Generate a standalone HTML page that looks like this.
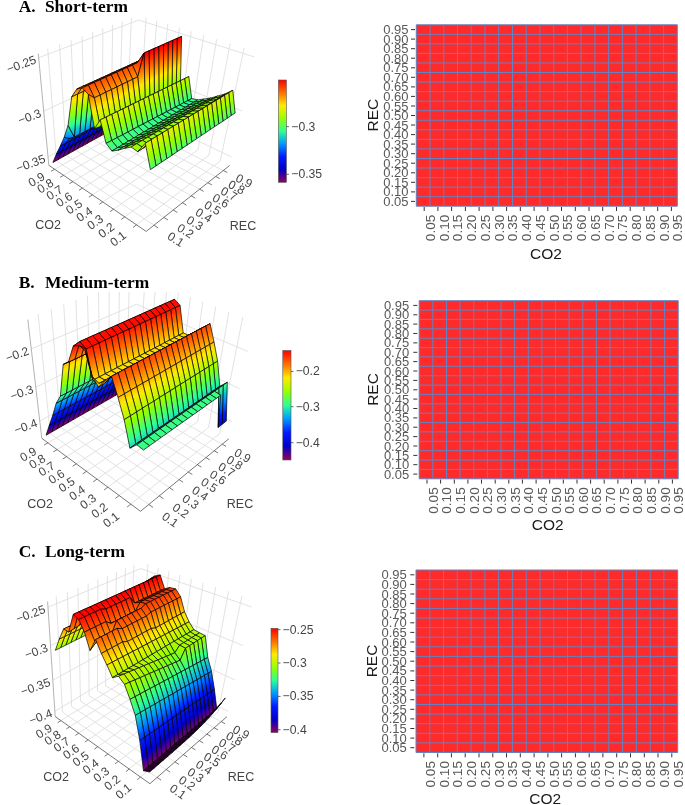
<!DOCTYPE html><html><head><meta charset="utf-8"><title>Figure</title><style>html,body{margin:0;padding:0;background:#fff}svg{display:block}</style></head><body><svg width="685" height="805" viewBox="0 0 685 805" font-family="'Liberation Sans',sans-serif"><g><defs><linearGradient id="a1" gradientUnits="userSpaceOnUse" x1="134.3" y1="117.2" x2="131.9" y2="112.9"><stop offset="0" stop-color="#96005a"/><stop offset="0.007" stop-color="#96005a"/><stop offset="0.99" stop-color="#0000c8"/><stop offset="1" stop-color="#0000c9"/></linearGradient><linearGradient id="a2" gradientUnits="userSpaceOnUse" x1="139.2" y1="108.9" x2="137.2" y2="105.1"><stop offset="0" stop-color="#0000c9"/><stop offset="1" stop-color="#0017fb"/></linearGradient><linearGradient id="a3" gradientUnits="userSpaceOnUse" x1="130.4" y1="119.4" x2="128" y2="115"><stop offset="0" stop-color="#96005a"/><stop offset="0.007" stop-color="#96005a"/><stop offset="0.99" stop-color="#0000c8"/><stop offset="1" stop-color="#0000c9"/></linearGradient><linearGradient id="a4" gradientUnits="userSpaceOnUse" x1="144" y1="101.4" x2="142.9" y2="99.4"><stop offset="0" stop-color="#0017fb"/><stop offset="0.114" stop-color="#0019ff"/><stop offset="1" stop-color="#0066ff"/></linearGradient><linearGradient id="a5" gradientUnits="userSpaceOnUse" x1="135.2" y1="111.1" x2="133.2" y2="107.3"><stop offset="0" stop-color="#0000c9"/><stop offset="1" stop-color="#0017fb"/></linearGradient><linearGradient id="a6" gradientUnits="userSpaceOnUse" x1="126.4" y1="121.6" x2="124" y2="117.2"><stop offset="0" stop-color="#96005a"/><stop offset="0.007" stop-color="#96005a"/><stop offset="0.99" stop-color="#0000c8"/><stop offset="1" stop-color="#0000c9"/></linearGradient><linearGradient id="a7" gradientUnits="userSpaceOnUse" x1="148.4" y1="96.4" x2="148.9" y2="97.4"><stop offset="0" stop-color="#0066ff"/><stop offset="1" stop-color="#008fff"/></linearGradient><linearGradient id="a8" gradientUnits="userSpaceOnUse" x1="139.9" y1="103.6" x2="138.8" y2="101.5"><stop offset="0" stop-color="#0017fb"/><stop offset="0.114" stop-color="#0019ff"/><stop offset="1" stop-color="#0066ff"/></linearGradient><linearGradient id="a9" gradientUnits="userSpaceOnUse" x1="131.2" y1="113.3" x2="129.1" y2="109.4"><stop offset="0" stop-color="#0000c9"/><stop offset="1" stop-color="#0017fb"/></linearGradient><linearGradient id="a10" gradientUnits="userSpaceOnUse" x1="122.3" y1="123.9" x2="119.9" y2="119.4"><stop offset="0" stop-color="#96005a"/><stop offset="0.007" stop-color="#96005a"/><stop offset="0.99" stop-color="#0000c8"/><stop offset="1" stop-color="#0000c9"/></linearGradient><linearGradient id="a11" gradientUnits="userSpaceOnUse" x1="162.7" y1="90.4" x2="148.4" y2="61.5"><stop offset="0" stop-color="#008fff"/><stop offset="0.02" stop-color="#0098ff"/><stop offset="0.311" stop-color="#2cff96"/><stop offset="0.602" stop-color="#97ff00"/><stop offset="0.893" stop-color="#ffea00"/><stop offset="1" stop-color="#ffbd00"/></linearGradient><linearGradient id="a12" gradientUnits="userSpaceOnUse" x1="144.3" y1="98.6" x2="144.8" y2="99.5"><stop offset="0" stop-color="#0066ff"/><stop offset="1" stop-color="#008fff"/></linearGradient><linearGradient id="a13" gradientUnits="userSpaceOnUse" x1="135.8" y1="105.8" x2="134.7" y2="103.7"><stop offset="0" stop-color="#0017fb"/><stop offset="0.114" stop-color="#0019ff"/><stop offset="1" stop-color="#0066ff"/></linearGradient><linearGradient id="a14" gradientUnits="userSpaceOnUse" x1="127.1" y1="115.5" x2="125" y2="111.6"><stop offset="0" stop-color="#0000c9"/><stop offset="1" stop-color="#0017fb"/></linearGradient><linearGradient id="a15" gradientUnits="userSpaceOnUse" x1="118.2" y1="126.1" x2="115.8" y2="121.7"><stop offset="0" stop-color="#96005a"/><stop offset="0.007" stop-color="#96005a"/><stop offset="0.99" stop-color="#0000c8"/><stop offset="1" stop-color="#0000c9"/></linearGradient><linearGradient id="a16" gradientUnits="userSpaceOnUse" x1="164" y1="54" x2="162.3" y2="50.2"><stop offset="0" stop-color="#ffbd00"/><stop offset="0.906" stop-color="#ff6f00"/><stop offset="1" stop-color="#ff6800"/></linearGradient><linearGradient id="a17" gradientUnits="userSpaceOnUse" x1="158.6" y1="92.6" x2="144.2" y2="63.5"><stop offset="0" stop-color="#008fff"/><stop offset="0.02" stop-color="#0098ff"/><stop offset="0.311" stop-color="#2cff96"/><stop offset="0.602" stop-color="#97ff00"/><stop offset="0.893" stop-color="#ffea00"/><stop offset="1" stop-color="#ffbd00"/></linearGradient><linearGradient id="a18" gradientUnits="userSpaceOnUse" x1="140.2" y1="100.8" x2="140.7" y2="101.7"><stop offset="0" stop-color="#0066ff"/><stop offset="1" stop-color="#008fff"/></linearGradient><linearGradient id="a19" gradientUnits="userSpaceOnUse" x1="131.7" y1="108.1" x2="130.5" y2="105.9"><stop offset="0" stop-color="#0017fb"/><stop offset="0.114" stop-color="#0019ff"/><stop offset="1" stop-color="#0066ff"/></linearGradient><linearGradient id="a20" gradientUnits="userSpaceOnUse" x1="122.9" y1="117.8" x2="120.8" y2="113.9"><stop offset="0" stop-color="#0000c9"/><stop offset="1" stop-color="#0017fb"/></linearGradient><linearGradient id="a21" gradientUnits="userSpaceOnUse" x1="114.1" y1="128.5" x2="111.6" y2="124"><stop offset="0" stop-color="#96005a"/><stop offset="0.007" stop-color="#96005a"/><stop offset="0.99" stop-color="#0000c8"/><stop offset="1" stop-color="#0000c9"/></linearGradient><linearGradient id="a22" gradientUnits="userSpaceOnUse" x1="159.6" y1="56" x2="157.9" y2="52.2"><stop offset="0" stop-color="#ffbd00"/><stop offset="0.906" stop-color="#ff6f00"/><stop offset="1" stop-color="#ff6800"/></linearGradient><linearGradient id="a23" gradientUnits="userSpaceOnUse" x1="154.4" y1="94.9" x2="139.8" y2="65.5"><stop offset="0" stop-color="#008fff"/><stop offset="0.02" stop-color="#0098ff"/><stop offset="0.311" stop-color="#2cff96"/><stop offset="0.602" stop-color="#97ff00"/><stop offset="0.893" stop-color="#ffea00"/><stop offset="1" stop-color="#ffbd00"/></linearGradient><linearGradient id="a24" gradientUnits="userSpaceOnUse" x1="136" y1="103" x2="136.5" y2="104"><stop offset="0" stop-color="#0066ff"/><stop offset="1" stop-color="#008fff"/></linearGradient><linearGradient id="a25" gradientUnits="userSpaceOnUse" x1="177" y1="44.7" x2="174.7" y2="39.4"><stop offset="0" stop-color="#ff4b00"/><stop offset="0.84" stop-color="#ff0000"/><stop offset="1" stop-color="#ff0000"/></linearGradient><linearGradient id="a26" gradientUnits="userSpaceOnUse" x1="127.4" y1="110.3" x2="126.3" y2="108.2"><stop offset="0" stop-color="#0017fb"/><stop offset="0.114" stop-color="#0019ff"/><stop offset="1" stop-color="#0066ff"/></linearGradient><linearGradient id="a27" gradientUnits="userSpaceOnUse" x1="118.7" y1="120.1" x2="116.5" y2="116.2"><stop offset="0" stop-color="#0000c9"/><stop offset="1" stop-color="#0017fb"/></linearGradient><linearGradient id="a28" gradientUnits="userSpaceOnUse" x1="109.8" y1="130.8" x2="107.3" y2="126.3"><stop offset="0" stop-color="#96005a"/><stop offset="0.007" stop-color="#96005a"/><stop offset="0.99" stop-color="#0000c8"/><stop offset="1" stop-color="#0000c9"/></linearGradient><linearGradient id="a29" gradientUnits="userSpaceOnUse" x1="155.2" y1="58" x2="153.5" y2="54.2"><stop offset="0" stop-color="#ffbd00"/><stop offset="0.906" stop-color="#ff6f00"/><stop offset="1" stop-color="#ff6800"/></linearGradient><linearGradient id="a30" gradientUnits="userSpaceOnUse" x1="150.1" y1="97.1" x2="135.4" y2="67.5"><stop offset="0" stop-color="#008fff"/><stop offset="0.02" stop-color="#0098ff"/><stop offset="0.311" stop-color="#2cff96"/><stop offset="0.602" stop-color="#97ff00"/><stop offset="0.893" stop-color="#ffea00"/><stop offset="1" stop-color="#ffbd00"/></linearGradient><linearGradient id="a31" gradientUnits="userSpaceOnUse" x1="190.9" y1="92.6" x2="166.5" y2="43.8"><stop offset="0" stop-color="#1cd9bd"/><stop offset="0.082" stop-color="#2cff96"/><stop offset="0.304" stop-color="#97ff00"/><stop offset="0.527" stop-color="#ffea00"/><stop offset="0.749" stop-color="#ff6f00"/><stop offset="0.971" stop-color="#ff0000"/><stop offset="1" stop-color="#ff0000"/></linearGradient><linearGradient id="a32" gradientUnits="userSpaceOnUse" x1="131.7" y1="105.3" x2="132.2" y2="106.3"><stop offset="0" stop-color="#0066ff"/><stop offset="1" stop-color="#008fff"/></linearGradient><linearGradient id="a33" gradientUnits="userSpaceOnUse" x1="123.1" y1="112.6" x2="122" y2="110.5"><stop offset="0" stop-color="#0017fb"/><stop offset="0.114" stop-color="#0019ff"/><stop offset="1" stop-color="#0066ff"/></linearGradient><linearGradient id="a34" gradientUnits="userSpaceOnUse" x1="172.6" y1="46.7" x2="170.2" y2="41.4"><stop offset="0" stop-color="#ff4b00"/><stop offset="0.84" stop-color="#ff0000"/><stop offset="1" stop-color="#ff0000"/></linearGradient><linearGradient id="a35" gradientUnits="userSpaceOnUse" x1="114.4" y1="122.4" x2="112.2" y2="118.5"><stop offset="0" stop-color="#0000c9"/><stop offset="1" stop-color="#0017fb"/></linearGradient><linearGradient id="a36" gradientUnits="userSpaceOnUse" x1="105.5" y1="133.2" x2="103" y2="128.6"><stop offset="0" stop-color="#96005a"/><stop offset="0.007" stop-color="#96005a"/><stop offset="0.99" stop-color="#0000c8"/><stop offset="1" stop-color="#0000c9"/></linearGradient><linearGradient id="a37" gradientUnits="userSpaceOnUse" x1="185.9" y1="94.8" x2="178.8" y2="81.8"><stop offset="0" stop-color="#1cd9bd"/><stop offset="0.195" stop-color="#2cff96"/><stop offset="0.723" stop-color="#97ff00"/><stop offset="1" stop-color="#cdf400"/></linearGradient><linearGradient id="a38" gradientUnits="userSpaceOnUse" x1="150.7" y1="60.1" x2="149" y2="56.3"><stop offset="0" stop-color="#ffbd00"/><stop offset="0.906" stop-color="#ff6f00"/><stop offset="1" stop-color="#ff6800"/></linearGradient><linearGradient id="a39" gradientUnits="userSpaceOnUse" x1="145.7" y1="99.5" x2="130.9" y2="69.6"><stop offset="0" stop-color="#008fff"/><stop offset="0.02" stop-color="#0098ff"/><stop offset="0.311" stop-color="#2cff96"/><stop offset="0.602" stop-color="#97ff00"/><stop offset="0.893" stop-color="#ffea00"/><stop offset="1" stop-color="#ffbd00"/></linearGradient><linearGradient id="a40" gradientUnits="userSpaceOnUse" x1="186.8" y1="95" x2="162.1" y2="45.7"><stop offset="0" stop-color="#1cd9bd"/><stop offset="0.082" stop-color="#2cff96"/><stop offset="0.304" stop-color="#97ff00"/><stop offset="0.527" stop-color="#ffea00"/><stop offset="0.749" stop-color="#ff6f00"/><stop offset="0.971" stop-color="#ff0000"/><stop offset="1" stop-color="#ff0000"/></linearGradient><linearGradient id="a41" gradientUnits="userSpaceOnUse" x1="127.3" y1="107.6" x2="127.9" y2="108.6"><stop offset="0" stop-color="#0066ff"/><stop offset="1" stop-color="#008fff"/></linearGradient><linearGradient id="a42" gradientUnits="userSpaceOnUse" x1="118.8" y1="115" x2="117.6" y2="112.8"><stop offset="0" stop-color="#0017fb"/><stop offset="0.114" stop-color="#0019ff"/><stop offset="1" stop-color="#0066ff"/></linearGradient><linearGradient id="a43" gradientUnits="userSpaceOnUse" x1="110" y1="124.8" x2="107.8" y2="120.9"><stop offset="0" stop-color="#0000c9"/><stop offset="1" stop-color="#0017fb"/></linearGradient><linearGradient id="a44" gradientUnits="userSpaceOnUse" x1="101.2" y1="135.6" x2="98.6" y2="131"><stop offset="0" stop-color="#96005a"/><stop offset="0.007" stop-color="#96005a"/><stop offset="0.99" stop-color="#0000c8"/><stop offset="1" stop-color="#0000c9"/></linearGradient><linearGradient id="a45" gradientUnits="userSpaceOnUse" x1="168.1" y1="48.7" x2="165.7" y2="43.4"><stop offset="0" stop-color="#ff4b00"/><stop offset="0.84" stop-color="#ff0000"/><stop offset="1" stop-color="#ff0000"/></linearGradient><linearGradient id="a46" gradientUnits="userSpaceOnUse" x1="193.4" y1="97.7" x2="183" y2="79.6"><stop offset="0" stop-color="#2afb9a"/><stop offset="0.022" stop-color="#2cff96"/><stop offset="0.664" stop-color="#97ff00"/><stop offset="1" stop-color="#cdf400"/></linearGradient><linearGradient id="a47" gradientUnits="userSpaceOnUse" x1="181.8" y1="97.2" x2="174.6" y2="83.9"><stop offset="0" stop-color="#1cd9bd"/><stop offset="0.193" stop-color="#2cff96"/><stop offset="0.718" stop-color="#97ff00"/><stop offset="1" stop-color="#cff400"/></linearGradient><linearGradient id="a48" gradientUnits="userSpaceOnUse" x1="146.1" y1="62.2" x2="144.4" y2="58.4"><stop offset="0" stop-color="#ffbd00"/><stop offset="0.906" stop-color="#ff6f00"/><stop offset="1" stop-color="#ff6800"/></linearGradient><linearGradient id="a49" gradientUnits="userSpaceOnUse" x1="141.3" y1="101.8" x2="126.4" y2="71.7"><stop offset="0" stop-color="#008fff"/><stop offset="0.02" stop-color="#0098ff"/><stop offset="0.311" stop-color="#2cff96"/><stop offset="0.602" stop-color="#97ff00"/><stop offset="0.893" stop-color="#ffea00"/><stop offset="1" stop-color="#ffbd00"/></linearGradient><linearGradient id="a50" gradientUnits="userSpaceOnUse" x1="122.9" y1="110" x2="123.4" y2="110.9"><stop offset="0" stop-color="#0066ff"/><stop offset="1" stop-color="#008fff"/></linearGradient><linearGradient id="a51" gradientUnits="userSpaceOnUse" x1="182.5" y1="97.4" x2="157.6" y2="47.7"><stop offset="0" stop-color="#1cd9bd"/><stop offset="0.082" stop-color="#2cff96"/><stop offset="0.304" stop-color="#97ff00"/><stop offset="0.527" stop-color="#ffea00"/><stop offset="0.749" stop-color="#ff6f00"/><stop offset="0.971" stop-color="#ff0000"/><stop offset="1" stop-color="#ff0000"/></linearGradient><linearGradient id="a52" gradientUnits="userSpaceOnUse" x1="114.3" y1="117.4" x2="113.1" y2="115.2"><stop offset="0" stop-color="#0017fb"/><stop offset="0.114" stop-color="#0019ff"/><stop offset="1" stop-color="#0066ff"/></linearGradient><linearGradient id="a53" gradientUnits="userSpaceOnUse" x1="96.7" y1="138.1" x2="94.2" y2="133.5"><stop offset="0" stop-color="#96005a"/><stop offset="0.007" stop-color="#96005a"/><stop offset="0.99" stop-color="#0000c8"/><stop offset="1" stop-color="#0000c9"/></linearGradient><linearGradient id="a54" gradientUnits="userSpaceOnUse" x1="105.5" y1="127.3" x2="103.4" y2="123.2"><stop offset="0" stop-color="#0000c9"/><stop offset="1" stop-color="#0017fb"/></linearGradient><linearGradient id="a55" gradientUnits="userSpaceOnUse" x1="163.6" y1="50.8" x2="161.1" y2="45.4"><stop offset="0" stop-color="#ff4b00"/><stop offset="0.84" stop-color="#ff0000"/><stop offset="1" stop-color="#ff0000"/></linearGradient><linearGradient id="a56" gradientUnits="userSpaceOnUse" x1="189.3" y1="99.8" x2="178.9" y2="81.6"><stop offset="0" stop-color="#2bfe97"/><stop offset="0.008" stop-color="#2cff96"/><stop offset="0.653" stop-color="#97ff00"/><stop offset="1" stop-color="#cff400"/></linearGradient><linearGradient id="a57" gradientUnits="userSpaceOnUse" x1="141.5" y1="64.4" x2="139.7" y2="60.5"><stop offset="0" stop-color="#ffbd00"/><stop offset="0.906" stop-color="#ff6f00"/><stop offset="1" stop-color="#ff6800"/></linearGradient><linearGradient id="a58" gradientUnits="userSpaceOnUse" x1="177.6" y1="99.5" x2="170.3" y2="86"><stop offset="0" stop-color="#1cd9bd"/><stop offset="0.192" stop-color="#2cff96"/><stop offset="0.712" stop-color="#97ff00"/><stop offset="1" stop-color="#d1f300"/></linearGradient><linearGradient id="a59" gradientUnits="userSpaceOnUse" x1="136.8" y1="104.2" x2="121.7" y2="73.9"><stop offset="0" stop-color="#008fff"/><stop offset="0.02" stop-color="#0098ff"/><stop offset="0.311" stop-color="#2cff96"/><stop offset="0.602" stop-color="#97ff00"/><stop offset="0.893" stop-color="#ffea00"/><stop offset="1" stop-color="#ffbd00"/></linearGradient><linearGradient id="a60" gradientUnits="userSpaceOnUse" x1="118.4" y1="112.4" x2="119" y2="113.3"><stop offset="0" stop-color="#0066ff"/><stop offset="1" stop-color="#008fff"/></linearGradient><linearGradient id="a61" gradientUnits="userSpaceOnUse" x1="92.2" y1="140.6" x2="89.6" y2="135.9"><stop offset="0" stop-color="#96005a"/><stop offset="0.007" stop-color="#96005a"/><stop offset="0.99" stop-color="#0000c8"/><stop offset="1" stop-color="#0000c9"/></linearGradient><linearGradient id="a62" gradientUnits="userSpaceOnUse" x1="109.8" y1="119.8" x2="108.6" y2="117.6"><stop offset="0" stop-color="#0017fb"/><stop offset="0.114" stop-color="#0019ff"/><stop offset="1" stop-color="#0066ff"/></linearGradient><linearGradient id="a63" gradientUnits="userSpaceOnUse" x1="101" y1="129.7" x2="98.8" y2="125.7"><stop offset="0" stop-color="#0000c9"/><stop offset="1" stop-color="#0017fb"/></linearGradient><linearGradient id="a64" gradientUnits="userSpaceOnUse" x1="178.2" y1="99.9" x2="153.1" y2="49.7"><stop offset="0" stop-color="#1cd9bd"/><stop offset="0.082" stop-color="#2cff96"/><stop offset="0.304" stop-color="#97ff00"/><stop offset="0.527" stop-color="#ffea00"/><stop offset="0.749" stop-color="#ff6f00"/><stop offset="0.971" stop-color="#ff0000"/><stop offset="1" stop-color="#ff0000"/></linearGradient><linearGradient id="a65" gradientUnits="userSpaceOnUse" x1="158.9" y1="52.9" x2="156.5" y2="47.5"><stop offset="0" stop-color="#ff4b00"/><stop offset="0.84" stop-color="#ff0000"/><stop offset="1" stop-color="#ff0000"/></linearGradient><linearGradient id="a66" gradientUnits="userSpaceOnUse" x1="185.1" y1="102" x2="174.6" y2="83.7"><stop offset="0" stop-color="#2dff95"/><stop offset="0.642" stop-color="#97ff00"/><stop offset="1" stop-color="#d1f300"/></linearGradient><linearGradient id="a67" gradientUnits="userSpaceOnUse" x1="136.7" y1="66.6" x2="134.9" y2="62.7"><stop offset="0" stop-color="#ffbd00"/><stop offset="0.906" stop-color="#ff6f00"/><stop offset="1" stop-color="#ff6800"/></linearGradient><linearGradient id="a68" gradientUnits="userSpaceOnUse" x1="132.2" y1="106.7" x2="117" y2="76.1"><stop offset="0" stop-color="#008fff"/><stop offset="0.02" stop-color="#0098ff"/><stop offset="0.311" stop-color="#2cff96"/><stop offset="0.602" stop-color="#97ff00"/><stop offset="0.893" stop-color="#ffea00"/><stop offset="1" stop-color="#ffbd00"/></linearGradient><linearGradient id="a69" gradientUnits="userSpaceOnUse" x1="173.4" y1="101.9" x2="165.9" y2="88.1"><stop offset="0" stop-color="#1cd9bd"/><stop offset="0.19" stop-color="#2cff96"/><stop offset="0.706" stop-color="#97ff00"/><stop offset="1" stop-color="#d2f300"/></linearGradient><linearGradient id="a70" gradientUnits="userSpaceOnUse" x1="87.6" y1="143.2" x2="85" y2="138.4"><stop offset="0" stop-color="#96005a"/><stop offset="0.007" stop-color="#96005a"/><stop offset="0.99" stop-color="#0000c8"/><stop offset="1" stop-color="#0000c9"/></linearGradient><linearGradient id="a71" gradientUnits="userSpaceOnUse" x1="113.9" y1="114.8" x2="114.4" y2="115.8"><stop offset="0" stop-color="#0066ff"/><stop offset="1" stop-color="#008fff"/></linearGradient><linearGradient id="a72" gradientUnits="userSpaceOnUse" x1="96.4" y1="132.2" x2="94.2" y2="128.2"><stop offset="0" stop-color="#0000c9"/><stop offset="1" stop-color="#0017fb"/></linearGradient><linearGradient id="a73" gradientUnits="userSpaceOnUse" x1="105.2" y1="122.2" x2="104" y2="120"><stop offset="0" stop-color="#0017fb"/><stop offset="0.114" stop-color="#0019ff"/><stop offset="1" stop-color="#0066ff"/></linearGradient><linearGradient id="a74" gradientUnits="userSpaceOnUse" x1="211.7" y1="97.4" x2="212.6" y2="99"><stop offset="0" stop-color="#6aff3f"/><stop offset="1" stop-color="#90ff0a"/></linearGradient><linearGradient id="a75" gradientUnits="userSpaceOnUse" x1="173.8" y1="102.4" x2="148.5" y2="51.7"><stop offset="0" stop-color="#1cd9bd"/><stop offset="0.082" stop-color="#2cff96"/><stop offset="0.304" stop-color="#97ff00"/><stop offset="0.527" stop-color="#ffea00"/><stop offset="0.749" stop-color="#ff6f00"/><stop offset="0.971" stop-color="#ff0000"/><stop offset="1" stop-color="#ff0000"/></linearGradient><linearGradient id="a76" gradientUnits="userSpaceOnUse" x1="154.2" y1="55.1" x2="151.7" y2="49.6"><stop offset="0" stop-color="#ff4b00"/><stop offset="0.84" stop-color="#ff0000"/><stop offset="1" stop-color="#ff0000"/></linearGradient><linearGradient id="a77" gradientUnits="userSpaceOnUse" x1="200.7" y1="101" x2="201.9" y2="103.2"><stop offset="0" stop-color="#4eff66"/><stop offset="1" stop-color="#6cff3c"/></linearGradient><linearGradient id="a78" gradientUnits="userSpaceOnUse" x1="180.9" y1="104.2" x2="170.3" y2="85.8"><stop offset="0" stop-color="#2fff91"/><stop offset="0.63" stop-color="#97ff00"/><stop offset="1" stop-color="#d2f300"/></linearGradient><linearGradient id="a79" gradientUnits="userSpaceOnUse" x1="218.6" y1="95.3" x2="219.9" y2="97.3"><stop offset="0" stop-color="#8fff0c"/><stop offset="0.225" stop-color="#97ff00"/><stop offset="1" stop-color="#b3f900"/></linearGradient><linearGradient id="a80" gradientUnits="userSpaceOnUse" x1="131.9" y1="68.8" x2="130.1" y2="64.9"><stop offset="0" stop-color="#ffbd00"/><stop offset="0.906" stop-color="#ff6f00"/><stop offset="1" stop-color="#ff6800"/></linearGradient><linearGradient id="a81" gradientUnits="userSpaceOnUse" x1="83" y1="145.8" x2="80.4" y2="141"><stop offset="0" stop-color="#96005a"/><stop offset="0.007" stop-color="#96005a"/><stop offset="0.99" stop-color="#0000c8"/><stop offset="1" stop-color="#0000c9"/></linearGradient><linearGradient id="a82" gradientUnits="userSpaceOnUse" x1="127.5" y1="109.2" x2="112.2" y2="78.3"><stop offset="0" stop-color="#008fff"/><stop offset="0.02" stop-color="#0098ff"/><stop offset="0.311" stop-color="#2cff96"/><stop offset="0.602" stop-color="#97ff00"/><stop offset="0.893" stop-color="#ffea00"/><stop offset="1" stop-color="#ffbd00"/></linearGradient><linearGradient id="a83" gradientUnits="userSpaceOnUse" x1="91.7" y1="134.8" x2="89.5" y2="130.7"><stop offset="0" stop-color="#0000c9"/><stop offset="1" stop-color="#0017fb"/></linearGradient><linearGradient id="a84" gradientUnits="userSpaceOnUse" x1="109.2" y1="117.2" x2="109.7" y2="118.2"><stop offset="0" stop-color="#0066ff"/><stop offset="1" stop-color="#008fff"/></linearGradient><linearGradient id="a85" gradientUnits="userSpaceOnUse" x1="100.5" y1="124.8" x2="99.3" y2="122.5"><stop offset="0" stop-color="#0017fb"/><stop offset="0.114" stop-color="#0019ff"/><stop offset="1" stop-color="#0066ff"/></linearGradient><linearGradient id="a86" gradientUnits="userSpaceOnUse" x1="169.1" y1="104.4" x2="161.5" y2="90.3"><stop offset="0" stop-color="#1cd9bd"/><stop offset="0.189" stop-color="#2cff96"/><stop offset="0.701" stop-color="#97ff00"/><stop offset="1" stop-color="#d4f300"/></linearGradient><linearGradient id="a87" gradientUnits="userSpaceOnUse" x1="207.6" y1="99.8" x2="208.5" y2="101.4"><stop offset="0" stop-color="#6bff3e"/><stop offset="1" stop-color="#91ff09"/></linearGradient><linearGradient id="a88" gradientUnits="userSpaceOnUse" x1="169.4" y1="104.9" x2="143.8" y2="53.8"><stop offset="0" stop-color="#1cd9bd"/><stop offset="0.082" stop-color="#2cff96"/><stop offset="0.304" stop-color="#97ff00"/><stop offset="0.527" stop-color="#ffea00"/><stop offset="0.749" stop-color="#ff6f00"/><stop offset="0.971" stop-color="#ff0000"/><stop offset="1" stop-color="#ff0000"/></linearGradient><linearGradient id="a89" gradientUnits="userSpaceOnUse" x1="226.5" y1="93" x2="227.1" y2="93.9"><stop offset="0" stop-color="#b1fa00"/><stop offset="1" stop-color="#e3f000"/></linearGradient><linearGradient id="a90" gradientUnits="userSpaceOnUse" x1="149.3" y1="57.3" x2="146.9" y2="51.8"><stop offset="0" stop-color="#ff4b00"/><stop offset="0.84" stop-color="#ff0000"/><stop offset="1" stop-color="#ff0000"/></linearGradient><linearGradient id="a91" gradientUnits="userSpaceOnUse" x1="78.3" y1="148.4" x2="75.6" y2="143.6"><stop offset="0" stop-color="#96005a"/><stop offset="0.007" stop-color="#96005a"/><stop offset="0.99" stop-color="#0000c8"/><stop offset="1" stop-color="#0000c9"/></linearGradient><linearGradient id="a92" gradientUnits="userSpaceOnUse" x1="196.5" y1="103.5" x2="197.7" y2="105.6"><stop offset="0" stop-color="#4eff66"/><stop offset="1" stop-color="#6dff3b"/></linearGradient><linearGradient id="a93" gradientUnits="userSpaceOnUse" x1="176.6" y1="106.5" x2="165.9" y2="87.9"><stop offset="0" stop-color="#32ff8e"/><stop offset="0.619" stop-color="#97ff00"/><stop offset="1" stop-color="#d4f300"/></linearGradient><linearGradient id="a94" gradientUnits="userSpaceOnUse" x1="127" y1="71.1" x2="125.1" y2="67.1"><stop offset="0" stop-color="#ffbd00"/><stop offset="0.906" stop-color="#ff6f00"/><stop offset="1" stop-color="#ff6800"/></linearGradient><linearGradient id="a95" gradientUnits="userSpaceOnUse" x1="87" y1="137.4" x2="84.8" y2="133.2"><stop offset="0" stop-color="#0000c9"/><stop offset="1" stop-color="#0017fb"/></linearGradient><linearGradient id="a96" gradientUnits="userSpaceOnUse" x1="122.8" y1="111.7" x2="107.3" y2="80.5"><stop offset="0" stop-color="#008fff"/><stop offset="0.02" stop-color="#0098ff"/><stop offset="0.311" stop-color="#2cff96"/><stop offset="0.602" stop-color="#97ff00"/><stop offset="0.893" stop-color="#ffea00"/><stop offset="1" stop-color="#ffbd00"/></linearGradient><linearGradient id="a97" gradientUnits="userSpaceOnUse" x1="95.8" y1="127.3" x2="94.6" y2="125"><stop offset="0" stop-color="#0017fb"/><stop offset="0.114" stop-color="#0019ff"/><stop offset="1" stop-color="#0066ff"/></linearGradient><linearGradient id="a98" gradientUnits="userSpaceOnUse" x1="104.5" y1="119.8" x2="105" y2="120.8"><stop offset="0" stop-color="#0066ff"/><stop offset="1" stop-color="#008fff"/></linearGradient><linearGradient id="a99" gradientUnits="userSpaceOnUse" x1="214.5" y1="97.8" x2="215.9" y2="100"><stop offset="0" stop-color="#90ff0a"/><stop offset="0.215" stop-color="#97ff00"/><stop offset="1" stop-color="#b1fa00"/></linearGradient><linearGradient id="a100" gradientUnits="userSpaceOnUse" x1="237.5" y1="111.4" x2="226.3" y2="94.4"><stop offset="0" stop-color="#44ff74"/><stop offset="0.517" stop-color="#97ff00"/><stop offset="1" stop-color="#e3f000"/></linearGradient><linearGradient id="a101" gradientUnits="userSpaceOnUse" x1="164.7" y1="106.9" x2="156.9" y2="92.5"><stop offset="0" stop-color="#1cd9bd"/><stop offset="0.187" stop-color="#2cff96"/><stop offset="0.695" stop-color="#97ff00"/><stop offset="1" stop-color="#d5f200"/></linearGradient><linearGradient id="a102" gradientUnits="userSpaceOnUse" x1="164.8" y1="107.5" x2="139" y2="55.9"><stop offset="0" stop-color="#1cd9bd"/><stop offset="0.082" stop-color="#2cff96"/><stop offset="0.304" stop-color="#97ff00"/><stop offset="0.527" stop-color="#ffea00"/><stop offset="0.749" stop-color="#ff6f00"/><stop offset="0.971" stop-color="#ff0000"/><stop offset="1" stop-color="#ff0000"/></linearGradient><linearGradient id="a103" gradientUnits="userSpaceOnUse" x1="203.5" y1="102.2" x2="204.4" y2="103.9"><stop offset="0" stop-color="#6cff3c"/><stop offset="1" stop-color="#91ff08"/></linearGradient><linearGradient id="a104" gradientUnits="userSpaceOnUse" x1="144.4" y1="59.5" x2="141.9" y2="54"><stop offset="0" stop-color="#ff4b00"/><stop offset="0.84" stop-color="#ff0000"/><stop offset="1" stop-color="#ff0000"/></linearGradient><linearGradient id="a105" gradientUnits="userSpaceOnUse" x1="222.4" y1="95.7" x2="222.9" y2="96.4"><stop offset="0" stop-color="#affa00"/><stop offset="1" stop-color="#e3f000"/></linearGradient><linearGradient id="a106" gradientUnits="userSpaceOnUse" x1="73.5" y1="151.1" x2="70.8" y2="146.2"><stop offset="0" stop-color="#96005a"/><stop offset="0.007" stop-color="#96005a"/><stop offset="0.99" stop-color="#0000c8"/><stop offset="1" stop-color="#0000c9"/></linearGradient><linearGradient id="a107" gradientUnits="userSpaceOnUse" x1="82.2" y1="140" x2="79.9" y2="135.8"><stop offset="0" stop-color="#0000c9"/><stop offset="1" stop-color="#0017fb"/></linearGradient><linearGradient id="a108" gradientUnits="userSpaceOnUse" x1="122" y1="73.4" x2="120.1" y2="69.4"><stop offset="0" stop-color="#ffbd00"/><stop offset="0.906" stop-color="#ff6f00"/><stop offset="1" stop-color="#ff6800"/></linearGradient><linearGradient id="a109" gradientUnits="userSpaceOnUse" x1="91" y1="129.9" x2="89.7" y2="127.6"><stop offset="0" stop-color="#0017fb"/><stop offset="0.114" stop-color="#0019ff"/><stop offset="1" stop-color="#0066ff"/></linearGradient><linearGradient id="a110" gradientUnits="userSpaceOnUse" x1="117.9" y1="114.3" x2="102.3" y2="82.8"><stop offset="0" stop-color="#008fff"/><stop offset="0.02" stop-color="#0098ff"/><stop offset="0.311" stop-color="#2cff96"/><stop offset="0.602" stop-color="#97ff00"/><stop offset="0.893" stop-color="#ffea00"/><stop offset="1" stop-color="#ffbd00"/></linearGradient><linearGradient id="a111" gradientUnits="userSpaceOnUse" x1="99.7" y1="122.3" x2="100.2" y2="123.3"><stop offset="0" stop-color="#0066ff"/><stop offset="1" stop-color="#008fff"/></linearGradient><linearGradient id="a112" gradientUnits="userSpaceOnUse" x1="172.1" y1="108.8" x2="161.4" y2="90.1"><stop offset="0" stop-color="#34ff8b"/><stop offset="0.607" stop-color="#97ff00"/><stop offset="1" stop-color="#d5f200"/></linearGradient><linearGradient id="a113" gradientUnits="userSpaceOnUse" x1="192.3" y1="106" x2="193.5" y2="108.1"><stop offset="0" stop-color="#4eff66"/><stop offset="1" stop-color="#6eff3a"/></linearGradient><linearGradient id="a114" gradientUnits="userSpaceOnUse" x1="210.2" y1="100.3" x2="211.8" y2="102.7"><stop offset="0" stop-color="#91ff09"/><stop offset="0.203" stop-color="#97ff00"/><stop offset="1" stop-color="#affa00"/></linearGradient><linearGradient id="a115" gradientUnits="userSpaceOnUse" x1="160.3" y1="109.4" x2="152.3" y2="94.8"><stop offset="0" stop-color="#1cd9bd"/><stop offset="0.186" stop-color="#2cff96"/><stop offset="0.69" stop-color="#97ff00"/><stop offset="1" stop-color="#d7f200"/></linearGradient><linearGradient id="a116" gradientUnits="userSpaceOnUse" x1="233.5" y1="114.1" x2="222.2" y2="96.8"><stop offset="0" stop-color="#44ff74"/><stop offset="0.514" stop-color="#97ff00"/><stop offset="1" stop-color="#e3f000"/></linearGradient><linearGradient id="a117" gradientUnits="userSpaceOnUse" x1="160.2" y1="110.1" x2="134.1" y2="58.1"><stop offset="0" stop-color="#1cd9bd"/><stop offset="0.082" stop-color="#2cff96"/><stop offset="0.304" stop-color="#97ff00"/><stop offset="0.527" stop-color="#ffea00"/><stop offset="0.749" stop-color="#ff6f00"/><stop offset="0.971" stop-color="#ff0000"/><stop offset="1" stop-color="#ff0000"/></linearGradient><linearGradient id="a118" gradientUnits="userSpaceOnUse" x1="68.6" y1="153.8" x2="65.9" y2="148.9"><stop offset="0" stop-color="#96005a"/><stop offset="0.007" stop-color="#96005a"/><stop offset="0.99" stop-color="#0000c8"/><stop offset="1" stop-color="#0000c9"/></linearGradient><linearGradient id="a119" gradientUnits="userSpaceOnUse" x1="135.5" y1="76" x2="140.5" y2="51.5"><stop offset="0" stop-color="#ff9800"/><stop offset="0.226" stop-color="#ff6f00"/><stop offset="0.911" stop-color="#ff0000"/><stop offset="1" stop-color="#ff0000"/></linearGradient><linearGradient id="a120" gradientUnits="userSpaceOnUse" x1="199.2" y1="104.7" x2="200.2" y2="106.3"><stop offset="0" stop-color="#6dff3b"/><stop offset="1" stop-color="#92ff06"/></linearGradient><linearGradient id="a121" gradientUnits="userSpaceOnUse" x1="77.3" y1="142.7" x2="75" y2="138.5"><stop offset="0" stop-color="#0000c9"/><stop offset="1" stop-color="#0017fb"/></linearGradient><linearGradient id="a122" gradientUnits="userSpaceOnUse" x1="86" y1="132.5" x2="84.8" y2="130.2"><stop offset="0" stop-color="#0017fb"/><stop offset="0.114" stop-color="#0019ff"/><stop offset="1" stop-color="#0066ff"/></linearGradient><linearGradient id="a123" gradientUnits="userSpaceOnUse" x1="218.3" y1="98.4" x2="218.7" y2="99"><stop offset="0" stop-color="#aefa00"/><stop offset="1" stop-color="#e4f000"/></linearGradient><linearGradient id="a124" gradientUnits="userSpaceOnUse" x1="116.8" y1="75.8" x2="115" y2="71.7"><stop offset="0" stop-color="#ffbd00"/><stop offset="0.906" stop-color="#ff6f00"/><stop offset="1" stop-color="#ff6800"/></linearGradient><linearGradient id="a125" gradientUnits="userSpaceOnUse" x1="94.8" y1="124.9" x2="95.3" y2="125.9"><stop offset="0" stop-color="#0066ff"/><stop offset="1" stop-color="#008fff"/></linearGradient><linearGradient id="a126" gradientUnits="userSpaceOnUse" x1="113" y1="116.9" x2="97.3" y2="85.2"><stop offset="0" stop-color="#008fff"/><stop offset="0.02" stop-color="#0098ff"/><stop offset="0.311" stop-color="#2cff96"/><stop offset="0.602" stop-color="#97ff00"/><stop offset="0.893" stop-color="#ffea00"/><stop offset="1" stop-color="#ffbd00"/></linearGradient><linearGradient id="a127" gradientUnits="userSpaceOnUse" x1="167.6" y1="111.2" x2="156.9" y2="92.3"><stop offset="0" stop-color="#36ff88"/><stop offset="0.596" stop-color="#97ff00"/><stop offset="1" stop-color="#d7f200"/></linearGradient><linearGradient id="a128" gradientUnits="userSpaceOnUse" x1="188" y1="108.6" x2="189.1" y2="110.6"><stop offset="0" stop-color="#4fff65"/><stop offset="1" stop-color="#6fff38"/></linearGradient><linearGradient id="a129" gradientUnits="userSpaceOnUse" x1="155.7" y1="112" x2="147.6" y2="97.1"><stop offset="0" stop-color="#1cd9bd"/><stop offset="0.184" stop-color="#2cff96"/><stop offset="0.685" stop-color="#97ff00"/><stop offset="1" stop-color="#d8f200"/></linearGradient><linearGradient id="a130" gradientUnits="userSpaceOnUse" x1="63.6" y1="156.5" x2="60.9" y2="151.6"><stop offset="0" stop-color="#96005a"/><stop offset="0.007" stop-color="#96005a"/><stop offset="0.99" stop-color="#0000c8"/><stop offset="1" stop-color="#0000c9"/></linearGradient><linearGradient id="a131" gradientUnits="userSpaceOnUse" x1="229.4" y1="116.8" x2="218" y2="99.4"><stop offset="0" stop-color="#45ff73"/><stop offset="0.511" stop-color="#97ff00"/><stop offset="1" stop-color="#e4f000"/></linearGradient><linearGradient id="a132" gradientUnits="userSpaceOnUse" x1="177" y1="112.2" x2="178.3" y2="114.4"><stop offset="0" stop-color="#31ff8f"/><stop offset="1" stop-color="#4fff65"/></linearGradient><linearGradient id="a133" gradientUnits="userSpaceOnUse" x1="154.5" y1="113.8" x2="127.6" y2="61.1"><stop offset="0" stop-color="#1cd9bd"/><stop offset="0.082" stop-color="#2cff96"/><stop offset="0.304" stop-color="#97ff00"/><stop offset="0.527" stop-color="#ffea00"/><stop offset="0.749" stop-color="#ff6f00"/><stop offset="0.971" stop-color="#ff0000"/><stop offset="1" stop-color="#ff0000"/></linearGradient><linearGradient id="a134" gradientUnits="userSpaceOnUse" x1="72.3" y1="145.4" x2="70" y2="141.2"><stop offset="0" stop-color="#0000c9"/><stop offset="1" stop-color="#0017fb"/></linearGradient><linearGradient id="a135" gradientUnits="userSpaceOnUse" x1="135.2" y1="78" x2="129.7" y2="66.2"><stop offset="0" stop-color="#ff9800"/><stop offset="0.504" stop-color="#ff6f00"/><stop offset="1" stop-color="#ff4b00"/></linearGradient><linearGradient id="a136" gradientUnits="userSpaceOnUse" x1="81" y1="135.2" x2="79.8" y2="132.9"><stop offset="0" stop-color="#0017fb"/><stop offset="0.114" stop-color="#0019ff"/><stop offset="1" stop-color="#0066ff"/></linearGradient><linearGradient id="a137" gradientUnits="userSpaceOnUse" x1="89.8" y1="127.5" x2="90.4" y2="128.6"><stop offset="0" stop-color="#0066ff"/><stop offset="1" stop-color="#008fff"/></linearGradient><linearGradient id="a138" gradientUnits="userSpaceOnUse" x1="194.9" y1="107.2" x2="195.8" y2="108.9"><stop offset="0" stop-color="#6eff3a"/><stop offset="1" stop-color="#93ff05"/></linearGradient><linearGradient id="a139" gradientUnits="userSpaceOnUse" x1="111.6" y1="78.2" x2="109.8" y2="74.1"><stop offset="0" stop-color="#ffbd00"/><stop offset="0.906" stop-color="#ff6f00"/><stop offset="1" stop-color="#ff6800"/></linearGradient><linearGradient id="a140" gradientUnits="userSpaceOnUse" x1="108" y1="119.6" x2="92.1" y2="87.6"><stop offset="0" stop-color="#008fff"/><stop offset="0.02" stop-color="#0098ff"/><stop offset="0.311" stop-color="#2cff96"/><stop offset="0.602" stop-color="#97ff00"/><stop offset="0.893" stop-color="#ffea00"/><stop offset="1" stop-color="#ffbd00"/></linearGradient><linearGradient id="a141" gradientUnits="userSpaceOnUse" x1="214" y1="101.2" x2="214.3" y2="101.6"><stop offset="0" stop-color="#acfb00"/><stop offset="1" stop-color="#e4ef00"/></linearGradient><linearGradient id="a142" gradientUnits="userSpaceOnUse" x1="163.1" y1="113.6" x2="152.2" y2="94.6"><stop offset="0" stop-color="#38ff85"/><stop offset="0.584" stop-color="#97ff00"/><stop offset="1" stop-color="#d8f200"/></linearGradient><linearGradient id="a143" gradientUnits="userSpaceOnUse" x1="58.6" y1="159.4" x2="55.8" y2="154.4"><stop offset="0" stop-color="#96005a"/><stop offset="0.007" stop-color="#96005a"/><stop offset="0.99" stop-color="#0000c8"/><stop offset="1" stop-color="#0000c9"/></linearGradient><linearGradient id="a144" gradientUnits="userSpaceOnUse" x1="183.6" y1="111.2" x2="184.7" y2="113.2"><stop offset="0" stop-color="#4fff65"/><stop offset="1" stop-color="#70ff37"/></linearGradient><linearGradient id="a145" gradientUnits="userSpaceOnUse" x1="150.8" y1="115.7" x2="144.6" y2="97.1"><stop offset="0" stop-color="#1cd9bd"/><stop offset="0.183" stop-color="#2cff96"/><stop offset="0.68" stop-color="#97ff00"/><stop offset="1" stop-color="#daf100"/></linearGradient><linearGradient id="a146" gradientUnits="userSpaceOnUse" x1="67.2" y1="148.2" x2="64.9" y2="143.9"><stop offset="0" stop-color="#0000c9"/><stop offset="1" stop-color="#0017fb"/></linearGradient><linearGradient id="a147" gradientUnits="userSpaceOnUse" x1="144.8" y1="109.4" x2="129.6" y2="81"><stop offset="0" stop-color="#52ff61"/><stop offset="0.279" stop-color="#97ff00"/><stop offset="0.711" stop-color="#ffea00"/><stop offset="1" stop-color="#ff9800"/></linearGradient><linearGradient id="a148" gradientUnits="userSpaceOnUse" x1="76" y1="137.9" x2="74.7" y2="135.6"><stop offset="0" stop-color="#0017fb"/><stop offset="0.114" stop-color="#0019ff"/><stop offset="1" stop-color="#0066ff"/></linearGradient><linearGradient id="a149" gradientUnits="userSpaceOnUse" x1="172.5" y1="114.9" x2="173.8" y2="117"><stop offset="0" stop-color="#31ff8f"/><stop offset="1" stop-color="#4fff64"/></linearGradient><linearGradient id="a150" gradientUnits="userSpaceOnUse" x1="225.3" y1="119.6" x2="213.8" y2="102"><stop offset="0" stop-color="#45ff73"/><stop offset="0.508" stop-color="#97ff00"/><stop offset="1" stop-color="#e4ef00"/></linearGradient><linearGradient id="a151" gradientUnits="userSpaceOnUse" x1="130.1" y1="80.5" x2="124.5" y2="68.6"><stop offset="0" stop-color="#ff9800"/><stop offset="0.504" stop-color="#ff6f00"/><stop offset="1" stop-color="#ff4b00"/></linearGradient><linearGradient id="a152" gradientUnits="userSpaceOnUse" x1="84.8" y1="130.2" x2="85.3" y2="131.3"><stop offset="0" stop-color="#0066ff"/><stop offset="1" stop-color="#008fff"/></linearGradient><linearGradient id="a153" gradientUnits="userSpaceOnUse" x1="102.9" y1="122.3" x2="86.9" y2="90"><stop offset="0" stop-color="#008fff"/><stop offset="0.02" stop-color="#0098ff"/><stop offset="0.311" stop-color="#2cff96"/><stop offset="0.602" stop-color="#97ff00"/><stop offset="0.893" stop-color="#ffea00"/><stop offset="1" stop-color="#ffbd00"/></linearGradient><linearGradient id="a154" gradientUnits="userSpaceOnUse" x1="106.3" y1="80.6" x2="104.4" y2="76.5"><stop offset="0" stop-color="#ffbd00"/><stop offset="0.906" stop-color="#ff6f00"/><stop offset="1" stop-color="#ff6800"/></linearGradient><linearGradient id="a155" gradientUnits="userSpaceOnUse" x1="190.5" y1="109.8" x2="191.4" y2="111.5"><stop offset="0" stop-color="#6fff38"/><stop offset="1" stop-color="#94ff04"/></linearGradient><linearGradient id="a156" gradientUnits="userSpaceOnUse" x1="209.7" y1="104" x2="210" y2="104.4"><stop offset="0" stop-color="#abfb00"/><stop offset="1" stop-color="#e5ef00"/></linearGradient><linearGradient id="a157" gradientUnits="userSpaceOnUse" x1="158.4" y1="116" x2="147.5" y2="96.9"><stop offset="0" stop-color="#3bff81"/><stop offset="0.572" stop-color="#97ff00"/><stop offset="1" stop-color="#daf100"/></linearGradient><linearGradient id="a158" gradientUnits="userSpaceOnUse" x1="62" y1="151" x2="59.7" y2="146.7"><stop offset="0" stop-color="#0000c9"/><stop offset="1" stop-color="#0017fb"/></linearGradient><linearGradient id="a159" gradientUnits="userSpaceOnUse" x1="179.1" y1="113.9" x2="180.2" y2="115.8"><stop offset="0" stop-color="#4fff65"/><stop offset="1" stop-color="#71ff36"/></linearGradient><linearGradient id="a160" gradientUnits="userSpaceOnUse" x1="144.8" y1="109.3" x2="140.3" y2="100.3"><stop offset="0" stop-color="#52ff61"/><stop offset="0.495" stop-color="#97ff00"/><stop offset="1" stop-color="#dcf100"/></linearGradient><linearGradient id="a161" gradientUnits="userSpaceOnUse" x1="70.8" y1="140.7" x2="69.5" y2="138.3"><stop offset="0" stop-color="#0017fb"/><stop offset="0.114" stop-color="#0019ff"/><stop offset="1" stop-color="#0066ff"/></linearGradient><linearGradient id="a162" gradientUnits="userSpaceOnUse" x1="139.7" y1="111.3" x2="124.8" y2="83.4"><stop offset="0" stop-color="#59ff57"/><stop offset="0.258" stop-color="#97ff00"/><stop offset="0.702" stop-color="#ffea00"/><stop offset="1" stop-color="#ff9800"/></linearGradient><linearGradient id="a163" gradientUnits="userSpaceOnUse" x1="79.6" y1="133" x2="80.2" y2="134"><stop offset="0" stop-color="#0066ff"/><stop offset="1" stop-color="#008fff"/></linearGradient><linearGradient id="a164" gradientUnits="userSpaceOnUse" x1="124.9" y1="83" x2="119.2" y2="71"><stop offset="0" stop-color="#ff9800"/><stop offset="0.504" stop-color="#ff6f00"/><stop offset="1" stop-color="#ff4b00"/></linearGradient><linearGradient id="a165" gradientUnits="userSpaceOnUse" x1="97.7" y1="125.1" x2="81.5" y2="92.5"><stop offset="0" stop-color="#008fff"/><stop offset="0.02" stop-color="#0098ff"/><stop offset="0.311" stop-color="#2cff96"/><stop offset="0.602" stop-color="#97ff00"/><stop offset="0.893" stop-color="#ffea00"/><stop offset="1" stop-color="#ffbd00"/></linearGradient><linearGradient id="a166" gradientUnits="userSpaceOnUse" x1="167.9" y1="117.6" x2="169.2" y2="119.7"><stop offset="0" stop-color="#31ff8f"/><stop offset="1" stop-color="#50ff64"/></linearGradient><linearGradient id="a167" gradientUnits="userSpaceOnUse" x1="100.9" y1="83.2" x2="99" y2="78.9"><stop offset="0" stop-color="#ffbd00"/><stop offset="0.906" stop-color="#ff6f00"/><stop offset="1" stop-color="#ff6800"/></linearGradient><linearGradient id="a168" gradientUnits="userSpaceOnUse" x1="221.1" y1="122.4" x2="209.4" y2="104.6"><stop offset="0" stop-color="#45ff73"/><stop offset="0.505" stop-color="#97ff00"/><stop offset="1" stop-color="#e5ef00"/></linearGradient><linearGradient id="a169" gradientUnits="userSpaceOnUse" x1="186" y1="112.4" x2="187" y2="114.1"><stop offset="0" stop-color="#70ff37"/><stop offset="1" stop-color="#95ff03"/></linearGradient><linearGradient id="a170" gradientUnits="userSpaceOnUse" x1="153.6" y1="118.5" x2="142.6" y2="99.3"><stop offset="0" stop-color="#3dff7e"/><stop offset="0.56" stop-color="#97ff00"/><stop offset="1" stop-color="#dcf100"/></linearGradient><linearGradient id="a171" gradientUnits="userSpaceOnUse" x1="65.7" y1="144.1" x2="63.6" y2="137.7"><stop offset="0" stop-color="#0017fb"/><stop offset="0.079" stop-color="#0019ff"/><stop offset="1" stop-color="#008dff"/></linearGradient><linearGradient id="a172" gradientUnits="userSpaceOnUse" x1="205.6" y1="107.4" x2="205.2" y2="106.6"><stop offset="0" stop-color="#a9fb00"/><stop offset="1" stop-color="#e5ef00"/></linearGradient><linearGradient id="a173" gradientUnits="userSpaceOnUse" x1="139.8" y1="111.2" x2="135.5" y2="102.7"><stop offset="0" stop-color="#59ff57"/><stop offset="0.462" stop-color="#97ff00"/><stop offset="1" stop-color="#ddf100"/></linearGradient><linearGradient id="a174" gradientUnits="userSpaceOnUse" x1="174.5" y1="116.6" x2="175.7" y2="118.5"><stop offset="0" stop-color="#4fff64"/><stop offset="1" stop-color="#71ff35"/></linearGradient><linearGradient id="a175" gradientUnits="userSpaceOnUse" x1="74.4" y1="135.8" x2="74.9" y2="136.8"><stop offset="0" stop-color="#0066ff"/><stop offset="1" stop-color="#008fff"/></linearGradient><linearGradient id="a176" gradientUnits="userSpaceOnUse" x1="134.5" y1="113.3" x2="119.8" y2="85.7"><stop offset="0" stop-color="#60ff4d"/><stop offset="0.236" stop-color="#97ff00"/><stop offset="0.693" stop-color="#ffea00"/><stop offset="1" stop-color="#ff9800"/></linearGradient><linearGradient id="a177" gradientUnits="userSpaceOnUse" x1="92.4" y1="127.9" x2="76" y2="95"><stop offset="0" stop-color="#008fff"/><stop offset="0.02" stop-color="#0098ff"/><stop offset="0.311" stop-color="#2cff96"/><stop offset="0.602" stop-color="#97ff00"/><stop offset="0.893" stop-color="#ffea00"/><stop offset="1" stop-color="#ffbd00"/></linearGradient><linearGradient id="a178" gradientUnits="userSpaceOnUse" x1="119.6" y1="85.6" x2="113.9" y2="73.4"><stop offset="0" stop-color="#ff9800"/><stop offset="0.504" stop-color="#ff6f00"/><stop offset="1" stop-color="#ff4b00"/></linearGradient><linearGradient id="a179" gradientUnits="userSpaceOnUse" x1="95.4" y1="85.7" x2="93.5" y2="81.5"><stop offset="0" stop-color="#ffbd00"/><stop offset="0.906" stop-color="#ff6f00"/><stop offset="1" stop-color="#ff6800"/></linearGradient><linearGradient id="a180" gradientUnits="userSpaceOnUse" x1="163.3" y1="120.4" x2="164.6" y2="122.5"><stop offset="0" stop-color="#31ff8f"/><stop offset="1" stop-color="#50ff64"/></linearGradient><linearGradient id="a181" gradientUnits="userSpaceOnUse" x1="216.7" y1="125.3" x2="205" y2="107.3"><stop offset="0" stop-color="#46ff72"/><stop offset="0.502" stop-color="#97ff00"/><stop offset="1" stop-color="#e5ef00"/></linearGradient><linearGradient id="a182" gradientUnits="userSpaceOnUse" x1="181.4" y1="115.1" x2="182.4" y2="116.8"><stop offset="0" stop-color="#71ff36"/><stop offset="1" stop-color="#96ff01"/></linearGradient><linearGradient id="a183" gradientUnits="userSpaceOnUse" x1="148.7" y1="121.1" x2="137.7" y2="101.7"><stop offset="0" stop-color="#3fff7b"/><stop offset="0.548" stop-color="#97ff00"/><stop offset="1" stop-color="#ddf100"/></linearGradient><linearGradient id="a184" gradientUnits="userSpaceOnUse" x1="69.1" y1="139.6" x2="68.9" y2="125.4"><stop offset="0" stop-color="#0066ff"/><stop offset="0.266" stop-color="#0098ff"/><stop offset="0.941" stop-color="#2cff96"/><stop offset="1" stop-color="#35ff89"/></linearGradient><linearGradient id="a185" gradientUnits="userSpaceOnUse" x1="134.7" y1="113.2" x2="130.6" y2="105.1"><stop offset="0" stop-color="#60ff4d"/><stop offset="0.427" stop-color="#97ff00"/><stop offset="1" stop-color="#dff100"/></linearGradient><linearGradient id="a186" gradientUnits="userSpaceOnUse" x1="201" y1="110.1" x2="200.7" y2="109.7"><stop offset="0" stop-color="#a8fc00"/><stop offset="1" stop-color="#e6ef00"/></linearGradient><linearGradient id="a187" gradientUnits="userSpaceOnUse" x1="87" y1="130.8" x2="70.5" y2="97.5"><stop offset="0" stop-color="#008fff"/><stop offset="0.02" stop-color="#0098ff"/><stop offset="0.311" stop-color="#2cff96"/><stop offset="0.602" stop-color="#97ff00"/><stop offset="0.893" stop-color="#ffea00"/><stop offset="1" stop-color="#ffbd00"/></linearGradient><linearGradient id="a188" gradientUnits="userSpaceOnUse" x1="169.9" y1="119.3" x2="171" y2="121.2"><stop offset="0" stop-color="#50ff64"/><stop offset="1" stop-color="#72ff33"/></linearGradient><linearGradient id="a189" gradientUnits="userSpaceOnUse" x1="129.3" y1="115.4" x2="114.7" y2="88.2"><stop offset="0" stop-color="#67ff43"/><stop offset="0.212" stop-color="#97ff00"/><stop offset="0.684" stop-color="#ffea00"/><stop offset="1" stop-color="#ff9800"/></linearGradient><linearGradient id="a190" gradientUnits="userSpaceOnUse" x1="89.8" y1="88.3" x2="87.8" y2="84"><stop offset="0" stop-color="#ffbd00"/><stop offset="0.906" stop-color="#ff6f00"/><stop offset="1" stop-color="#ff6800"/></linearGradient><linearGradient id="a191" gradientUnits="userSpaceOnUse" x1="114.1" y1="88.2" x2="108.4" y2="75.9"><stop offset="0" stop-color="#ff9800"/><stop offset="0.504" stop-color="#ff6f00"/><stop offset="1" stop-color="#ff4b00"/></linearGradient><linearGradient id="a192" gradientUnits="userSpaceOnUse" x1="158.6" y1="123.2" x2="159.8" y2="125.3"><stop offset="0" stop-color="#31ff8f"/><stop offset="1" stop-color="#50ff64"/></linearGradient><linearGradient id="a193" gradientUnits="userSpaceOnUse" x1="212.3" y1="128.3" x2="200.4" y2="110"><stop offset="0" stop-color="#46ff72"/><stop offset="0.5" stop-color="#97ff00"/><stop offset="1" stop-color="#e6ef00"/></linearGradient><linearGradient id="a194" gradientUnits="userSpaceOnUse" x1="176.7" y1="117.8" x2="177.7" y2="119.5"><stop offset="0" stop-color="#71ff35"/><stop offset="1" stop-color="#97ff00"/></linearGradient><linearGradient id="a195" gradientUnits="userSpaceOnUse" x1="143.8" y1="123.7" x2="132.7" y2="104.2"><stop offset="0" stop-color="#42ff78"/><stop offset="0.536" stop-color="#97ff00"/><stop offset="1" stop-color="#dff100"/></linearGradient><linearGradient id="a196" gradientUnits="userSpaceOnUse" x1="81.2" y1="134.3" x2="67" y2="98.3"><stop offset="0" stop-color="#008fff"/><stop offset="0.02" stop-color="#0098ff"/><stop offset="0.311" stop-color="#2cff96"/><stop offset="0.602" stop-color="#97ff00"/><stop offset="0.893" stop-color="#ffea00"/><stop offset="1" stop-color="#ffbd00"/></linearGradient><linearGradient id="a197" gradientUnits="userSpaceOnUse" x1="129.5" y1="115.2" x2="125.6" y2="107.5"><stop offset="0" stop-color="#67ff43"/><stop offset="0.389" stop-color="#97ff00"/><stop offset="1" stop-color="#e0f000"/></linearGradient><linearGradient id="a198" gradientUnits="userSpaceOnUse" x1="84.1" y1="91" x2="82.1" y2="86.6"><stop offset="0" stop-color="#ffbd00"/><stop offset="0.906" stop-color="#ff6f00"/><stop offset="1" stop-color="#ff6800"/></linearGradient><linearGradient id="a199" gradientUnits="userSpaceOnUse" x1="123.9" y1="117.5" x2="109.6" y2="90.6"><stop offset="0" stop-color="#6eff3a"/><stop offset="0.187" stop-color="#97ff00"/><stop offset="0.674" stop-color="#ffea00"/><stop offset="1" stop-color="#ff9800"/></linearGradient><linearGradient id="a200" gradientUnits="userSpaceOnUse" x1="108.6" y1="90.9" x2="102.8" y2="78.5"><stop offset="0" stop-color="#ff9800"/><stop offset="0.504" stop-color="#ff6f00"/><stop offset="1" stop-color="#ff4b00"/></linearGradient><linearGradient id="a201" gradientUnits="userSpaceOnUse" x1="196.4" y1="113.1" x2="196.1" y2="112.5"><stop offset="0" stop-color="#a6fc00"/><stop offset="1" stop-color="#e7ef00"/></linearGradient><linearGradient id="a202" gradientUnits="userSpaceOnUse" x1="165.2" y1="122.2" x2="166.2" y2="124"><stop offset="0" stop-color="#50ff64"/><stop offset="1" stop-color="#73ff32"/></linearGradient><linearGradient id="a203" gradientUnits="userSpaceOnUse" x1="153.7" y1="126.1" x2="155" y2="128.2"><stop offset="0" stop-color="#31ff8f"/><stop offset="1" stop-color="#50ff63"/></linearGradient><linearGradient id="a204" gradientUnits="userSpaceOnUse" x1="207.9" y1="131.3" x2="195.8" y2="112.8"><stop offset="0" stop-color="#46ff71"/><stop offset="0.497" stop-color="#97ff00"/><stop offset="1" stop-color="#e7ef00"/></linearGradient><linearGradient id="a205" gradientUnits="userSpaceOnUse" x1="138.7" y1="126.3" x2="127.5" y2="106.7"><stop offset="0" stop-color="#44ff74"/><stop offset="0.524" stop-color="#97ff00"/><stop offset="1" stop-color="#e0f000"/></linearGradient><linearGradient id="a206" gradientUnits="userSpaceOnUse" x1="78.2" y1="93.7" x2="76.2" y2="89.3"><stop offset="0" stop-color="#ffbd00"/><stop offset="0.906" stop-color="#ff6f00"/><stop offset="1" stop-color="#ff6800"/></linearGradient><linearGradient id="a207" gradientUnits="userSpaceOnUse" x1="172" y1="120.6" x2="173" y2="122.3"><stop offset="0" stop-color="#72ff33"/><stop offset="0.979" stop-color="#97ff00"/><stop offset="1" stop-color="#98ff00"/></linearGradient><linearGradient id="a208" gradientUnits="userSpaceOnUse" x1="124.1" y1="117.2" x2="120.5" y2="110"><stop offset="0" stop-color="#6eff3a"/><stop offset="0.347" stop-color="#97ff00"/><stop offset="1" stop-color="#e2f000"/></linearGradient><linearGradient id="a209" gradientUnits="userSpaceOnUse" x1="118.4" y1="119.6" x2="104.3" y2="93.2"><stop offset="0" stop-color="#75ff30"/><stop offset="0.16" stop-color="#97ff00"/><stop offset="0.663" stop-color="#ffea00"/><stop offset="1" stop-color="#ff9800"/></linearGradient><linearGradient id="a210" gradientUnits="userSpaceOnUse" x1="103" y1="93.6" x2="97.1" y2="81.1"><stop offset="0" stop-color="#ff9800"/><stop offset="0.504" stop-color="#ff6f00"/><stop offset="1" stop-color="#ff4b00"/></linearGradient><linearGradient id="a211" gradientUnits="userSpaceOnUse" x1="160.3" y1="125" x2="161.4" y2="126.8"><stop offset="0" stop-color="#50ff64"/><stop offset="1" stop-color="#74ff31"/></linearGradient><linearGradient id="a212" gradientUnits="userSpaceOnUse" x1="191.7" y1="116.1" x2="191.3" y2="115.5"><stop offset="0" stop-color="#a5fc00"/><stop offset="1" stop-color="#e7ef00"/></linearGradient><linearGradient id="a213" gradientUnits="userSpaceOnUse" x1="148.8" y1="129" x2="150.1" y2="131.1"><stop offset="0" stop-color="#31ff8f"/><stop offset="1" stop-color="#50ff63"/></linearGradient><linearGradient id="a214" gradientUnits="userSpaceOnUse" x1="133.6" y1="129" x2="122.3" y2="109.2"><stop offset="0" stop-color="#46ff71"/><stop offset="0.511" stop-color="#97ff00"/><stop offset="1" stop-color="#e2f000"/></linearGradient><linearGradient id="a215" gradientUnits="userSpaceOnUse" x1="118.7" y1="119.3" x2="115.3" y2="112.5"><stop offset="0" stop-color="#75ff30"/><stop offset="0.301" stop-color="#97ff00"/><stop offset="1" stop-color="#e4f000"/></linearGradient><linearGradient id="a216" gradientUnits="userSpaceOnUse" x1="203.3" y1="134.3" x2="191.1" y2="115.6"><stop offset="0" stop-color="#47ff71"/><stop offset="0.494" stop-color="#97ff00"/><stop offset="1" stop-color="#e7ef00"/></linearGradient><linearGradient id="a217" gradientUnits="userSpaceOnUse" x1="97.2" y1="96.4" x2="91.3" y2="83.8"><stop offset="0" stop-color="#ff9800"/><stop offset="0.504" stop-color="#ff6f00"/><stop offset="1" stop-color="#ff4b00"/></linearGradient><linearGradient id="a218" gradientUnits="userSpaceOnUse" x1="112.7" y1="121.8" x2="98.9" y2="95.8"><stop offset="0" stop-color="#7cff26"/><stop offset="0.131" stop-color="#97ff00"/><stop offset="0.651" stop-color="#ffea00"/><stop offset="1" stop-color="#ff9800"/></linearGradient><linearGradient id="a219" gradientUnits="userSpaceOnUse" x1="167.1" y1="123.5" x2="168.1" y2="125.2"><stop offset="0" stop-color="#73ff32"/><stop offset="0.955" stop-color="#97ff00"/><stop offset="1" stop-color="#99ff00"/></linearGradient><linearGradient id="a220" gradientUnits="userSpaceOnUse" x1="155.4" y1="128" x2="156.4" y2="129.7"><stop offset="0" stop-color="#50ff63"/><stop offset="1" stop-color="#75ff30"/></linearGradient><linearGradient id="a221" gradientUnits="userSpaceOnUse" x1="187" y1="119.3" x2="186.4" y2="118.4"><stop offset="0" stop-color="#a3fd00"/><stop offset="1" stop-color="#e8ef00"/></linearGradient><linearGradient id="a222" gradientUnits="userSpaceOnUse" x1="143.8" y1="132" x2="145" y2="134.1"><stop offset="0" stop-color="#31ff8f"/><stop offset="1" stop-color="#51ff63"/></linearGradient><linearGradient id="a223" gradientUnits="userSpaceOnUse" x1="128.3" y1="131.8" x2="117" y2="111.8"><stop offset="0" stop-color="#49ff6e"/><stop offset="0.499" stop-color="#97ff00"/><stop offset="1" stop-color="#e4f000"/></linearGradient><linearGradient id="a224" gradientUnits="userSpaceOnUse" x1="94.6" y1="99.1" x2="85" y2="87.2"><stop offset="0" stop-color="#ff9800"/><stop offset="0.504" stop-color="#ff6f00"/><stop offset="1" stop-color="#ff4b00"/></linearGradient><linearGradient id="a225" gradientUnits="userSpaceOnUse" x1="113.1" y1="121.4" x2="110" y2="115.1"><stop offset="0" stop-color="#7cff26"/><stop offset="0.251" stop-color="#97ff00"/><stop offset="1" stop-color="#e5ef00"/></linearGradient><linearGradient id="a226" gradientUnits="userSpaceOnUse" x1="107" y1="124" x2="93.4" y2="98.4"><stop offset="0" stop-color="#83ff1c"/><stop offset="0.1" stop-color="#97ff00"/><stop offset="0.639" stop-color="#ffea00"/><stop offset="1" stop-color="#ff9800"/></linearGradient><linearGradient id="a227" gradientUnits="userSpaceOnUse" x1="198.6" y1="137.5" x2="186.3" y2="118.6"><stop offset="0" stop-color="#47ff70"/><stop offset="0.491" stop-color="#97ff00"/><stop offset="1" stop-color="#e8ef00"/></linearGradient><linearGradient id="a228" gradientUnits="userSpaceOnUse" x1="162.1" y1="126.4" x2="163.2" y2="128.1"><stop offset="0" stop-color="#74ff31"/><stop offset="0.93" stop-color="#97ff00"/><stop offset="1" stop-color="#9afe00"/></linearGradient><linearGradient id="a229" gradientUnits="userSpaceOnUse" x1="150.4" y1="131" x2="151.4" y2="132.7"><stop offset="0" stop-color="#50ff63"/><stop offset="1" stop-color="#76ff2e"/></linearGradient><linearGradient id="a230" gradientUnits="userSpaceOnUse" x1="182.1" y1="122.5" x2="181.4" y2="121.4"><stop offset="0" stop-color="#a2fd00"/><stop offset="1" stop-color="#e8ef00"/></linearGradient><linearGradient id="a231" gradientUnits="userSpaceOnUse" x1="138.7" y1="135.1" x2="139.9" y2="137.2"><stop offset="0" stop-color="#31ff8f"/><stop offset="1" stop-color="#51ff62"/></linearGradient><linearGradient id="a232" gradientUnits="userSpaceOnUse" x1="122.9" y1="134.6" x2="111.5" y2="114.5"><stop offset="0" stop-color="#4bff6b"/><stop offset="0.486" stop-color="#97ff00"/><stop offset="1" stop-color="#e5ef00"/></linearGradient><linearGradient id="a233" gradientUnits="userSpaceOnUse" x1="102.5" y1="125" x2="84.7" y2="96.4"><stop offset="0" stop-color="#8aff12"/><stop offset="0.054" stop-color="#97ff00"/><stop offset="0.507" stop-color="#ffea00"/><stop offset="0.96" stop-color="#ff6f00"/><stop offset="1" stop-color="#ff6500"/></linearGradient><linearGradient id="a234" gradientUnits="userSpaceOnUse" x1="107.4" y1="123.6" x2="104.5" y2="117.8"><stop offset="0" stop-color="#83ff1c"/><stop offset="0.195" stop-color="#97ff00"/><stop offset="1" stop-color="#e7ef00"/></linearGradient><linearGradient id="a235" gradientUnits="userSpaceOnUse" x1="157.1" y1="129.3" x2="158.1" y2="131.1"><stop offset="0" stop-color="#75ff30"/><stop offset="0.906" stop-color="#97ff00"/><stop offset="1" stop-color="#9afe00"/></linearGradient><linearGradient id="a236" gradientUnits="userSpaceOnUse" x1="193.8" y1="140.7" x2="181.4" y2="121.5"><stop offset="0" stop-color="#47ff70"/><stop offset="0.489" stop-color="#97ff00"/><stop offset="1" stop-color="#e8ef00"/></linearGradient><linearGradient id="a237" gradientUnits="userSpaceOnUse" x1="145.3" y1="134" x2="146.2" y2="135.7"><stop offset="0" stop-color="#51ff63"/><stop offset="1" stop-color="#77ff2d"/></linearGradient><linearGradient id="a238" gradientUnits="userSpaceOnUse" x1="133.5" y1="138.2" x2="134.7" y2="140.3"><stop offset="0" stop-color="#31ff90"/><stop offset="1" stop-color="#51ff62"/></linearGradient><linearGradient id="a239" gradientUnits="userSpaceOnUse" x1="177.2" y1="125.8" x2="176.4" y2="124.5"><stop offset="0" stop-color="#a0fd00"/><stop offset="1" stop-color="#e9ee00"/></linearGradient><linearGradient id="a240" gradientUnits="userSpaceOnUse" x1="117.4" y1="137.5" x2="105.9" y2="117.2"><stop offset="0" stop-color="#4dff67"/><stop offset="0.474" stop-color="#97ff00"/><stop offset="1" stop-color="#e7ef00"/></linearGradient><linearGradient id="a241" gradientUnits="userSpaceOnUse" x1="101.6" y1="125.8" x2="99" y2="120.5"><stop offset="0" stop-color="#8aff12"/><stop offset="0.133" stop-color="#97ff00"/><stop offset="1" stop-color="#e8ef00"/></linearGradient><linearGradient id="a242" gradientUnits="userSpaceOnUse" x1="151.9" y1="132.3" x2="152.9" y2="134.1"><stop offset="0" stop-color="#76ff2e"/><stop offset="0.882" stop-color="#97ff00"/><stop offset="1" stop-color="#9bfe00"/></linearGradient><linearGradient id="a243" gradientUnits="userSpaceOnUse" x1="189" y1="143.9" x2="176.4" y2="124.6"><stop offset="0" stop-color="#47ff70"/><stop offset="0.486" stop-color="#97ff00"/><stop offset="1" stop-color="#e9ee00"/></linearGradient><linearGradient id="a244" gradientUnits="userSpaceOnUse" x1="140" y1="137.1" x2="141" y2="138.7"><stop offset="0" stop-color="#51ff62"/><stop offset="1" stop-color="#78ff2c"/></linearGradient><linearGradient id="a245" gradientUnits="userSpaceOnUse" x1="128.1" y1="141.3" x2="129.4" y2="143.4"><stop offset="0" stop-color="#31ff90"/><stop offset="1" stop-color="#51ff62"/></linearGradient><linearGradient id="a246" gradientUnits="userSpaceOnUse" x1="119.8" y1="146.4" x2="114.7" y2="138.4"><stop offset="0" stop-color="#31ff90"/><stop offset="1" stop-color="#4fff64"/></linearGradient><linearGradient id="a247" gradientUnits="userSpaceOnUse" x1="172.1" y1="129.1" x2="171.2" y2="127.6"><stop offset="0" stop-color="#9ffd00"/><stop offset="1" stop-color="#e9ee00"/></linearGradient><linearGradient id="a248" gradientUnits="userSpaceOnUse" x1="111.8" y1="140.5" x2="100.2" y2="120"><stop offset="0" stop-color="#4fff64"/><stop offset="0.461" stop-color="#97ff00"/><stop offset="1" stop-color="#e8ef00"/></linearGradient><linearGradient id="a249" gradientUnits="userSpaceOnUse" x1="146.6" y1="135.4" x2="147.7" y2="137.2"><stop offset="0" stop-color="#77ff2d"/><stop offset="0.858" stop-color="#97ff00"/><stop offset="1" stop-color="#9cfe00"/></linearGradient><linearGradient id="a250" gradientUnits="userSpaceOnUse" x1="184" y1="147.2" x2="171.2" y2="127.6"><stop offset="0" stop-color="#48ff6f"/><stop offset="0.483" stop-color="#97ff00"/><stop offset="1" stop-color="#e9ee00"/></linearGradient><linearGradient id="a251" gradientUnits="userSpaceOnUse" x1="134.7" y1="140.3" x2="135.6" y2="141.9"><stop offset="0" stop-color="#51ff62"/><stop offset="1" stop-color="#79ff2b"/></linearGradient><linearGradient id="a252" gradientUnits="userSpaceOnUse" x1="122.7" y1="144.6" x2="124" y2="146.7"><stop offset="0" stop-color="#31ff90"/><stop offset="1" stop-color="#52ff61"/></linearGradient><linearGradient id="a253" gradientUnits="userSpaceOnUse" x1="114.3" y1="149.6" x2="109.1" y2="141.4"><stop offset="0" stop-color="#30ff90"/><stop offset="1" stop-color="#52ff61"/></linearGradient><linearGradient id="a254" gradientUnits="userSpaceOnUse" x1="166.9" y1="132.5" x2="165.9" y2="130.8"><stop offset="0" stop-color="#9dfe00"/><stop offset="1" stop-color="#eaee00"/></linearGradient><linearGradient id="a255" gradientUnits="userSpaceOnUse" x1="141.2" y1="138.6" x2="142.3" y2="140.4"><stop offset="0" stop-color="#78ff2c"/><stop offset="0.834" stop-color="#97ff00"/><stop offset="1" stop-color="#9dfe00"/></linearGradient><linearGradient id="a256" gradientUnits="userSpaceOnUse" x1="129.2" y1="143.6" x2="130.1" y2="145.1"><stop offset="0" stop-color="#51ff62"/><stop offset="1" stop-color="#7aff29"/></linearGradient><linearGradient id="a257" gradientUnits="userSpaceOnUse" x1="178.9" y1="150.6" x2="166" y2="130.8"><stop offset="0" stop-color="#48ff6f"/><stop offset="0.48" stop-color="#97ff00"/><stop offset="1" stop-color="#eaee00"/></linearGradient><linearGradient id="a258" gradientUnits="userSpaceOnUse" x1="117.2" y1="147.9" x2="118.4" y2="150"><stop offset="0" stop-color="#30ff90"/><stop offset="1" stop-color="#52ff61"/></linearGradient><linearGradient id="a259" gradientUnits="userSpaceOnUse" x1="161.7" y1="136" x2="160.5" y2="134.1"><stop offset="0" stop-color="#9cfe00"/><stop offset="1" stop-color="#ebee00"/></linearGradient><linearGradient id="a260" gradientUnits="userSpaceOnUse" x1="135.7" y1="141.8" x2="136.8" y2="143.6"><stop offset="0" stop-color="#79ff2b"/><stop offset="0.81" stop-color="#97ff00"/><stop offset="1" stop-color="#9efe00"/></linearGradient><linearGradient id="a261" gradientUnits="userSpaceOnUse" x1="123.7" y1="146.9" x2="124.5" y2="148.3"><stop offset="0" stop-color="#52ff61"/><stop offset="1" stop-color="#7aff28"/></linearGradient><linearGradient id="a262" gradientUnits="userSpaceOnUse" x1="173.7" y1="154.1" x2="160.7" y2="134"><stop offset="0" stop-color="#48ff6e"/><stop offset="0.478" stop-color="#97ff00"/><stop offset="1" stop-color="#ebee00"/></linearGradient><linearGradient id="a263" gradientUnits="userSpaceOnUse" x1="156.3" y1="139.6" x2="155" y2="137.4"><stop offset="0" stop-color="#9afe00"/><stop offset="1" stop-color="#ebee00"/></linearGradient><linearGradient id="a264" gradientUnits="userSpaceOnUse" x1="130.1" y1="145.1" x2="131.2" y2="146.9"><stop offset="0" stop-color="#7aff29"/><stop offset="0.786" stop-color="#97ff00"/><stop offset="1" stop-color="#9ffd00"/></linearGradient><linearGradient id="a265" gradientUnits="userSpaceOnUse" x1="168.4" y1="157.7" x2="155.2" y2="137.3"><stop offset="0" stop-color="#49ff6e"/><stop offset="0.475" stop-color="#97ff00"/><stop offset="1" stop-color="#ebee00"/></linearGradient><linearGradient id="a266" gradientUnits="userSpaceOnUse" x1="150.8" y1="143.2" x2="149.3" y2="140.8"><stop offset="0" stop-color="#98ff00"/><stop offset="1" stop-color="#ecee00"/></linearGradient><linearGradient id="a267" gradientUnits="userSpaceOnUse" x1="163" y1="161.3" x2="149.6" y2="140.7"><stop offset="0" stop-color="#49ff6d"/><stop offset="0.472" stop-color="#97ff00"/><stop offset="1" stop-color="#ecee00"/></linearGradient><linearGradient id="a268" gradientUnits="userSpaceOnUse" x1="145.2" y1="146.9" x2="143.6" y2="144.3"><stop offset="0" stop-color="#97ff00"/><stop offset="0.001" stop-color="#97ff00"/><stop offset="1" stop-color="#ecee00"/></linearGradient><linearGradient id="a269" gradientUnits="userSpaceOnUse" x1="157.5" y1="165" x2="143.9" y2="144.2"><stop offset="0" stop-color="#49ff6d"/><stop offset="0.47" stop-color="#97ff00"/><stop offset="1" stop-color="#ecee00"/></linearGradient><linearGradient id="cbA" x1="0" y1="0" x2="0" y2="1"><stop offset="0" stop-color="#ff0000"/><stop offset="0.125" stop-color="#ff6f00"/><stop offset="0.25" stop-color="#ffea00"/><stop offset="0.375" stop-color="#97ff00"/><stop offset="0.5" stop-color="#2cff96"/><stop offset="0.625" stop-color="#0098ff"/><stop offset="0.75" stop-color="#0019ff"/><stop offset="0.875" stop-color="#0000c8"/><stop offset="1" stop-color="#96005a"/></linearGradient></defs><g stroke="#dfdfdf" stroke-width="0.9" fill="none"><path d="M136.5 224.8L220.3 160.9"/><path d="M154.1 225.2L56.6 160.9"/><path d="M220.3 160.9L244.2 47.7"/><path d="M56.6 160.9L47.7 48.6"/><path d="M124.8 216.9L208.9 155.3"/><path d="M163.9 217.4L66.4 155.5"/><path d="M208.9 155.3L230.2 43.3"/><path d="M66.4 155.5L59.5 44.3"/><path d="M113.6 209.2L198 149.9"/><path d="M173.3 210L75.9 150.2"/><path d="M198 149.9L216.7 39.2"/><path d="M75.9 150.2L71 40.1"/><path d="M102.8 201.9L187.4 144.7"/><path d="M182.5 202.8L85.1 145.1"/><path d="M187.4 144.7L203.7 35.2"/><path d="M85.1 145.1L82 36"/><path d="M92.4 194.9L177.2 139.6"/><path d="M191.2 195.8L94 140.1"/><path d="M177.2 139.6L191.3 31.3"/><path d="M94 140.1L92.6 32.1"/><path d="M82.5 188.1L167.3 134.8"/><path d="M199.7 189.2L102.6 135.3"/><path d="M167.3 134.8L179.4 27.6"/><path d="M102.6 135.3L102.8 28.4"/><path d="M72.9 181.6L157.8 130"/><path d="M207.8 182.7L111 130.6"/><path d="M157.8 130L167.8 24"/><path d="M111 130.6L112.7 24.8"/><path d="M63.6 175.3L148.5 125.4"/><path d="M215.7 176.5L119.1 126.1"/><path d="M148.5 125.4L156.8 20.6"/><path d="M119.1 126.1L122.2 21.3"/><path d="M54.7 169.3L139.5 121"/><path d="M223.3 170.5L127 121.7"/><path d="M139.5 121L146.1 17.3"/><path d="M127 121.7L131.4 17.9"/><path d="M48 156.8L134 110.2"/><path d="M134 110.2L231.6 157"/><path d="M43.7 111.2L136.2 68.2"/><path d="M136.2 68.2L242.1 111"/><path d="M38.7 57.7L138.8 20.1"/><path d="M138.8 20.1L254.6 57"/></g><g stroke="#aaa" stroke-width="0.9" fill="none"><path d="M48.8 165.3L38.3 53.7"/></g><g stroke="#555" stroke-width="0.8" fill="none"><path d="M48.8 165.3L146.2 231.4"/><path d="M146.2 231.4L229.6 165.5"/><path d="M136.5 224.8L133 227.5"/><path d="M154.1 225.2L158.2 227.9"/><path d="M124.8 216.9L121.3 219.4"/><path d="M163.9 217.4L168 220"/><path d="M113.6 209.2L110.1 211.7"/><path d="M173.3 210L177.4 212.5"/><path d="M102.8 201.9L99.3 204.3"/><path d="M182.5 202.8L186.5 205.2"/><path d="M92.4 194.9L88.9 197.2"/><path d="M191.2 195.8L195.3 198.2"/><path d="M82.5 188.1L79 190.3"/><path d="M199.7 189.2L203.7 191.4"/><path d="M72.9 181.6L69.4 183.7"/><path d="M207.8 182.7L211.9 184.9"/><path d="M63.6 175.3L60.1 177.4"/><path d="M215.7 176.5L219.7 178.6"/><path d="M54.7 169.3L51.2 171.2"/><path d="M223.3 170.5L227.3 172.5"/></g><g stroke="#000" stroke-width="0.7" stroke-linejoin="round"><path d="M128.7 120.3L133.6 111.9L137.6 109.8L132.5 118.2Z" fill="url(#a1)"/><path d="M133.6 111.9L138.8 104.2L142.8 102.1L137.6 109.8Z" fill="url(#a2)"/><path d="M124.7 122.5L129.6 114.1L133.6 111.9L128.7 120.3Z" fill="url(#a3)"/><path d="M138.8 104.2L144 98.7L148.1 96.6L142.8 102.1Z" fill="url(#a4)"/><path d="M129.6 114.1L134.7 106.4L138.8 104.2L133.6 111.9Z" fill="url(#a5)"/><path d="M120.7 124.7L125.6 116.3L129.6 114.1L124.7 122.5Z" fill="url(#a6)"/><path d="M144 98.7L149.2 97.2L153.3 95L148.1 96.6Z" fill="url(#a7)"/><path d="M134.7 106.4L140 100.9L144 98.7L138.8 104.2Z" fill="url(#a8)"/><path d="M125.6 116.3L130.6 108.6L134.7 106.4L129.6 114.1Z" fill="url(#a9)"/><path d="M116.7 127L121.5 118.6L125.6 116.3L120.7 124.7Z" fill="url(#a10)"/><path d="M149.2 97.2L157.8 56.8L162.1 54.8L153.3 95Z" fill="url(#a11)"/><path d="M140 100.9L145.1 99.4L149.2 97.2L144 98.7Z" fill="url(#a12)"/><path d="M130.6 108.6L135.8 103.1L140 100.9L134.7 106.4Z" fill="url(#a13)"/><path d="M121.5 118.6L126.4 110.8L130.6 108.6L125.6 116.3Z" fill="url(#a14)"/><path d="M112.6 129.3L117.3 120.8L121.5 118.6L116.7 127Z" fill="url(#a15)"/><path d="M157.8 56.8L164.1 49.4L168.5 47.4L162.1 54.8Z" fill="url(#a16)"/><path d="M145.1 99.4L153.4 58.8L157.8 56.8L149.2 97.2Z" fill="url(#a17)"/><path d="M135.8 103.1L140.9 101.6L145.1 99.4L140 100.9Z" fill="url(#a18)"/><path d="M126.4 110.8L131.6 105.4L135.8 103.1L130.6 108.6Z" fill="url(#a19)"/><path d="M117.3 120.8L122.2 113.1L126.4 110.8L121.5 118.6Z" fill="url(#a20)"/><path d="M108.4 131.6L113 123.2L117.3 120.8L112.6 129.3Z" fill="url(#a21)"/><path d="M164.1 49.4L170.1 47.8L174.5 45.8L168.5 47.4Z" fill="#ff5900"/><path d="M153.4 58.8L159.7 51.4L164.1 49.4L157.8 56.8Z" fill="url(#a22)"/><path d="M140.9 101.6L149 60.9L153.4 58.8L145.1 99.4Z" fill="url(#a23)"/><path d="M131.6 105.4L136.6 103.9L140.9 101.6L135.8 103.1Z" fill="url(#a24)"/><path d="M170.1 47.8L177.2 38.3L181.6 36.4L174.5 45.8Z" fill="url(#a25)"/><path d="M122.2 113.1L127.3 107.7L131.6 105.4L126.4 110.8Z" fill="url(#a26)"/><path d="M113 123.2L117.9 115.4L122.2 113.1L117.3 120.8Z" fill="url(#a27)"/><path d="M104.2 134L108.7 125.5L113 123.2L108.4 131.6Z" fill="url(#a28)"/><path d="M159.7 51.4L165.7 49.8L170.1 47.8L164.1 49.4Z" fill="#ff5900"/><path d="M149 60.9L155.2 53.4L159.7 51.4L153.4 58.8Z" fill="url(#a29)"/><path d="M136.6 103.9L144.5 63L149 60.9L140.9 101.6Z" fill="url(#a30)"/><path d="M177.2 38.3L176 100.3L180 98L181.6 36.4Z" fill="url(#a31)"/><path d="M127.3 107.7L132.3 106.2L136.6 103.9L131.6 105.4Z" fill="url(#a32)"/><path d="M117.9 115.4L122.9 110L127.3 107.7L122.2 113.1Z" fill="url(#a33)"/><path d="M165.7 49.8L172.7 40.3L177.2 38.3L170.1 47.8Z" fill="url(#a34)"/><path d="M108.7 125.5L113.5 117.8L117.9 115.4L113 123.2Z" fill="url(#a35)"/><path d="M99.9 136.4L104.3 127.9L108.7 125.5L104.2 134Z" fill="url(#a36)"/><path d="M155.2 53.4L161.2 51.9L165.7 49.8L159.7 51.4Z" fill="#ff5900"/><path d="M176 100.3L184.6 78.6L188.8 76.6L180 98Z" fill="url(#a37)"/><path d="M144.5 63L150.6 55.5L155.2 53.4L149 60.9Z" fill="url(#a38)"/><path d="M132.3 106.2L139.9 65.1L144.5 63L136.6 103.9Z" fill="url(#a39)"/><path d="M172.7 40.3L171.8 102.6L176 100.3L177.2 38.3Z" fill="url(#a40)"/><path d="M122.9 110L127.9 108.5L132.3 106.2L127.3 107.7Z" fill="url(#a41)"/><path d="M113.5 117.8L118.4 112.3L122.9 110L117.9 115.4Z" fill="url(#a42)"/><path d="M104.3 127.9L109 120.2L113.5 117.8L108.7 125.5Z" fill="url(#a43)"/><path d="M95.5 138.8L99.9 130.3L104.3 127.9L99.9 136.4Z" fill="url(#a44)"/><path d="M161.2 51.9L168.1 42.3L172.7 40.3L165.7 49.8Z" fill="url(#a45)"/><path d="M184.6 78.6L187.7 100.7L191.7 98.5L188.8 76.6Z" fill="url(#a46)"/><path d="M150.6 55.5L156.6 54L161.2 51.9L155.2 53.4Z" fill="#ff5900"/><path d="M171.8 102.6L180.4 80.7L184.6 78.6L176 100.3Z" fill="url(#a47)"/><path d="M139.9 65.1L146 57.6L150.6 55.5L144.5 63Z" fill="url(#a48)"/><path d="M127.9 108.5L135.2 67.3L139.9 65.1L132.3 106.2Z" fill="url(#a49)"/><path d="M118.4 112.3L123.5 110.9L127.9 108.5L122.9 110Z" fill="url(#a50)"/><path d="M168.1 42.3L167.6 105L171.8 102.6L172.7 40.3Z" fill="url(#a51)"/><path d="M187.7 100.7L193.6 102.3L197.7 99.9L191.7 98.5Z" fill="#2dff94"/><path d="M109 120.2L113.9 114.7L118.4 112.3L113.5 117.8Z" fill="url(#a52)"/><path d="M91.1 141.2L95.4 132.8L99.9 130.3L95.5 138.8Z" fill="url(#a53)"/><path d="M99.9 130.3L104.5 122.6L109 120.2L104.3 127.9Z" fill="url(#a54)"/><path d="M156.6 54L163.5 44.4L168.1 42.3L161.2 51.9Z" fill="url(#a55)"/><path d="M180.4 80.7L183.6 102.8L187.7 100.7L184.6 78.6Z" fill="url(#a56)"/><path d="M146 57.6L151.9 56.1L156.6 54L150.6 55.5Z" fill="#ff5900"/><path d="M193.6 102.3L200 101.4L204.1 99L197.7 99.9Z" fill="#40ff7b"/><path d="M135.2 67.3L141.2 59.8L146 57.6L139.9 65.1Z" fill="url(#a57)"/><path d="M167.6 105L176.1 82.8L180.4 80.7L171.8 102.6Z" fill="url(#a58)"/><path d="M123.5 110.9L130.4 69.5L135.2 67.3L127.9 108.5Z" fill="url(#a59)"/><path d="M113.9 114.7L118.9 113.3L123.5 110.9L118.4 112.3Z" fill="url(#a60)"/><path d="M86.6 143.8L90.8 135.3L95.4 132.8L91.1 141.2Z" fill="url(#a61)"/><path d="M104.5 122.6L109.3 117.2L113.9 114.7L109 120.2Z" fill="url(#a62)"/><path d="M95.4 132.8L99.9 125.1L104.5 122.6L99.9 130.3Z" fill="url(#a63)"/><path d="M163.5 44.4L163.4 107.4L167.6 105L168.1 42.3Z" fill="url(#a64)"/><path d="M183.6 102.8L189.5 104.8L193.6 102.3L187.7 100.7Z" fill="#2fff92"/><path d="M151.9 56.1L158.7 46.5L163.5 44.4L156.6 54Z" fill="url(#a65)"/><path d="M200 101.4L206.6 100.4L210.7 98L204.1 99Z" fill="#5cff52"/><path d="M176.1 82.8L179.4 105L183.6 102.8L180.4 80.7Z" fill="url(#a66)"/><path d="M141.2 59.8L147.2 58.3L151.9 56.1L146 57.6Z" fill="#ff5900"/><path d="M130.4 69.5L136.4 62L141.2 59.8L135.2 67.3Z" fill="url(#a67)"/><path d="M189.5 104.8L195.9 103.8L200 101.4L193.6 102.3Z" fill="#40ff7a"/><path d="M118.9 113.3L125.6 71.7L130.4 69.5L123.5 110.9Z" fill="url(#a68)"/><path d="M163.4 107.4L171.7 84.9L176.1 82.8L167.6 105Z" fill="url(#a69)"/><path d="M82 146.3L86.1 137.9L90.8 135.3L86.6 143.8Z" fill="url(#a70)"/><path d="M109.3 117.2L114.3 115.8L118.9 113.3L113.9 114.7Z" fill="url(#a71)"/><path d="M90.8 135.3L95.2 127.6L99.9 125.1L95.4 132.8Z" fill="url(#a72)"/><path d="M99.9 125.1L104.7 119.7L109.3 117.2L104.5 122.6Z" fill="url(#a73)"/><path d="M206.6 100.4L213.6 98.4L217.7 96L210.7 98Z" fill="url(#a74)"/><path d="M158.7 46.5L159 109.9L163.4 107.4L163.5 44.4Z" fill="url(#a75)"/><path d="M179.4 105L185.3 107.3L189.5 104.8L183.6 102.8Z" fill="#30ff91"/><path d="M147.2 58.3L153.9 48.6L158.7 46.5L151.9 56.1Z" fill="url(#a76)"/><path d="M195.9 103.8L202.5 102.8L206.6 100.4L200 101.4Z" fill="url(#a77)"/><path d="M136.4 62L142.3 60.5L147.2 58.3L141.2 59.8Z" fill="#ff5900"/><path d="M171.7 84.9L175.2 107.2L179.4 105L176.1 82.8Z" fill="url(#a78)"/><path d="M213.6 98.4L220.8 96.7L224.9 94L217.7 96Z" fill="url(#a79)"/><path d="M125.6 71.7L131.5 64.2L136.4 62L130.4 69.5Z" fill="url(#a80)"/><path d="M77.3 148.9L81.3 140.4L86.1 137.9L82 146.3Z" fill="url(#a81)"/><path d="M114.3 115.8L120.6 74L125.6 71.7L118.9 113.3Z" fill="url(#a82)"/><path d="M86.1 137.9L90.5 130.1L95.2 127.6L90.8 135.3Z" fill="url(#a83)"/><path d="M104.7 119.7L109.6 118.3L114.3 115.8L109.3 117.2Z" fill="url(#a84)"/><path d="M95.2 127.6L99.9 122.2L104.7 119.7L99.9 125.1Z" fill="url(#a85)"/><path d="M159 109.9L167.2 87.1L171.7 84.9L163.4 107.4Z" fill="url(#a86)"/><path d="M185.3 107.3L191.7 106.4L195.9 103.8L189.5 104.8Z" fill="#40ff7a"/><path d="M202.5 102.8L209.5 100.8L213.6 98.4L206.6 100.4Z" fill="url(#a87)"/><path d="M153.9 48.6L154.6 112.4L159 109.9L158.7 46.5Z" fill="url(#a88)"/><path d="M220.8 96.7L228.7 92.8L232.8 90.3L224.9 94Z" fill="url(#a89)"/><path d="M175.2 107.2L181 109.8L185.3 107.3L179.4 105Z" fill="#31ff8f"/><path d="M142.3 60.5L149 50.8L153.9 48.6L147.2 58.3Z" fill="url(#a90)"/><path d="M131.5 64.2L137.4 62.7L142.3 60.5L136.4 62Z" fill="#ff5900"/><path d="M72.6 151.5L76.5 143.1L81.3 140.4L77.3 148.9Z" fill="url(#a91)"/><path d="M191.7 106.4L198.3 105.2L202.5 102.8L195.9 103.8Z" fill="url(#a92)"/><path d="M167.2 87.1L170.9 109.5L175.2 107.2L171.7 84.9Z" fill="url(#a93)"/><path d="M120.6 74L126.5 66.5L131.5 64.2L125.6 71.7Z" fill="url(#a94)"/><path d="M81.3 140.4L85.6 132.7L90.5 130.1L86.1 137.9Z" fill="url(#a95)"/><path d="M109.6 118.3L115.6 76.3L120.6 74L114.3 115.8Z" fill="url(#a96)"/><path d="M90.5 130.1L95.1 124.7L99.9 122.2L95.2 127.6Z" fill="url(#a97)"/><path d="M99.9 122.2L104.8 120.9L109.6 118.3L104.7 119.7Z" fill="url(#a98)"/><path d="M209.5 100.8L216.6 99.5L220.8 96.7L213.6 98.4Z" fill="url(#a99)"/><path d="M228.7 92.8L231.1 115.6L235.1 113L232.8 90.3Z" fill="url(#a100)"/><path d="M154.6 112.4L162.6 89.4L167.2 87.1L159 109.9Z" fill="url(#a101)"/><path d="M181 109.8L187.4 108.9L191.7 106.4L185.3 107.3Z" fill="#40ff7a"/><path d="M149 50.8L150.1 115L154.6 112.4L153.9 48.6Z" fill="url(#a102)"/><path d="M198.3 105.2L205.3 103.3L209.5 100.8L202.5 102.8Z" fill="url(#a103)"/><path d="M137.4 62.7L144 53L149 50.8L142.3 60.5Z" fill="url(#a104)"/><path d="M170.9 109.5L176.6 112.4L181 109.8L175.2 107.2Z" fill="#32ff8e"/><path d="M216.6 99.5L224.5 95.3L228.7 92.8L220.8 96.7Z" fill="url(#a105)"/><path d="M67.8 154.2L71.6 145.8L76.5 143.1L72.6 151.5Z" fill="url(#a106)"/><path d="M126.5 66.5L132.4 65L137.4 62.7L131.5 64.2Z" fill="#ff5900"/><path d="M76.5 143.1L80.7 135.4L85.6 132.7L81.3 140.4Z" fill="url(#a107)"/><path d="M115.6 76.3L121.4 68.8L126.5 66.5L120.6 74Z" fill="url(#a108)"/><path d="M85.6 132.7L90.2 127.4L95.1 124.7L90.5 130.1Z" fill="url(#a109)"/><path d="M104.8 120.9L110.5 78.7L115.6 76.3L109.6 118.3Z" fill="url(#a110)"/><path d="M95.1 124.7L100 123.5L104.8 120.9L99.9 122.2Z" fill="url(#a111)"/><path d="M162.6 89.4L166.4 111.8L170.9 109.5L167.2 87.1Z" fill="url(#a112)"/><path d="M187.4 108.9L194.1 107.7L198.3 105.2L191.7 106.4Z" fill="url(#a113)"/><path d="M205.3 103.3L212.4 102.3L216.6 99.5L209.5 100.8Z" fill="url(#a114)"/><path d="M150.1 115L158 91.6L162.6 89.4L154.6 112.4Z" fill="url(#a115)"/><path d="M224.5 95.3L227.1 118.3L231.1 115.6L228.7 92.8Z" fill="url(#a116)"/><path d="M176.6 112.4L183 111.5L187.4 108.9L181 109.8Z" fill="#40ff7a"/><path d="M144 53L145.5 117.6L150.1 115L149 50.8Z" fill="url(#a117)"/><path d="M62.9 156.9L66.6 148.5L71.6 145.8L67.8 154.2Z" fill="url(#a118)"/><path d="M132.4 65L137.7 76.8L144 53L137.4 62.7Z" fill="url(#a119)"/><path d="M194.1 107.7L201 105.8L205.3 103.3L198.3 105.2Z" fill="url(#a120)"/><path d="M71.6 145.8L75.7 138.1L80.7 135.4L76.5 143.1Z" fill="url(#a121)"/><path d="M166.4 111.8L172.2 115.1L176.6 112.4L170.9 109.5Z" fill="#33ff8c"/><path d="M121.4 68.8L127.2 67.4L132.4 65L126.5 66.5Z" fill="#ff5900"/><path d="M80.7 135.4L85.2 130L90.2 127.4L85.6 132.7Z" fill="url(#a122)"/><path d="M212.4 102.3L220.3 97.8L224.5 95.3L216.6 99.5Z" fill="url(#a123)"/><path d="M110.5 78.7L116.2 71.1L121.4 68.8L115.6 76.3Z" fill="url(#a124)"/><path d="M90.2 127.4L95 126.1L100 123.5L95.1 124.7Z" fill="url(#a125)"/><path d="M100 123.5L105.2 81.1L110.5 78.7L104.8 120.9Z" fill="url(#a126)"/><path d="M158 91.6L161.9 114.2L166.4 111.8L162.6 89.4Z" fill="url(#a127)"/><path d="M183 111.5L189.7 110.3L194.1 107.7L187.4 108.9Z" fill="url(#a128)"/><path d="M145.5 117.6L153.2 94L158 91.6L150.1 115Z" fill="url(#a129)"/><path d="M201 105.8L208 105.2L212.4 102.3L205.3 103.3Z" fill="#a0fd00"/><path d="M58 159.7L61.5 151.3L66.6 148.5L62.9 156.9Z" fill="url(#a130)"/><path d="M220.3 97.8L223 121.1L227.1 118.3L224.5 95.3Z" fill="url(#a131)"/><path d="M172.2 115.1L178.6 114.1L183 111.5L176.6 112.4Z" fill="url(#a132)"/><path d="M137.7 76.8L141.4 111L145.5 117.6L144 53Z" fill="url(#a133)"/><path d="M66.6 148.5L70.6 140.8L75.7 138.1L71.6 145.8Z" fill="url(#a134)"/><path d="M127.2 67.4L132.6 79.3L137.7 76.8L132.4 65Z" fill="url(#a135)"/><path d="M75.7 138.1L80.1 132.7L85.2 130L80.7 135.4Z" fill="url(#a136)"/><path d="M116.2 71.1L122 69.7L127.2 67.4L121.4 68.8Z" fill="#ff5900"/><path d="M85.2 130L90 128.8L95 126.1L90.2 127.4Z" fill="url(#a137)"/><path d="M189.7 110.3L196.7 108.4L201 105.8L194.1 107.7Z" fill="url(#a138)"/><path d="M161.9 114.2L167.7 117.8L172.2 115.1L166.4 111.8Z" fill="#34ff8b"/><path d="M105.2 81.1L110.9 73.5L116.2 71.1L110.5 78.7Z" fill="url(#a139)"/><path d="M95 126.1L99.9 83.6L105.2 81.1L100 123.5Z" fill="url(#a140)"/><path d="M208 105.2L216 100.4L220.3 97.8L212.4 102.3Z" fill="url(#a141)"/><path d="M153.2 94L157.3 116.6L161.9 114.2L158 91.6Z" fill="url(#a142)"/><path d="M52.9 162.5L56.4 154.1L61.5 151.3L58 159.7Z" fill="url(#a143)"/><path d="M178.6 114.1L185.3 112.9L189.7 110.3L183 111.5Z" fill="url(#a144)"/><path d="M141.4 111L148.4 96.3L153.2 94L145.5 117.6Z" fill="url(#a145)"/><path d="M61.5 151.3L65.4 143.6L70.6 140.8L66.6 148.5Z" fill="url(#a146)"/><path d="M196.7 108.4L203.6 108.1L208 105.2L201 105.8Z" fill="#9ffd00"/><path d="M132.6 79.3L136.7 112.8L141.4 111L137.7 76.8Z" fill="url(#a147)"/><path d="M70.6 140.8L74.9 135.5L80.1 132.7L75.7 138.1Z" fill="url(#a148)"/><path d="M167.7 117.8L174.1 116.8L178.6 114.1L172.2 115.1Z" fill="url(#a149)"/><path d="M216 100.4L218.8 123.9L223 121.1L220.3 97.8Z" fill="url(#a150)"/><path d="M122 69.7L127.4 81.8L132.6 79.3L127.2 67.4Z" fill="url(#a151)"/><path d="M80.1 132.7L84.9 131.5L90 128.8L85.2 130Z" fill="url(#a152)"/><path d="M110.9 73.5L116.7 72.2L122 69.7L116.2 71.1Z" fill="#ff5900"/><path d="M90 128.8L94.5 86.1L99.9 83.6L95 126.1Z" fill="url(#a153)"/><path d="M99.9 83.6L105.5 76L110.9 73.5L105.2 81.1Z" fill="url(#a154)"/><path d="M157.3 116.6L163.1 120.5L167.7 117.8L161.9 114.2Z" fill="#35ff89"/><path d="M185.3 112.9L192.2 111L196.7 108.4L189.7 110.3Z" fill="url(#a155)"/><path d="M203.6 108.1L211.6 103.1L216 100.4L208 105.2Z" fill="url(#a156)"/><path d="M148.4 96.3L152.7 119L157.3 116.6L153.2 94Z" fill="url(#a157)"/><path d="M56.4 154.1L60.1 146.4L65.4 143.6L61.5 151.3Z" fill="url(#a158)"/><path d="M174.1 116.8L180.7 115.5L185.3 112.9L178.6 114.1Z" fill="url(#a159)"/><path d="M136.7 112.8L143.5 98.7L148.4 96.3L141.4 111Z" fill="url(#a160)"/><path d="M65.4 143.6L69.7 138.3L74.9 135.5L70.6 140.8Z" fill="url(#a161)"/><path d="M127.4 81.8L131.8 114.7L136.7 112.8L132.6 79.3Z" fill="url(#a162)"/><path d="M74.9 135.5L79.6 134.3L84.9 131.5L80.1 132.7Z" fill="url(#a163)"/><path d="M192.2 111L199.1 111.1L203.6 108.1L196.7 108.4Z" fill="#9ffd00"/><path d="M116.7 72.2L122.2 84.3L127.4 81.8L122 69.7Z" fill="url(#a164)"/><path d="M84.9 131.5L89 88.7L94.5 86.1L90 128.8Z" fill="url(#a165)"/><path d="M163.1 120.5L169.5 119.6L174.1 116.8L167.7 117.8Z" fill="url(#a166)"/><path d="M105.5 76L111.2 74.7L116.7 72.2L110.9 73.5Z" fill="#ff5900"/><path d="M94.5 86.1L100 78.5L105.5 76L99.9 83.6Z" fill="url(#a167)"/><path d="M211.6 103.1L214.5 126.7L218.8 123.9L216 100.4Z" fill="url(#a168)"/><path d="M152.7 119L158.4 123.3L163.1 120.5L157.3 116.6Z" fill="#36ff87"/><path d="M180.7 115.5L187.7 113.7L192.2 111L185.3 112.9Z" fill="url(#a169)"/><path d="M143.5 98.7L147.9 121.5L152.7 119L148.4 96.3Z" fill="url(#a170)"/><path d="M60.1 146.4L64.1 137.4L69.7 138.3L65.4 143.6Z" fill="url(#a171)"/><path d="M199.1 111.1L207.1 105.8L211.6 103.1L203.6 108.1Z" fill="url(#a172)"/><path d="M131.8 114.7L138.5 101.2L143.5 98.7L136.7 112.8Z" fill="url(#a173)"/><path d="M169.5 119.6L176.1 118.2L180.7 115.5L174.1 116.8Z" fill="url(#a174)"/><path d="M69.7 138.3L74.3 137.1L79.6 134.3L74.9 135.5Z" fill="url(#a175)"/><path d="M122.2 84.3L126.8 116.5L131.8 114.7L127.4 81.8Z" fill="url(#a176)"/><path d="M79.6 134.3L83.3 91.3L89 88.7L84.9 131.5Z" fill="url(#a177)"/><path d="M111.2 74.7L116.8 86.9L122.2 84.3L116.7 72.2Z" fill="url(#a178)"/><path d="M89 88.7L94.3 81.1L100 78.5L94.5 86.1Z" fill="url(#a179)"/><path d="M100 78.5L105.7 77.2L111.2 74.7L105.5 76Z" fill="#ff5900"/><path d="M158.4 123.3L164.8 122.4L169.5 119.6L163.1 120.5Z" fill="url(#a180)"/><path d="M187.7 113.7L194.5 114.1L199.1 111.1L192.2 111Z" fill="#9ffd00"/><path d="M207.1 105.8L210.2 129.6L214.5 126.7L211.6 103.1Z" fill="url(#a181)"/><path d="M147.9 121.5L153.6 126.2L158.4 123.3L152.7 119Z" fill="#38ff86"/><path d="M176.1 118.2L183 116.4L187.7 113.7L180.7 115.5Z" fill="url(#a182)"/><path d="M138.5 101.2L143 124L147.9 121.5L143.5 98.7Z" fill="url(#a183)"/><path d="M64.1 137.4L68.1 125.3L74.3 137.1L69.7 138.3Z" fill="url(#a184)"/><path d="M126.8 116.5L133.3 103.7L138.5 101.2L131.8 114.7Z" fill="url(#a185)"/><path d="M194.5 114.1L202.6 108.6L207.1 105.8L199.1 111.1Z" fill="url(#a186)"/><path d="M74.3 137.1L77.6 93.9L83.3 91.3L79.6 134.3Z" fill="url(#a187)"/><path d="M164.8 122.4L171.4 120.9L176.1 118.2L169.5 119.6Z" fill="url(#a188)"/><path d="M116.8 86.9L121.7 118.5L126.8 116.5L122.2 84.3Z" fill="url(#a189)"/><path d="M83.3 91.3L88.6 83.7L94.3 81.1L89 88.7Z" fill="url(#a190)"/><path d="M105.7 77.2L111.4 89.6L116.8 86.9L111.2 74.7Z" fill="url(#a191)"/><path d="M94.3 81.1L100 79.8L105.7 77.2L100 78.5Z" fill="#ff5900"/><path d="M153.6 126.2L160 125.2L164.8 122.4L158.4 123.3Z" fill="url(#a192)"/><path d="M183 116.4L189.9 117.2L194.5 114.1L187.7 113.7Z" fill="#9efe00"/><path d="M143 124L148.8 129.1L153.6 126.2L147.9 121.5Z" fill="#39ff84"/><path d="M202.6 108.6L205.7 132.6L210.2 129.6L207.1 105.8Z" fill="url(#a193)"/><path d="M171.4 120.9L178.3 119.2L183 116.4L176.1 118.2Z" fill="url(#a194)"/><path d="M133.3 103.7L138.1 126.6L143 124L138.5 101.2Z" fill="url(#a195)"/><path d="M68.1 125.3L71.7 96.7L77.6 93.9L74.3 137.1Z" fill="url(#a196)"/><path d="M121.7 118.5L128.1 106.3L133.3 103.7L126.8 116.5Z" fill="url(#a197)"/><path d="M77.6 93.9L82.7 86.3L88.6 83.7L83.3 91.3Z" fill="url(#a198)"/><path d="M111.4 89.6L116.5 120.4L121.7 118.5L116.8 86.9Z" fill="url(#a199)"/><path d="M88.6 83.7L94.2 82.4L100 79.8L94.3 81.1Z" fill="#ff5900"/><path d="M100 79.8L105.8 92.2L111.4 89.6L105.7 77.2Z" fill="url(#a200)"/><path d="M189.9 117.2L197.9 111.4L202.6 108.6L194.5 114.1Z" fill="url(#a201)"/><path d="M160 125.2L166.6 123.7L171.4 120.9L164.8 122.4Z" fill="url(#a202)"/><path d="M148.8 129.1L155.1 128.1L160 125.2L153.6 126.2Z" fill="url(#a203)"/><path d="M178.3 119.2L185.1 120.3L189.9 117.2L183 116.4Z" fill="#9efe00"/><path d="M138.1 126.6L143.8 132L148.8 129.1L143 124Z" fill="#3aff83"/><path d="M197.9 111.4L201.2 135.6L205.7 132.6L202.6 108.6Z" fill="url(#a204)"/><path d="M128.1 106.3L133 129.3L138.1 126.6L133.3 103.7Z" fill="url(#a205)"/><path d="M71.7 96.7L76.8 89L82.7 86.3L77.6 93.9Z" fill="url(#a206)"/><path d="M166.6 123.7L173.5 122L178.3 119.2L171.4 120.9Z" fill="url(#a207)"/><path d="M116.5 120.4L122.8 108.9L128.1 106.3L121.7 118.5Z" fill="url(#a208)"/><path d="M82.7 86.3L88.3 85.1L94.2 82.4L88.6 83.7Z" fill="#ff5900"/><path d="M105.8 92.2L111.2 122.4L116.5 120.4L111.4 89.6Z" fill="url(#a209)"/><path d="M94.2 82.4L100.1 95L105.8 92.2L100 79.8Z" fill="url(#a210)"/><path d="M155.1 128.1L161.7 126.6L166.6 123.7L160 125.2Z" fill="url(#a211)"/><path d="M185.1 120.3L193.1 114.3L197.9 111.4L189.9 117.2Z" fill="url(#a212)"/><path d="M143.8 132L150.1 131.1L155.1 128.1L148.8 129.1Z" fill="url(#a213)"/><path d="M173.5 122L180.2 123.6L185.1 120.3L178.3 119.2Z" fill="#9efe00"/><path d="M133 129.3L138.7 135L143.8 132L138.1 126.6Z" fill="#3bff81"/><path d="M122.8 108.9L127.8 132L133 129.3L128.1 106.3Z" fill="url(#a214)"/><path d="M76.8 89L82.3 87.8L88.3 85.1L82.7 86.3Z" fill="#ff5900"/><path d="M111.2 122.4L117.3 111.6L122.8 108.9L116.5 120.4Z" fill="url(#a215)"/><path d="M193.1 114.3L196.6 138.7L201.2 135.6L197.9 111.4Z" fill="url(#a216)"/><path d="M88.3 85.1L94.3 97.8L100.1 95L94.2 82.4Z" fill="url(#a217)"/><path d="M100.1 95L105.8 124.5L111.2 122.4L105.8 92.2Z" fill="url(#a218)"/><path d="M161.7 126.6L168.6 124.9L173.5 122L166.6 123.7Z" fill="url(#a219)"/><path d="M150.1 131.1L156.7 129.5L161.7 126.6L155.1 128.1Z" fill="url(#a220)"/><path d="M180.2 123.6L188.3 117.2L193.1 114.3L185.1 120.3Z" fill="url(#a221)"/><path d="M138.7 135L145 134.1L150.1 131.1L143.8 132Z" fill="url(#a222)"/><path d="M127.8 132L133.6 138.1L138.7 135L133 129.3Z" fill="#3cff7f"/><path d="M168.6 124.9L175.3 126.8L180.2 123.6L173.5 122Z" fill="#9dfe00"/><path d="M117.3 111.6L122.6 134.8L127.8 132L122.8 108.9Z" fill="url(#a223)"/><path d="M82.3 87.8L88.2 94.3L94.3 97.8L88.3 85.1Z" fill="url(#a224)"/><path d="M105.8 124.5L111.7 114.3L117.3 111.6L111.2 122.4Z" fill="url(#a225)"/><path d="M94.3 97.8L100.2 126.6L105.8 124.5L100.1 95Z" fill="url(#a226)"/><path d="M188.3 117.2L191.9 141.9L196.6 138.7L193.1 114.3Z" fill="url(#a227)"/><path d="M156.7 129.5L163.6 127.9L168.6 124.9L161.7 126.6Z" fill="url(#a228)"/><path d="M145 134.1L151.6 132.5L156.7 129.5L150.1 131.1Z" fill="url(#a229)"/><path d="M175.3 126.8L183.3 120.2L188.3 117.2L180.2 123.6Z" fill="url(#a230)"/><path d="M133.6 138.1L139.9 137.2L145 134.1L138.7 135Z" fill="url(#a231)"/><path d="M122.6 134.8L128.3 141.2L133.6 138.1L127.8 132Z" fill="#3dff7e"/><path d="M111.7 114.3L117.2 137.6L122.6 134.8L117.3 111.6Z" fill="url(#a232)"/><path d="M88.2 94.3L94.5 128.7L100.2 126.6L94.3 97.8Z" fill="url(#a233)"/><path d="M163.6 127.9L170.2 130.2L175.3 126.8L168.6 124.9Z" fill="#9dfe00"/><path d="M100.2 126.6L106 117.1L111.7 114.3L105.8 124.5Z" fill="url(#a234)"/><path d="M151.6 132.5L158.4 130.9L163.6 127.9L156.7 129.5Z" fill="url(#a235)"/><path d="M183.3 120.2L187.1 145.1L191.9 141.9L188.3 117.2Z" fill="url(#a236)"/><path d="M139.9 137.2L146.4 135.5L151.6 132.5L145 134.1Z" fill="url(#a237)"/><path d="M128.3 141.2L134.6 140.3L139.9 137.2L133.6 138.1Z" fill="url(#a238)"/><path d="M170.2 130.2L178.2 123.3L183.3 120.2L175.3 126.8Z" fill="url(#a239)"/><path d="M117.2 137.6L123 144.4L128.3 141.2L122.6 134.8Z" fill="#3eff7c"/><path d="M106 117.1L111.7 140.5L117.2 137.6L111.7 114.3Z" fill="url(#a240)"/><path d="M94.5 128.7L100.2 119.9L106 117.1L100.2 126.6Z" fill="url(#a241)"/><path d="M158.4 130.9L165.1 133.6L170.2 130.2L163.6 127.9Z" fill="#9dfe00"/><path d="M146.4 135.5L153.2 134L158.4 130.9L151.6 132.5Z" fill="url(#a242)"/><path d="M178.2 123.3L182.1 148.4L187.1 145.1L183.3 120.2Z" fill="url(#a243)"/><path d="M134.6 140.3L141.1 138.6L146.4 135.5L139.9 137.2Z" fill="url(#a244)"/><path d="M123 144.4L129.2 143.6L134.6 140.3L128.3 141.2Z" fill="url(#a245)"/><path d="M111.7 140.5L117.5 147.7L123 144.4L117.2 137.6Z" fill="url(#a246)"/><path d="M165.1 133.6L173 126.4L178.2 123.3L170.2 130.2Z" fill="url(#a247)"/><path d="M100.2 119.9L106.1 143.4L111.7 140.5L106 117.1Z" fill="url(#a248)"/><path d="M153.2 134L159.8 137.1L165.1 133.6L158.4 130.9Z" fill="#9cfe00"/><path d="M141.1 138.6L147.9 137.1L153.2 134L146.4 135.5Z" fill="url(#a249)"/><path d="M173 126.4L177.1 151.7L182.1 148.4L178.2 123.3Z" fill="url(#a250)"/><path d="M129.2 143.6L135.7 141.8L141.1 138.6L134.6 140.3Z" fill="url(#a251)"/><path d="M117.5 147.7L123.7 146.8L129.2 143.6L123 144.4Z" fill="url(#a252)"/><path d="M106.1 143.4L111.9 151L117.5 147.7L111.7 140.5Z" fill="url(#a253)"/><path d="M159.8 137.1L167.7 129.6L173 126.4L165.1 133.6Z" fill="url(#a254)"/><path d="M147.9 137.1L154.4 140.6L159.8 137.1L153.2 134Z" fill="#9cfe00"/><path d="M135.7 141.8L142.4 140.3L147.9 137.1L141.1 138.6Z" fill="url(#a255)"/><path d="M123.7 146.8L130.1 145L135.7 141.8L129.2 143.6Z" fill="url(#a256)"/><path d="M167.7 129.6L172 155.2L177.1 151.7L173 126.4Z" fill="url(#a257)"/><path d="M111.9 151L118.1 150.2L123.7 146.8L117.5 147.7Z" fill="url(#a258)"/><path d="M154.4 140.6L162.3 132.9L167.7 129.6L159.8 137.1Z" fill="url(#a259)"/><path d="M142.4 140.3L149 144.2L154.4 140.6L147.9 137.1Z" fill="#9cfe00"/><path d="M130.1 145L136.8 143.6L142.4 140.3L135.7 141.8Z" fill="url(#a260)"/><path d="M118.1 150.2L124.5 148.3L130.1 145L123.7 146.8Z" fill="url(#a261)"/><path d="M162.3 132.9L166.8 158.7L172 155.2L167.7 129.6Z" fill="url(#a262)"/><path d="M149 144.2L156.8 136.2L162.3 132.9L154.4 140.6Z" fill="url(#a263)"/><path d="M136.8 143.6L143.4 147.9L149 144.2L142.4 140.3Z" fill="#9bfe00"/><path d="M124.5 148.3L131.1 147L136.8 143.6L130.1 145Z" fill="url(#a264)"/><path d="M156.8 136.2L161.4 162.2L166.8 158.7L162.3 132.9Z" fill="url(#a265)"/><path d="M143.4 147.9L151.1 139.7L156.8 136.2L149 144.2Z" fill="url(#a266)"/><path d="M131.1 147L137.7 151.7L143.4 147.9L136.8 143.6Z" fill="#9bfe00"/><path d="M151.1 139.7L156 165.9L161.4 162.2L156.8 136.2Z" fill="url(#a267)"/><path d="M137.7 151.7L145.3 143.2L151.1 139.7L143.4 147.9Z" fill="url(#a268)"/><path d="M145.3 143.2L150.4 169.6L156 165.9L151.1 139.7Z" fill="url(#a269)"/></g><g font-size="12" fill="#444" dominant-baseline="central" text-anchor="middle"><text transform="translate(118.1 238.8) rotate(-37.3)">0.1</text><text transform="translate(175.7 239.5) rotate(33.4)">0.1</text><text transform="translate(106.4 230.3) rotate(-36.2)">0.2</text><text transform="translate(185.4 231.1) rotate(32.4)">0.2</text><text transform="translate(95.2 222.2) rotate(-35.1)">0.3</text><text transform="translate(194.8 223.1) rotate(31.5)">0.3</text><text transform="translate(84.4 214.3) rotate(-34.1)">0.4</text><text transform="translate(203.8 215.4) rotate(30.6)">0.4</text><text transform="translate(74.1 206.8) rotate(-33.1)">0.5</text><text transform="translate(212.5 208) rotate(29.8)">0.5</text><text transform="translate(64.2 199.6) rotate(-32.2)">0.6</text><text transform="translate(220.8 200.9) rotate(29)">0.6</text><text transform="translate(54.6 192.7) rotate(-31.3)">0.7</text><text transform="translate(228.9 194) rotate(28.3)">0.7</text><text transform="translate(45.4 186) rotate(-30.4)">0.8</text><text transform="translate(236.6 187.4) rotate(27.5)">0.8</text><text transform="translate(36.6 179.6) rotate(-29.6)">0.9</text><text transform="translate(244.1 181) rotate(26.9)">0.9</text></g><g font-size="12" fill="#444" dominant-baseline="central" text-anchor="end"><text transform="translate(45 158.3) rotate(-20)">−0.35</text><text transform="translate(40.7 112.7) rotate(-20)">−0.3</text><text transform="translate(35.7 59.2) rotate(-20)">−0.25</text></g><g font-size="12.5" fill="#444" text-anchor="middle" dominant-baseline="central"><text x="48" y="225">CO2</text><text x="243" y="225.5">REC</text></g><rect x="278.4" y="80" width="8.0" height="102.30000000000001" fill="url(#cbA)" stroke="#555" stroke-width="0.6"/><g stroke="#444" stroke-width="0.8"><path d="M286.4 126.6L288.9 126.6"/><path d="M286.4 174.3L288.9 174.3"/></g><g font-size="12.2" fill="#444" dominant-baseline="central"><text x="291.3" y="126.6">−0.3</text><text x="291.3" y="174.3">−0.35</text></g></g><g><defs><linearGradient id="b1" gradientUnits="userSpaceOnUse" x1="133.9" y1="385" x2="130.9" y2="379.6"><stop offset="0" stop-color="#91005d"/><stop offset="0.879" stop-color="#0000c8"/><stop offset="1" stop-color="#0003cf"/></linearGradient><linearGradient id="b2" gradientUnits="userSpaceOnUse" x1="139" y1="375.1" x2="136.1" y2="369.9"><stop offset="0" stop-color="#0003cf"/><stop offset="0.832" stop-color="#0019ff"/><stop offset="1" stop-color="#002fff"/></linearGradient><linearGradient id="b3" gradientUnits="userSpaceOnUse" x1="129.7" y1="387.4" x2="126.7" y2="382"><stop offset="0" stop-color="#91005d"/><stop offset="0.879" stop-color="#0000c8"/><stop offset="1" stop-color="#0003cf"/></linearGradient><linearGradient id="b4" gradientUnits="userSpaceOnUse" x1="144.8" y1="365.2" x2="141.1" y2="358.3"><stop offset="0" stop-color="#002fff"/><stop offset="0.704" stop-color="#0098ff"/><stop offset="1" stop-color="#0fbcdb"/></linearGradient><linearGradient id="b5" gradientUnits="userSpaceOnUse" x1="134.7" y1="377.5" x2="131.8" y2="372.3"><stop offset="0" stop-color="#0003cf"/><stop offset="0.832" stop-color="#0019ff"/><stop offset="1" stop-color="#002fff"/></linearGradient><linearGradient id="b6" gradientUnits="userSpaceOnUse" x1="125.4" y1="389.8" x2="122.4" y2="384.4"><stop offset="0" stop-color="#91005d"/><stop offset="0.879" stop-color="#0000c8"/><stop offset="1" stop-color="#0003cf"/></linearGradient><linearGradient id="b7" gradientUnits="userSpaceOnUse" x1="149.5" y1="353.9" x2="147.7" y2="350.6"><stop offset="0" stop-color="#0fbcdb"/><stop offset="0.864" stop-color="#2cff96"/><stop offset="1" stop-color="#37ff87"/></linearGradient><linearGradient id="b8" gradientUnits="userSpaceOnUse" x1="140.5" y1="367.5" x2="136.7" y2="360.6"><stop offset="0" stop-color="#002fff"/><stop offset="0.704" stop-color="#0098ff"/><stop offset="1" stop-color="#0fbcdb"/></linearGradient><linearGradient id="b9" gradientUnits="userSpaceOnUse" x1="130.3" y1="379.9" x2="127.4" y2="374.7"><stop offset="0" stop-color="#0003cf"/><stop offset="0.832" stop-color="#0019ff"/><stop offset="1" stop-color="#002fff"/></linearGradient><linearGradient id="b10" gradientUnits="userSpaceOnUse" x1="121.1" y1="392.3" x2="118" y2="386.8"><stop offset="0" stop-color="#91005d"/><stop offset="0.879" stop-color="#0000c8"/><stop offset="1" stop-color="#0003cf"/></linearGradient><linearGradient id="b11" gradientUnits="userSpaceOnUse" x1="160.3" y1="344.3" x2="150.1" y2="323.7"><stop offset="0" stop-color="#37ff87"/><stop offset="0.384" stop-color="#97ff00"/><stop offset="0.813" stop-color="#ffea00"/><stop offset="1" stop-color="#ffb400"/></linearGradient><linearGradient id="b12" gradientUnits="userSpaceOnUse" x1="145" y1="356.2" x2="143.3" y2="352.9"><stop offset="0" stop-color="#0fbcdb"/><stop offset="0.864" stop-color="#2cff96"/><stop offset="1" stop-color="#37ff87"/></linearGradient><linearGradient id="b13" gradientUnits="userSpaceOnUse" x1="136" y1="370" x2="132.3" y2="363"><stop offset="0" stop-color="#002fff"/><stop offset="0.704" stop-color="#0098ff"/><stop offset="1" stop-color="#0fbcdb"/></linearGradient><linearGradient id="b14" gradientUnits="userSpaceOnUse" x1="125.9" y1="382.4" x2="123" y2="377.1"><stop offset="0" stop-color="#0003cf"/><stop offset="0.832" stop-color="#0019ff"/><stop offset="1" stop-color="#002fff"/></linearGradient><linearGradient id="b15" gradientUnits="userSpaceOnUse" x1="116.7" y1="394.8" x2="113.6" y2="389.3"><stop offset="0" stop-color="#91005d"/><stop offset="0.879" stop-color="#0000c8"/><stop offset="1" stop-color="#0003cf"/></linearGradient><linearGradient id="b16" gradientUnits="userSpaceOnUse" x1="161.9" y1="317.9" x2="161.9" y2="318"><stop offset="0" stop-color="#ffb400"/><stop offset="1" stop-color="#ff8900"/></linearGradient><linearGradient id="b17" gradientUnits="userSpaceOnUse" x1="155.8" y1="346.6" x2="145.5" y2="325.8"><stop offset="0" stop-color="#37ff87"/><stop offset="0.384" stop-color="#97ff00"/><stop offset="0.813" stop-color="#ffea00"/><stop offset="1" stop-color="#ffb400"/></linearGradient><linearGradient id="b18" gradientUnits="userSpaceOnUse" x1="140.5" y1="358.6" x2="138.8" y2="355.3"><stop offset="0" stop-color="#0fbcdb"/><stop offset="0.864" stop-color="#2cff96"/><stop offset="1" stop-color="#37ff87"/></linearGradient><linearGradient id="b19" gradientUnits="userSpaceOnUse" x1="131.6" y1="372.4" x2="127.8" y2="365.4"><stop offset="0" stop-color="#002fff"/><stop offset="0.704" stop-color="#0098ff"/><stop offset="1" stop-color="#0fbcdb"/></linearGradient><linearGradient id="b20" gradientUnits="userSpaceOnUse" x1="121.5" y1="384.9" x2="118.5" y2="379.6"><stop offset="0" stop-color="#0003cf"/><stop offset="0.832" stop-color="#0019ff"/><stop offset="1" stop-color="#002fff"/></linearGradient><linearGradient id="b21" gradientUnits="userSpaceOnUse" x1="112.2" y1="397.4" x2="109.1" y2="391.8"><stop offset="0" stop-color="#91005d"/><stop offset="0.879" stop-color="#0000c8"/><stop offset="1" stop-color="#0003cf"/></linearGradient><linearGradient id="b22" gradientUnits="userSpaceOnUse" x1="171" y1="313.8" x2="166.1" y2="303.1"><stop offset="0" stop-color="#ff8900"/><stop offset="0.173" stop-color="#ff6f00"/><stop offset="0.981" stop-color="#ff0000"/><stop offset="1" stop-color="#ff0000"/></linearGradient><linearGradient id="b23" gradientUnits="userSpaceOnUse" x1="157.3" y1="320.1" x2="157.3" y2="320.2"><stop offset="0" stop-color="#ffb400"/><stop offset="1" stop-color="#ff8900"/></linearGradient><linearGradient id="b24" gradientUnits="userSpaceOnUse" x1="151.2" y1="349" x2="140.8" y2="328"><stop offset="0" stop-color="#37ff87"/><stop offset="0.384" stop-color="#97ff00"/><stop offset="0.813" stop-color="#ffea00"/><stop offset="1" stop-color="#ffb400"/></linearGradient><linearGradient id="b25" gradientUnits="userSpaceOnUse" x1="136" y1="361" x2="134.2" y2="357.7"><stop offset="0" stop-color="#0fbcdb"/><stop offset="0.864" stop-color="#2cff96"/><stop offset="1" stop-color="#37ff87"/></linearGradient><linearGradient id="b26" gradientUnits="userSpaceOnUse" x1="127" y1="374.9" x2="123.2" y2="367.8"><stop offset="0" stop-color="#002fff"/><stop offset="0.704" stop-color="#0098ff"/><stop offset="1" stop-color="#0fbcdb"/></linearGradient><linearGradient id="b27" gradientUnits="userSpaceOnUse" x1="107.7" y1="400" x2="104.5" y2="394.4"><stop offset="0" stop-color="#91005d"/><stop offset="0.879" stop-color="#0000c8"/><stop offset="1" stop-color="#0003cf"/></linearGradient><linearGradient id="b28" gradientUnits="userSpaceOnUse" x1="116.9" y1="387.5" x2="113.9" y2="382.1"><stop offset="0" stop-color="#0003cf"/><stop offset="0.832" stop-color="#0019ff"/><stop offset="1" stop-color="#002fff"/></linearGradient><linearGradient id="b29" gradientUnits="userSpaceOnUse" x1="166.3" y1="316" x2="161.4" y2="305.3"><stop offset="0" stop-color="#ff8900"/><stop offset="0.173" stop-color="#ff6f00"/><stop offset="0.981" stop-color="#ff0000"/><stop offset="1" stop-color="#ff0000"/></linearGradient><linearGradient id="b30" gradientUnits="userSpaceOnUse" x1="152.5" y1="322.3" x2="152.6" y2="322.4"><stop offset="0" stop-color="#ffb400"/><stop offset="1" stop-color="#ff8900"/></linearGradient><linearGradient id="b31" gradientUnits="userSpaceOnUse" x1="146.5" y1="351.4" x2="136.1" y2="330.3"><stop offset="0" stop-color="#37ff87"/><stop offset="0.384" stop-color="#97ff00"/><stop offset="0.813" stop-color="#ffea00"/><stop offset="1" stop-color="#ffb400"/></linearGradient><linearGradient id="b32" gradientUnits="userSpaceOnUse" x1="131.3" y1="363.5" x2="129.5" y2="360.1"><stop offset="0" stop-color="#0fbcdb"/><stop offset="0.864" stop-color="#2cff96"/><stop offset="1" stop-color="#37ff87"/></linearGradient><linearGradient id="b33" gradientUnits="userSpaceOnUse" x1="103.1" y1="402.6" x2="99.9" y2="397"><stop offset="0" stop-color="#91005d"/><stop offset="0.879" stop-color="#0000c8"/><stop offset="1" stop-color="#0003cf"/></linearGradient><linearGradient id="b34" gradientUnits="userSpaceOnUse" x1="122.3" y1="377.5" x2="118.5" y2="370.3"><stop offset="0" stop-color="#002fff"/><stop offset="0.704" stop-color="#0098ff"/><stop offset="1" stop-color="#0fbcdb"/></linearGradient><linearGradient id="b35" gradientUnits="userSpaceOnUse" x1="112.3" y1="390.1" x2="109.2" y2="384.6"><stop offset="0" stop-color="#0003cf"/><stop offset="0.832" stop-color="#0019ff"/><stop offset="1" stop-color="#002fff"/></linearGradient><linearGradient id="b36" gradientUnits="userSpaceOnUse" x1="185.2" y1="332.1" x2="173.6" y2="308.6"><stop offset="0" stop-color="#ffe000"/><stop offset="0.542" stop-color="#ff6f00"/><stop offset="1" stop-color="#ff1900"/></linearGradient><linearGradient id="b37" gradientUnits="userSpaceOnUse" x1="161.5" y1="318.3" x2="156.6" y2="307.4"><stop offset="0" stop-color="#ff8900"/><stop offset="0.173" stop-color="#ff6f00"/><stop offset="0.981" stop-color="#ff0000"/><stop offset="1" stop-color="#ff0000"/></linearGradient><linearGradient id="b38" gradientUnits="userSpaceOnUse" x1="147.7" y1="324.6" x2="147.7" y2="324.7"><stop offset="0" stop-color="#ffb400"/><stop offset="1" stop-color="#ff8900"/></linearGradient><linearGradient id="b39" gradientUnits="userSpaceOnUse" x1="141.8" y1="353.9" x2="131.2" y2="332.6"><stop offset="0" stop-color="#37ff87"/><stop offset="0.384" stop-color="#97ff00"/><stop offset="0.813" stop-color="#ffea00"/><stop offset="1" stop-color="#ffb400"/></linearGradient><linearGradient id="b40" gradientUnits="userSpaceOnUse" x1="98.4" y1="405.3" x2="95.2" y2="399.6"><stop offset="0" stop-color="#91005d"/><stop offset="0.879" stop-color="#0000c8"/><stop offset="1" stop-color="#0003cf"/></linearGradient><linearGradient id="b41" gradientUnits="userSpaceOnUse" x1="126.6" y1="366" x2="124.8" y2="362.6"><stop offset="0" stop-color="#0fbcdb"/><stop offset="0.864" stop-color="#2cff96"/><stop offset="1" stop-color="#37ff87"/></linearGradient><linearGradient id="b42" gradientUnits="userSpaceOnUse" x1="107.5" y1="392.7" x2="104.5" y2="387.2"><stop offset="0" stop-color="#0003cf"/><stop offset="0.832" stop-color="#0019ff"/><stop offset="1" stop-color="#002fff"/></linearGradient><linearGradient id="b43" gradientUnits="userSpaceOnUse" x1="117.6" y1="380" x2="113.7" y2="372.8"><stop offset="0" stop-color="#002fff"/><stop offset="0.704" stop-color="#0098ff"/><stop offset="1" stop-color="#0fbcdb"/></linearGradient><linearGradient id="b44" gradientUnits="userSpaceOnUse" x1="180.6" y1="334.5" x2="168.9" y2="310.7"><stop offset="0" stop-color="#ffe000"/><stop offset="0.542" stop-color="#ff6f00"/><stop offset="1" stop-color="#ff1900"/></linearGradient><linearGradient id="b45" gradientUnits="userSpaceOnUse" x1="156.7" y1="320.6" x2="151.6" y2="309.6"><stop offset="0" stop-color="#ff8900"/><stop offset="0.173" stop-color="#ff6f00"/><stop offset="0.981" stop-color="#ff0000"/><stop offset="1" stop-color="#ff0000"/></linearGradient><linearGradient id="b46" gradientUnits="userSpaceOnUse" x1="190.1" y1="334.8" x2="190.2" y2="335"><stop offset="0" stop-color="#ffde00"/><stop offset="1" stop-color="#ffad00"/></linearGradient><linearGradient id="b47" gradientUnits="userSpaceOnUse" x1="142.8" y1="326.9" x2="142.8" y2="327"><stop offset="0" stop-color="#ffb400"/><stop offset="1" stop-color="#ff8900"/></linearGradient><linearGradient id="b48" gradientUnits="userSpaceOnUse" x1="93.6" y1="408.1" x2="90.3" y2="402.3"><stop offset="0" stop-color="#91005d"/><stop offset="0.879" stop-color="#0000c8"/><stop offset="1" stop-color="#0003cf"/></linearGradient><linearGradient id="b49" gradientUnits="userSpaceOnUse" x1="136.9" y1="356.4" x2="126.3" y2="334.9"><stop offset="0" stop-color="#37ff87"/><stop offset="0.384" stop-color="#97ff00"/><stop offset="0.813" stop-color="#ffea00"/><stop offset="1" stop-color="#ffb400"/></linearGradient><linearGradient id="b50" gradientUnits="userSpaceOnUse" x1="102.7" y1="395.4" x2="99.7" y2="389.8"><stop offset="0" stop-color="#0003cf"/><stop offset="0.832" stop-color="#0019ff"/><stop offset="1" stop-color="#002fff"/></linearGradient><linearGradient id="b51" gradientUnits="userSpaceOnUse" x1="121.8" y1="368.6" x2="119.9" y2="365.1"><stop offset="0" stop-color="#0fbcdb"/><stop offset="0.864" stop-color="#2cff96"/><stop offset="1" stop-color="#37ff87"/></linearGradient><linearGradient id="b52" gradientUnits="userSpaceOnUse" x1="112.8" y1="382.7" x2="108.9" y2="375.4"><stop offset="0" stop-color="#002fff"/><stop offset="0.704" stop-color="#0098ff"/><stop offset="1" stop-color="#0fbcdb"/></linearGradient><linearGradient id="b53" gradientUnits="userSpaceOnUse" x1="175.9" y1="336.9" x2="164.1" y2="313"><stop offset="0" stop-color="#ffe000"/><stop offset="0.542" stop-color="#ff6f00"/><stop offset="1" stop-color="#ff1900"/></linearGradient><linearGradient id="b54" gradientUnits="userSpaceOnUse" x1="197.2" y1="331.3" x2="196.9" y2="330.8"><stop offset="0" stop-color="#ffad00"/><stop offset="1" stop-color="#ff7300"/></linearGradient><linearGradient id="b55" gradientUnits="userSpaceOnUse" x1="151.7" y1="322.9" x2="146.6" y2="311.8"><stop offset="0" stop-color="#ff8900"/><stop offset="0.173" stop-color="#ff6f00"/><stop offset="0.981" stop-color="#ff0000"/><stop offset="1" stop-color="#ff0000"/></linearGradient><linearGradient id="b56" gradientUnits="userSpaceOnUse" x1="88.7" y1="410.8" x2="85.5" y2="405.1"><stop offset="0" stop-color="#91005d"/><stop offset="0.879" stop-color="#0000c8"/><stop offset="1" stop-color="#0003cf"/></linearGradient><linearGradient id="b57" gradientUnits="userSpaceOnUse" x1="185.6" y1="337.2" x2="185.7" y2="337.4"><stop offset="0" stop-color="#ffde00"/><stop offset="1" stop-color="#ffad00"/></linearGradient><linearGradient id="b58" gradientUnits="userSpaceOnUse" x1="137.7" y1="329.3" x2="137.8" y2="329.4"><stop offset="0" stop-color="#ffb400"/><stop offset="1" stop-color="#ff8900"/></linearGradient><linearGradient id="b59" gradientUnits="userSpaceOnUse" x1="97.9" y1="398.1" x2="94.8" y2="392.5"><stop offset="0" stop-color="#0003cf"/><stop offset="0.832" stop-color="#0019ff"/><stop offset="1" stop-color="#002fff"/></linearGradient><linearGradient id="b60" gradientUnits="userSpaceOnUse" x1="132" y1="359" x2="121.2" y2="337.3"><stop offset="0" stop-color="#37ff87"/><stop offset="0.384" stop-color="#97ff00"/><stop offset="0.813" stop-color="#ffea00"/><stop offset="1" stop-color="#ffb400"/></linearGradient><linearGradient id="b61" gradientUnits="userSpaceOnUse" x1="107.9" y1="385.4" x2="103.9" y2="378"><stop offset="0" stop-color="#002fff"/><stop offset="0.704" stop-color="#0098ff"/><stop offset="1" stop-color="#0fbcdb"/></linearGradient><linearGradient id="b62" gradientUnits="userSpaceOnUse" x1="116.8" y1="371.2" x2="115" y2="367.7"><stop offset="0" stop-color="#0fbcdb"/><stop offset="0.864" stop-color="#2cff96"/><stop offset="1" stop-color="#37ff87"/></linearGradient><linearGradient id="b63" gradientUnits="userSpaceOnUse" x1="204.2" y1="326.9" x2="204.2" y2="326.8"><stop offset="0" stop-color="#ff7300"/><stop offset="0.073" stop-color="#ff6f00"/><stop offset="1" stop-color="#ff4300"/></linearGradient><linearGradient id="b64" gradientUnits="userSpaceOnUse" x1="171.1" y1="339.4" x2="159.2" y2="315.2"><stop offset="0" stop-color="#ffe000"/><stop offset="0.542" stop-color="#ff6f00"/><stop offset="1" stop-color="#ff1900"/></linearGradient><linearGradient id="b65" gradientUnits="userSpaceOnUse" x1="192.6" y1="333.7" x2="192.3" y2="333.2"><stop offset="0" stop-color="#ffad00"/><stop offset="1" stop-color="#ff7300"/></linearGradient><linearGradient id="b66" gradientUnits="userSpaceOnUse" x1="83.8" y1="413.7" x2="80.5" y2="407.9"><stop offset="0" stop-color="#91005d"/><stop offset="0.879" stop-color="#0000c8"/><stop offset="1" stop-color="#0003cf"/></linearGradient><linearGradient id="b67" gradientUnits="userSpaceOnUse" x1="146.6" y1="325.3" x2="141.5" y2="314.1"><stop offset="0" stop-color="#ff8900"/><stop offset="0.173" stop-color="#ff6f00"/><stop offset="0.981" stop-color="#ff0000"/><stop offset="1" stop-color="#ff0000"/></linearGradient><linearGradient id="b68" gradientUnits="userSpaceOnUse" x1="92.9" y1="400.9" x2="89.8" y2="395.3"><stop offset="0" stop-color="#0003cf"/><stop offset="0.832" stop-color="#0019ff"/><stop offset="1" stop-color="#002fff"/></linearGradient><linearGradient id="b69" gradientUnits="userSpaceOnUse" x1="132.6" y1="331.7" x2="132.7" y2="331.8"><stop offset="0" stop-color="#ffb400"/><stop offset="1" stop-color="#ff8900"/></linearGradient><linearGradient id="b70" gradientUnits="userSpaceOnUse" x1="102.9" y1="388.1" x2="98.9" y2="380.7"><stop offset="0" stop-color="#002fff"/><stop offset="0.704" stop-color="#0098ff"/><stop offset="1" stop-color="#0fbcdb"/></linearGradient><linearGradient id="b71" gradientUnits="userSpaceOnUse" x1="127" y1="361.6" x2="116.1" y2="339.7"><stop offset="0" stop-color="#37ff87"/><stop offset="0.384" stop-color="#97ff00"/><stop offset="0.813" stop-color="#ffea00"/><stop offset="1" stop-color="#ffb400"/></linearGradient><linearGradient id="b72" gradientUnits="userSpaceOnUse" x1="111.8" y1="373.8" x2="110" y2="370.3"><stop offset="0" stop-color="#0fbcdb"/><stop offset="0.864" stop-color="#2cff96"/><stop offset="1" stop-color="#37ff87"/></linearGradient><linearGradient id="b73" gradientUnits="userSpaceOnUse" x1="180.9" y1="339.7" x2="181" y2="339.9"><stop offset="0" stop-color="#ffde00"/><stop offset="1" stop-color="#ffad00"/></linearGradient><linearGradient id="b74" gradientUnits="userSpaceOnUse" x1="214.2" y1="341.8" x2="205.5" y2="326.2"><stop offset="0" stop-color="#ffbd00"/><stop offset="0.613" stop-color="#ff6f00"/><stop offset="1" stop-color="#ff4300"/></linearGradient><linearGradient id="b75" gradientUnits="userSpaceOnUse" x1="199.7" y1="329.3" x2="199.6" y2="329.2"><stop offset="0" stop-color="#ff7300"/><stop offset="0.073" stop-color="#ff6f00"/><stop offset="1" stop-color="#ff4300"/></linearGradient><linearGradient id="b76" gradientUnits="userSpaceOnUse" x1="166.3" y1="342" x2="154.2" y2="317.5"><stop offset="0" stop-color="#ffe000"/><stop offset="0.542" stop-color="#ff6f00"/><stop offset="1" stop-color="#ff1900"/></linearGradient><linearGradient id="b77" gradientUnits="userSpaceOnUse" x1="78.8" y1="416.6" x2="75.4" y2="410.7"><stop offset="0" stop-color="#91005d"/><stop offset="0.879" stop-color="#0000c8"/><stop offset="1" stop-color="#0003cf"/></linearGradient><linearGradient id="b78" gradientUnits="userSpaceOnUse" x1="218.4" y1="360.7" x2="208.9" y2="344.9"><stop offset="0" stop-color="#b0fa00"/><stop offset="0.674" stop-color="#ffea00"/><stop offset="1" stop-color="#ffbd00"/></linearGradient><linearGradient id="b79" gradientUnits="userSpaceOnUse" x1="87.8" y1="403.7" x2="84.7" y2="398"><stop offset="0" stop-color="#0003cf"/><stop offset="0.832" stop-color="#0019ff"/><stop offset="1" stop-color="#002fff"/></linearGradient><linearGradient id="b80" gradientUnits="userSpaceOnUse" x1="188" y1="336.2" x2="187.7" y2="335.7"><stop offset="0" stop-color="#ffad00"/><stop offset="1" stop-color="#ff7300"/></linearGradient><linearGradient id="b81" gradientUnits="userSpaceOnUse" x1="141.5" y1="327.7" x2="136.3" y2="316.4"><stop offset="0" stop-color="#ff8900"/><stop offset="0.173" stop-color="#ff6f00"/><stop offset="0.981" stop-color="#ff0000"/><stop offset="1" stop-color="#ff0000"/></linearGradient><linearGradient id="b82" gradientUnits="userSpaceOnUse" x1="97.8" y1="390.9" x2="93.8" y2="383.4"><stop offset="0" stop-color="#002fff"/><stop offset="0.704" stop-color="#0098ff"/><stop offset="1" stop-color="#0fbcdb"/></linearGradient><linearGradient id="b83" gradientUnits="userSpaceOnUse" x1="127.4" y1="334.2" x2="127.5" y2="334.3"><stop offset="0" stop-color="#ffb400"/><stop offset="1" stop-color="#ff8900"/></linearGradient><linearGradient id="b84" gradientUnits="userSpaceOnUse" x1="106.7" y1="376.5" x2="104.9" y2="373"><stop offset="0" stop-color="#0fbcdb"/><stop offset="0.864" stop-color="#2cff96"/><stop offset="1" stop-color="#37ff87"/></linearGradient><linearGradient id="b85" gradientUnits="userSpaceOnUse" x1="121.8" y1="364.3" x2="110.9" y2="342.2"><stop offset="0" stop-color="#37ff87"/><stop offset="0.384" stop-color="#97ff00"/><stop offset="0.813" stop-color="#ffea00"/><stop offset="1" stop-color="#ffb400"/></linearGradient><linearGradient id="b86" gradientUnits="userSpaceOnUse" x1="176.2" y1="342.2" x2="176.3" y2="342.4"><stop offset="0" stop-color="#ffde00"/><stop offset="1" stop-color="#ffad00"/></linearGradient><linearGradient id="b87" gradientUnits="userSpaceOnUse" x1="209.7" y1="344.4" x2="200.9" y2="328.6"><stop offset="0" stop-color="#ffbd00"/><stop offset="0.613" stop-color="#ff6f00"/><stop offset="1" stop-color="#ff4300"/></linearGradient><linearGradient id="b88" gradientUnits="userSpaceOnUse" x1="222.7" y1="384.5" x2="210.4" y2="365.7"><stop offset="0" stop-color="#1bd7bf"/><stop offset="0.241" stop-color="#2cff96"/><stop offset="0.855" stop-color="#97ff00"/><stop offset="1" stop-color="#b0fa00"/></linearGradient><linearGradient id="b89" gradientUnits="userSpaceOnUse" x1="73.6" y1="419.5" x2="70.3" y2="413.6"><stop offset="0" stop-color="#91005d"/><stop offset="0.879" stop-color="#0000c8"/><stop offset="1" stop-color="#0003cf"/></linearGradient><linearGradient id="b90" gradientUnits="userSpaceOnUse" x1="195" y1="331.8" x2="194.9" y2="331.7"><stop offset="0" stop-color="#ff7300"/><stop offset="0.073" stop-color="#ff6f00"/><stop offset="1" stop-color="#ff4300"/></linearGradient><linearGradient id="b91" gradientUnits="userSpaceOnUse" x1="161.3" y1="344.6" x2="149.2" y2="319.9"><stop offset="0" stop-color="#ffe000"/><stop offset="0.542" stop-color="#ff6f00"/><stop offset="1" stop-color="#ff1900"/></linearGradient><linearGradient id="b92" gradientUnits="userSpaceOnUse" x1="82.7" y1="406.6" x2="79.5" y2="400.9"><stop offset="0" stop-color="#0003cf"/><stop offset="0.832" stop-color="#0019ff"/><stop offset="1" stop-color="#002fff"/></linearGradient><linearGradient id="b93" gradientUnits="userSpaceOnUse" x1="92.7" y1="393.7" x2="88.6" y2="386.2"><stop offset="0" stop-color="#002fff"/><stop offset="0.704" stop-color="#0098ff"/><stop offset="1" stop-color="#0fbcdb"/></linearGradient><linearGradient id="b94" gradientUnits="userSpaceOnUse" x1="136.2" y1="330.2" x2="131" y2="318.8"><stop offset="0" stop-color="#ff8900"/><stop offset="0.173" stop-color="#ff6f00"/><stop offset="0.981" stop-color="#ff0000"/><stop offset="1" stop-color="#ff0000"/></linearGradient><linearGradient id="b95" gradientUnits="userSpaceOnUse" x1="101.6" y1="379.3" x2="99.7" y2="375.7"><stop offset="0" stop-color="#0fbcdb"/><stop offset="0.864" stop-color="#2cff96"/><stop offset="1" stop-color="#37ff87"/></linearGradient><linearGradient id="b96" gradientUnits="userSpaceOnUse" x1="214" y1="363.4" x2="204.4" y2="347.5"><stop offset="0" stop-color="#b0fa00"/><stop offset="0.674" stop-color="#ffea00"/><stop offset="1" stop-color="#ffbd00"/></linearGradient><linearGradient id="b97" gradientUnits="userSpaceOnUse" x1="183.2" y1="338.7" x2="182.9" y2="338.2"><stop offset="0" stop-color="#ffad00"/><stop offset="1" stop-color="#ff7300"/></linearGradient><linearGradient id="b98" gradientUnits="userSpaceOnUse" x1="122.1" y1="336.7" x2="122.1" y2="336.8"><stop offset="0" stop-color="#ffb400"/><stop offset="1" stop-color="#ff8900"/></linearGradient><linearGradient id="b99" gradientUnits="userSpaceOnUse" x1="116.6" y1="367" x2="105.6" y2="344.7"><stop offset="0" stop-color="#37ff87"/><stop offset="0.384" stop-color="#97ff00"/><stop offset="0.813" stop-color="#ffea00"/><stop offset="1" stop-color="#ffb400"/></linearGradient><linearGradient id="b100" gradientUnits="userSpaceOnUse" x1="221.2" y1="385.4" x2="221.7" y2="386.2"><stop offset="0" stop-color="#1bd7bf"/><stop offset="0.752" stop-color="#2cff96"/><stop offset="1" stop-color="#3aff83"/></linearGradient><linearGradient id="b101" gradientUnits="userSpaceOnUse" x1="171.4" y1="344.8" x2="171.5" y2="345"><stop offset="0" stop-color="#ffde00"/><stop offset="1" stop-color="#ffad00"/></linearGradient><linearGradient id="b102" gradientUnits="userSpaceOnUse" x1="68.4" y1="422.5" x2="65" y2="416.5"><stop offset="0" stop-color="#91005d"/><stop offset="0.879" stop-color="#0000c8"/><stop offset="1" stop-color="#0003cf"/></linearGradient><linearGradient id="b103" gradientUnits="userSpaceOnUse" x1="205.1" y1="347.1" x2="196.2" y2="331.1"><stop offset="0" stop-color="#ffbd00"/><stop offset="0.613" stop-color="#ff6f00"/><stop offset="1" stop-color="#ff4300"/></linearGradient><linearGradient id="b104" gradientUnits="userSpaceOnUse" x1="77.5" y1="409.6" x2="74.2" y2="403.7"><stop offset="0" stop-color="#0003cf"/><stop offset="0.832" stop-color="#0019ff"/><stop offset="1" stop-color="#002fff"/></linearGradient><linearGradient id="b105" gradientUnits="userSpaceOnUse" x1="218.5" y1="387.4" x2="206.1" y2="368.5"><stop offset="0" stop-color="#1bd7bf"/><stop offset="0.241" stop-color="#2cff96"/><stop offset="0.855" stop-color="#97ff00"/><stop offset="1" stop-color="#b0fa00"/></linearGradient><linearGradient id="b106" gradientUnits="userSpaceOnUse" x1="156.3" y1="347.2" x2="144" y2="322.3"><stop offset="0" stop-color="#ffe000"/><stop offset="0.542" stop-color="#ff6f00"/><stop offset="1" stop-color="#ff1900"/></linearGradient><linearGradient id="b107" gradientUnits="userSpaceOnUse" x1="87.4" y1="396.6" x2="83.3" y2="389"><stop offset="0" stop-color="#002fff"/><stop offset="0.704" stop-color="#0098ff"/><stop offset="1" stop-color="#0fbcdb"/></linearGradient><linearGradient id="b108" gradientUnits="userSpaceOnUse" x1="190.2" y1="334.4" x2="190.2" y2="334.3"><stop offset="0" stop-color="#ff7300"/><stop offset="0.073" stop-color="#ff6f00"/><stop offset="1" stop-color="#ff4300"/></linearGradient><linearGradient id="b109" gradientUnits="userSpaceOnUse" x1="233.9" y1="415.7" x2="215.6" y2="390.8"><stop offset="0" stop-color="#0009db"/><stop offset="0.236" stop-color="#0019ff"/><stop offset="0.595" stop-color="#0098ff"/><stop offset="0.954" stop-color="#2cff96"/><stop offset="1" stop-color="#3aff83"/></linearGradient><linearGradient id="b110" gradientUnits="userSpaceOnUse" x1="96.3" y1="382.1" x2="94.4" y2="378.4"><stop offset="0" stop-color="#0fbcdb"/><stop offset="0.864" stop-color="#2cff96"/><stop offset="1" stop-color="#37ff87"/></linearGradient><linearGradient id="b111" gradientUnits="userSpaceOnUse" x1="130.8" y1="332.7" x2="125.5" y2="321.2"><stop offset="0" stop-color="#ff8900"/><stop offset="0.173" stop-color="#ff6f00"/><stop offset="0.981" stop-color="#ff0000"/><stop offset="1" stop-color="#ff0000"/></linearGradient><linearGradient id="b112" gradientUnits="userSpaceOnUse" x1="111.3" y1="369.8" x2="100.1" y2="347.2"><stop offset="0" stop-color="#37ff87"/><stop offset="0.384" stop-color="#97ff00"/><stop offset="0.813" stop-color="#ffea00"/><stop offset="1" stop-color="#ffb400"/></linearGradient><linearGradient id="b113" gradientUnits="userSpaceOnUse" x1="116.7" y1="339.2" x2="116.7" y2="339.3"><stop offset="0" stop-color="#ffb400"/><stop offset="1" stop-color="#ff8900"/></linearGradient><linearGradient id="b114" gradientUnits="userSpaceOnUse" x1="178.4" y1="341.3" x2="178.1" y2="340.8"><stop offset="0" stop-color="#ffad00"/><stop offset="1" stop-color="#ff7300"/></linearGradient><linearGradient id="b115" gradientUnits="userSpaceOnUse" x1="209.5" y1="366.2" x2="199.8" y2="350.2"><stop offset="0" stop-color="#b0fa00"/><stop offset="0.674" stop-color="#ffea00"/><stop offset="1" stop-color="#ffbd00"/></linearGradient><linearGradient id="b116" gradientUnits="userSpaceOnUse" x1="63.1" y1="425.5" x2="59.7" y2="419.5"><stop offset="0" stop-color="#91005d"/><stop offset="0.879" stop-color="#0000c8"/><stop offset="1" stop-color="#0003cf"/></linearGradient><linearGradient id="b117" gradientUnits="userSpaceOnUse" x1="216.9" y1="388.3" x2="217.5" y2="389.1"><stop offset="0" stop-color="#1bd7bf"/><stop offset="0.752" stop-color="#2cff96"/><stop offset="1" stop-color="#3aff83"/></linearGradient><linearGradient id="b118" gradientUnits="userSpaceOnUse" x1="166.4" y1="347.4" x2="166.6" y2="347.7"><stop offset="0" stop-color="#ffde00"/><stop offset="1" stop-color="#ffad00"/></linearGradient><linearGradient id="b119" gradientUnits="userSpaceOnUse" x1="72.1" y1="412.5" x2="68.9" y2="406.7"><stop offset="0" stop-color="#0003cf"/><stop offset="0.832" stop-color="#0019ff"/><stop offset="1" stop-color="#002fff"/></linearGradient><linearGradient id="b120" gradientUnits="userSpaceOnUse" x1="200.4" y1="349.8" x2="191.4" y2="333.7"><stop offset="0" stop-color="#ffbd00"/><stop offset="0.613" stop-color="#ff6f00"/><stop offset="1" stop-color="#ff4300"/></linearGradient><linearGradient id="b121" gradientUnits="userSpaceOnUse" x1="82" y1="399.5" x2="77.9" y2="391.8"><stop offset="0" stop-color="#002fff"/><stop offset="0.704" stop-color="#0098ff"/><stop offset="1" stop-color="#0fbcdb"/></linearGradient><linearGradient id="b122" gradientUnits="userSpaceOnUse" x1="151.1" y1="349.9" x2="138.7" y2="324.7"><stop offset="0" stop-color="#ffe000"/><stop offset="0.542" stop-color="#ff6f00"/><stop offset="1" stop-color="#ff1900"/></linearGradient><linearGradient id="b123" gradientUnits="userSpaceOnUse" x1="90.9" y1="384.9" x2="88.9" y2="381.3"><stop offset="0" stop-color="#0fbcdb"/><stop offset="0.864" stop-color="#2cff96"/><stop offset="1" stop-color="#37ff87"/></linearGradient><linearGradient id="b124" gradientUnits="userSpaceOnUse" x1="214.1" y1="390.4" x2="201.6" y2="371.3"><stop offset="0" stop-color="#1bd7bf"/><stop offset="0.241" stop-color="#2cff96"/><stop offset="0.855" stop-color="#97ff00"/><stop offset="1" stop-color="#b0fa00"/></linearGradient><linearGradient id="b125" gradientUnits="userSpaceOnUse" x1="185.3" y1="337" x2="185.3" y2="336.9"><stop offset="0" stop-color="#ff7300"/><stop offset="0.073" stop-color="#ff6f00"/><stop offset="1" stop-color="#ff4300"/></linearGradient><linearGradient id="b126" gradientUnits="userSpaceOnUse" x1="105.9" y1="372.6" x2="94.6" y2="349.8"><stop offset="0" stop-color="#37ff87"/><stop offset="0.384" stop-color="#97ff00"/><stop offset="0.813" stop-color="#ffea00"/><stop offset="1" stop-color="#ffb400"/></linearGradient><linearGradient id="b127" gradientUnits="userSpaceOnUse" x1="125.3" y1="335.3" x2="120" y2="323.7"><stop offset="0" stop-color="#ff8900"/><stop offset="0.173" stop-color="#ff6f00"/><stop offset="0.981" stop-color="#ff0000"/><stop offset="1" stop-color="#ff0000"/></linearGradient><linearGradient id="b128" gradientUnits="userSpaceOnUse" x1="111.1" y1="341.8" x2="111.2" y2="341.9"><stop offset="0" stop-color="#ffb400"/><stop offset="1" stop-color="#ff8900"/></linearGradient><linearGradient id="b129" gradientUnits="userSpaceOnUse" x1="57.7" y1="428.6" x2="54.3" y2="422.5"><stop offset="0" stop-color="#91005d"/><stop offset="0.879" stop-color="#0000c8"/><stop offset="1" stop-color="#0003cf"/></linearGradient><linearGradient id="b130" gradientUnits="userSpaceOnUse" x1="229.8" y1="418.8" x2="211.4" y2="393.7"><stop offset="0" stop-color="#0009db"/><stop offset="0.236" stop-color="#0019ff"/><stop offset="0.595" stop-color="#0098ff"/><stop offset="0.954" stop-color="#2cff96"/><stop offset="1" stop-color="#3aff83"/></linearGradient><linearGradient id="b131" gradientUnits="userSpaceOnUse" x1="173.4" y1="344" x2="173.1" y2="343.5"><stop offset="0" stop-color="#ffad00"/><stop offset="1" stop-color="#ff7300"/></linearGradient><linearGradient id="b132" gradientUnits="userSpaceOnUse" x1="66.7" y1="415.6" x2="63.4" y2="409.7"><stop offset="0" stop-color="#0003cf"/><stop offset="0.832" stop-color="#0019ff"/><stop offset="1" stop-color="#002fff"/></linearGradient><linearGradient id="b133" gradientUnits="userSpaceOnUse" x1="205" y1="369.1" x2="195.2" y2="352.9"><stop offset="0" stop-color="#b0fa00"/><stop offset="0.674" stop-color="#ffea00"/><stop offset="1" stop-color="#ffbd00"/></linearGradient><linearGradient id="b134" gradientUnits="userSpaceOnUse" x1="161.4" y1="350.1" x2="161.5" y2="350.3"><stop offset="0" stop-color="#ffde00"/><stop offset="1" stop-color="#ffad00"/></linearGradient><linearGradient id="b135" gradientUnits="userSpaceOnUse" x1="76.6" y1="402.5" x2="72.4" y2="394.8"><stop offset="0" stop-color="#002fff"/><stop offset="0.704" stop-color="#0098ff"/><stop offset="1" stop-color="#0fbcdb"/></linearGradient><linearGradient id="b136" gradientUnits="userSpaceOnUse" x1="212.6" y1="391.2" x2="213.2" y2="392.1"><stop offset="0" stop-color="#1bd7bf"/><stop offset="0.752" stop-color="#2cff96"/><stop offset="1" stop-color="#3aff83"/></linearGradient><linearGradient id="b137" gradientUnits="userSpaceOnUse" x1="195.7" y1="352.6" x2="186.6" y2="336.3"><stop offset="0" stop-color="#ffbd00"/><stop offset="0.613" stop-color="#ff6f00"/><stop offset="1" stop-color="#ff4300"/></linearGradient><linearGradient id="b138" gradientUnits="userSpaceOnUse" x1="85.4" y1="387.8" x2="83.4" y2="384.1"><stop offset="0" stop-color="#0fbcdb"/><stop offset="0.864" stop-color="#2cff96"/><stop offset="1" stop-color="#37ff87"/></linearGradient><linearGradient id="b139" gradientUnits="userSpaceOnUse" x1="145.8" y1="352.7" x2="133.3" y2="327.2"><stop offset="0" stop-color="#ffe000"/><stop offset="0.542" stop-color="#ff6f00"/><stop offset="1" stop-color="#ff1900"/></linearGradient><linearGradient id="b140" gradientUnits="userSpaceOnUse" x1="52.2" y1="431.7" x2="48.8" y2="425.6"><stop offset="0" stop-color="#91005d"/><stop offset="0.879" stop-color="#0000c8"/><stop offset="1" stop-color="#0003cf"/></linearGradient><linearGradient id="b141" gradientUnits="userSpaceOnUse" x1="100.3" y1="375.5" x2="88.9" y2="352.5"><stop offset="0" stop-color="#37ff87"/><stop offset="0.384" stop-color="#97ff00"/><stop offset="0.813" stop-color="#ffea00"/><stop offset="1" stop-color="#ffb400"/></linearGradient><linearGradient id="b142" gradientUnits="userSpaceOnUse" x1="105.5" y1="344.5" x2="105.5" y2="344.6"><stop offset="0" stop-color="#ffb400"/><stop offset="1" stop-color="#ff8900"/></linearGradient><linearGradient id="b143" gradientUnits="userSpaceOnUse" x1="119.7" y1="338" x2="114.3" y2="326.2"><stop offset="0" stop-color="#ff8900"/><stop offset="0.173" stop-color="#ff6f00"/><stop offset="0.981" stop-color="#ff0000"/><stop offset="1" stop-color="#ff0000"/></linearGradient><linearGradient id="b144" gradientUnits="userSpaceOnUse" x1="180.4" y1="339.6" x2="180.3" y2="339.5"><stop offset="0" stop-color="#ff7300"/><stop offset="0.073" stop-color="#ff6f00"/><stop offset="1" stop-color="#ff4300"/></linearGradient><linearGradient id="b145" gradientUnits="userSpaceOnUse" x1="209.7" y1="393.4" x2="197.1" y2="374.1"><stop offset="0" stop-color="#1bd7bf"/><stop offset="0.241" stop-color="#2cff96"/><stop offset="0.855" stop-color="#97ff00"/><stop offset="1" stop-color="#b0fa00"/></linearGradient><linearGradient id="b146" gradientUnits="userSpaceOnUse" x1="61.2" y1="418.7" x2="57.8" y2="412.7"><stop offset="0" stop-color="#0003cf"/><stop offset="0.832" stop-color="#0019ff"/><stop offset="1" stop-color="#002fff"/></linearGradient><linearGradient id="b147" gradientUnits="userSpaceOnUse" x1="210.5" y1="425.6" x2="220.7" y2="391.9"><stop offset="0" stop-color="#0009db"/><stop offset="0.236" stop-color="#0019ff"/><stop offset="0.595" stop-color="#0098ff"/><stop offset="0.954" stop-color="#2cff96"/><stop offset="1" stop-color="#3aff83"/></linearGradient><linearGradient id="b148" gradientUnits="userSpaceOnUse" x1="168.4" y1="346.7" x2="168.1" y2="346.2"><stop offset="0" stop-color="#ffad00"/><stop offset="1" stop-color="#ff7300"/></linearGradient><linearGradient id="b149" gradientUnits="userSpaceOnUse" x1="71" y1="405.5" x2="66.8" y2="397.7"><stop offset="0" stop-color="#002fff"/><stop offset="0.704" stop-color="#0098ff"/><stop offset="1" stop-color="#0fbcdb"/></linearGradient><linearGradient id="b150" gradientUnits="userSpaceOnUse" x1="200.3" y1="372" x2="190.4" y2="355.6"><stop offset="0" stop-color="#b0fa00"/><stop offset="0.674" stop-color="#ffea00"/><stop offset="1" stop-color="#ffbd00"/></linearGradient><linearGradient id="b151" gradientUnits="userSpaceOnUse" x1="156.3" y1="352.9" x2="156.4" y2="353.1"><stop offset="0" stop-color="#ffde00"/><stop offset="1" stop-color="#ffad00"/></linearGradient><linearGradient id="b152" gradientUnits="userSpaceOnUse" x1="79.8" y1="390.8" x2="77.8" y2="387.1"><stop offset="0" stop-color="#0fbcdb"/><stop offset="0.864" stop-color="#2cff96"/><stop offset="1" stop-color="#37ff87"/></linearGradient><linearGradient id="b153" gradientUnits="userSpaceOnUse" x1="208.2" y1="394.3" x2="208.8" y2="395.1"><stop offset="0" stop-color="#1bd7bf"/><stop offset="0.752" stop-color="#2cff96"/><stop offset="1" stop-color="#3aff83"/></linearGradient><linearGradient id="b154" gradientUnits="userSpaceOnUse" x1="94.7" y1="378.5" x2="83.2" y2="355.2"><stop offset="0" stop-color="#37ff87"/><stop offset="0.384" stop-color="#97ff00"/><stop offset="0.813" stop-color="#ffea00"/><stop offset="1" stop-color="#ffb400"/></linearGradient><linearGradient id="b155" gradientUnits="userSpaceOnUse" x1="190.8" y1="355.4" x2="181.6" y2="338.9"><stop offset="0" stop-color="#ffbd00"/><stop offset="0.613" stop-color="#ff6f00"/><stop offset="1" stop-color="#ff4300"/></linearGradient><linearGradient id="b156" gradientUnits="userSpaceOnUse" x1="140.5" y1="355.5" x2="127.8" y2="329.8"><stop offset="0" stop-color="#ffe000"/><stop offset="0.542" stop-color="#ff6f00"/><stop offset="1" stop-color="#ff1900"/></linearGradient><linearGradient id="b157" gradientUnits="userSpaceOnUse" x1="99.7" y1="347.2" x2="99.8" y2="347.3"><stop offset="0" stop-color="#ffb400"/><stop offset="1" stop-color="#ff8900"/></linearGradient><linearGradient id="b158" gradientUnits="userSpaceOnUse" x1="114" y1="340.7" x2="108.6" y2="328.8"><stop offset="0" stop-color="#ff8900"/><stop offset="0.173" stop-color="#ff6f00"/><stop offset="0.981" stop-color="#ff0000"/><stop offset="1" stop-color="#ff0000"/></linearGradient><linearGradient id="b159" gradientUnits="userSpaceOnUse" x1="55.5" y1="421.8" x2="52.2" y2="415.8"><stop offset="0" stop-color="#0003cf"/><stop offset="0.832" stop-color="#0019ff"/><stop offset="1" stop-color="#002fff"/></linearGradient><linearGradient id="b160" gradientUnits="userSpaceOnUse" x1="175.3" y1="342.3" x2="175.2" y2="342.3"><stop offset="0" stop-color="#ff7300"/><stop offset="0.073" stop-color="#ff6f00"/><stop offset="1" stop-color="#ff4300"/></linearGradient><linearGradient id="b161" gradientUnits="userSpaceOnUse" x1="205.2" y1="396.5" x2="192.4" y2="377"><stop offset="0" stop-color="#1bd7bf"/><stop offset="0.241" stop-color="#2cff96"/><stop offset="0.855" stop-color="#97ff00"/><stop offset="1" stop-color="#b0fa00"/></linearGradient><linearGradient id="b162" gradientUnits="userSpaceOnUse" x1="65.3" y1="408.6" x2="61.1" y2="400.8"><stop offset="0" stop-color="#002fff"/><stop offset="0.704" stop-color="#0098ff"/><stop offset="1" stop-color="#0fbcdb"/></linearGradient><linearGradient id="b163" gradientUnits="userSpaceOnUse" x1="163.2" y1="349.4" x2="162.9" y2="348.9"><stop offset="0" stop-color="#ffad00"/><stop offset="1" stop-color="#ff7300"/></linearGradient><linearGradient id="b164" gradientUnits="userSpaceOnUse" x1="74.1" y1="393.8" x2="72.1" y2="390.1"><stop offset="0" stop-color="#0fbcdb"/><stop offset="0.864" stop-color="#2cff96"/><stop offset="1" stop-color="#37ff87"/></linearGradient><linearGradient id="b165" gradientUnits="userSpaceOnUse" x1="195.6" y1="375" x2="185.6" y2="358.4"><stop offset="0" stop-color="#b0fa00"/><stop offset="0.674" stop-color="#ffea00"/><stop offset="1" stop-color="#ffbd00"/></linearGradient><linearGradient id="b166" gradientUnits="userSpaceOnUse" x1="151.1" y1="355.6" x2="151.2" y2="355.9"><stop offset="0" stop-color="#ffde00"/><stop offset="1" stop-color="#ffad00"/></linearGradient><linearGradient id="b167" gradientUnits="userSpaceOnUse" x1="88.9" y1="381.5" x2="77.3" y2="358"><stop offset="0" stop-color="#37ff87"/><stop offset="0.384" stop-color="#97ff00"/><stop offset="0.813" stop-color="#ffea00"/><stop offset="1" stop-color="#ffb400"/></linearGradient><linearGradient id="b168" gradientUnits="userSpaceOnUse" x1="93.8" y1="350" x2="93.9" y2="350.1"><stop offset="0" stop-color="#ffb400"/><stop offset="1" stop-color="#ff8900"/></linearGradient><linearGradient id="b169" gradientUnits="userSpaceOnUse" x1="135" y1="358.3" x2="122.2" y2="332.4"><stop offset="0" stop-color="#ffe000"/><stop offset="0.542" stop-color="#ff6f00"/><stop offset="1" stop-color="#ff1900"/></linearGradient><linearGradient id="b170" gradientUnits="userSpaceOnUse" x1="108.2" y1="343.4" x2="102.7" y2="331.4"><stop offset="0" stop-color="#ff8900"/><stop offset="0.173" stop-color="#ff6f00"/><stop offset="0.981" stop-color="#ff0000"/><stop offset="1" stop-color="#ff0000"/></linearGradient><linearGradient id="b171" gradientUnits="userSpaceOnUse" x1="203.7" y1="397.4" x2="204.3" y2="398.2"><stop offset="0" stop-color="#1bd7bf"/><stop offset="0.752" stop-color="#2cff96"/><stop offset="1" stop-color="#3aff83"/></linearGradient><linearGradient id="b172" gradientUnits="userSpaceOnUse" x1="185.8" y1="358.3" x2="176.5" y2="341.6"><stop offset="0" stop-color="#ffbd00"/><stop offset="0.613" stop-color="#ff6f00"/><stop offset="1" stop-color="#ff4300"/></linearGradient><linearGradient id="b173" gradientUnits="userSpaceOnUse" x1="59.5" y1="411.8" x2="55.2" y2="403.8"><stop offset="0" stop-color="#002fff"/><stop offset="0.704" stop-color="#0098ff"/><stop offset="1" stop-color="#0fbcdb"/></linearGradient><linearGradient id="b174" gradientUnits="userSpaceOnUse" x1="170.1" y1="345.1" x2="170.1" y2="345"><stop offset="0" stop-color="#ff7300"/><stop offset="0.073" stop-color="#ff6f00"/><stop offset="1" stop-color="#ff4300"/></linearGradient><linearGradient id="b175" gradientUnits="userSpaceOnUse" x1="68.3" y1="396.9" x2="66.3" y2="393.1"><stop offset="0" stop-color="#0fbcdb"/><stop offset="0.864" stop-color="#2cff96"/><stop offset="1" stop-color="#37ff87"/></linearGradient><linearGradient id="b176" gradientUnits="userSpaceOnUse" x1="200.6" y1="399.6" x2="187.7" y2="380"><stop offset="0" stop-color="#1bd7bf"/><stop offset="0.241" stop-color="#2cff96"/><stop offset="0.855" stop-color="#97ff00"/><stop offset="1" stop-color="#b0fa00"/></linearGradient><linearGradient id="b177" gradientUnits="userSpaceOnUse" x1="158" y1="352.3" x2="157.7" y2="351.7"><stop offset="0" stop-color="#ffad00"/><stop offset="1" stop-color="#ff7300"/></linearGradient><linearGradient id="b178" gradientUnits="userSpaceOnUse" x1="83" y1="384.5" x2="71.3" y2="360.8"><stop offset="0" stop-color="#37ff87"/><stop offset="0.384" stop-color="#97ff00"/><stop offset="0.813" stop-color="#ffea00"/><stop offset="1" stop-color="#ffb400"/></linearGradient><linearGradient id="b179" gradientUnits="userSpaceOnUse" x1="145.7" y1="358.5" x2="145.9" y2="358.7"><stop offset="0" stop-color="#ffde00"/><stop offset="1" stop-color="#ffad00"/></linearGradient><linearGradient id="b180" gradientUnits="userSpaceOnUse" x1="87.8" y1="352.8" x2="87.9" y2="352.9"><stop offset="0" stop-color="#ffb400"/><stop offset="1" stop-color="#ff8900"/></linearGradient><linearGradient id="b181" gradientUnits="userSpaceOnUse" x1="190.7" y1="378" x2="180.6" y2="361.3"><stop offset="0" stop-color="#b0fa00"/><stop offset="0.674" stop-color="#ffea00"/><stop offset="1" stop-color="#ffbd00"/></linearGradient><linearGradient id="b182" gradientUnits="userSpaceOnUse" x1="102.2" y1="346.2" x2="96.6" y2="334.1"><stop offset="0" stop-color="#ff8900"/><stop offset="0.173" stop-color="#ff6f00"/><stop offset="0.981" stop-color="#ff0000"/><stop offset="1" stop-color="#ff0000"/></linearGradient><linearGradient id="b183" gradientUnits="userSpaceOnUse" x1="129.4" y1="361.3" x2="116.5" y2="335"><stop offset="0" stop-color="#ffe000"/><stop offset="0.542" stop-color="#ff6f00"/><stop offset="1" stop-color="#ff1900"/></linearGradient><linearGradient id="b184" gradientUnits="userSpaceOnUse" x1="180.7" y1="361.2" x2="171.4" y2="344.4"><stop offset="0" stop-color="#ffbd00"/><stop offset="0.613" stop-color="#ff6f00"/><stop offset="1" stop-color="#ff4300"/></linearGradient><linearGradient id="b185" gradientUnits="userSpaceOnUse" x1="199.1" y1="400.5" x2="199.7" y2="401.4"><stop offset="0" stop-color="#1bd7bf"/><stop offset="0.752" stop-color="#2cff96"/><stop offset="1" stop-color="#3aff83"/></linearGradient><linearGradient id="b186" gradientUnits="userSpaceOnUse" x1="62.3" y1="400.1" x2="60.3" y2="396.2"><stop offset="0" stop-color="#0fbcdb"/><stop offset="0.864" stop-color="#2cff96"/><stop offset="1" stop-color="#37ff87"/></linearGradient><linearGradient id="b187" gradientUnits="userSpaceOnUse" x1="164.8" y1="347.9" x2="164.8" y2="347.8"><stop offset="0" stop-color="#ff7300"/><stop offset="0.073" stop-color="#ff6f00"/><stop offset="1" stop-color="#ff4300"/></linearGradient><linearGradient id="b188" gradientUnits="userSpaceOnUse" x1="77" y1="387.7" x2="65.2" y2="363.7"><stop offset="0" stop-color="#37ff87"/><stop offset="0.384" stop-color="#97ff00"/><stop offset="0.813" stop-color="#ffea00"/><stop offset="1" stop-color="#ffb400"/></linearGradient><linearGradient id="b189" gradientUnits="userSpaceOnUse" x1="196" y1="402.8" x2="182.9" y2="383"><stop offset="0" stop-color="#1bd7bf"/><stop offset="0.241" stop-color="#2cff96"/><stop offset="0.855" stop-color="#97ff00"/><stop offset="1" stop-color="#b0fa00"/></linearGradient><linearGradient id="b190" gradientUnits="userSpaceOnUse" x1="152.6" y1="355.1" x2="152.3" y2="354.6"><stop offset="0" stop-color="#ffad00"/><stop offset="1" stop-color="#ff7300"/></linearGradient><linearGradient id="b191" gradientUnits="userSpaceOnUse" x1="81.7" y1="355.7" x2="81.7" y2="355.8"><stop offset="0" stop-color="#ffb400"/><stop offset="1" stop-color="#ff8900"/></linearGradient><linearGradient id="b192" gradientUnits="userSpaceOnUse" x1="140.3" y1="361.4" x2="140.4" y2="361.7"><stop offset="0" stop-color="#ffde00"/><stop offset="1" stop-color="#ffad00"/></linearGradient><linearGradient id="b193" gradientUnits="userSpaceOnUse" x1="96.1" y1="349.1" x2="90.5" y2="336.8"><stop offset="0" stop-color="#ff8900"/><stop offset="0.173" stop-color="#ff6f00"/><stop offset="0.981" stop-color="#ff0000"/><stop offset="1" stop-color="#ff0000"/></linearGradient><linearGradient id="b194" gradientUnits="userSpaceOnUse" x1="123.7" y1="364.3" x2="110.6" y2="337.7"><stop offset="0" stop-color="#ffe000"/><stop offset="0.542" stop-color="#ff6f00"/><stop offset="1" stop-color="#ff1900"/></linearGradient><linearGradient id="b195" gradientUnits="userSpaceOnUse" x1="185.8" y1="381.1" x2="175.6" y2="364.2"><stop offset="0" stop-color="#b0fa00"/><stop offset="0.674" stop-color="#ffea00"/><stop offset="1" stop-color="#ffbd00"/></linearGradient><linearGradient id="b196" gradientUnits="userSpaceOnUse" x1="175.5" y1="364.2" x2="166.1" y2="347.2"><stop offset="0" stop-color="#ffbd00"/><stop offset="0.613" stop-color="#ff6f00"/><stop offset="1" stop-color="#ff4300"/></linearGradient><linearGradient id="b197" gradientUnits="userSpaceOnUse" x1="194.5" y1="403.7" x2="195" y2="404.6"><stop offset="0" stop-color="#1bd7bf"/><stop offset="0.752" stop-color="#2cff96"/><stop offset="1" stop-color="#3aff83"/></linearGradient><linearGradient id="b198" gradientUnits="userSpaceOnUse" x1="70.9" y1="390.9" x2="58.9" y2="366.6"><stop offset="0" stop-color="#37ff87"/><stop offset="0.384" stop-color="#97ff00"/><stop offset="0.813" stop-color="#ffea00"/><stop offset="1" stop-color="#ffb400"/></linearGradient><linearGradient id="b199" gradientUnits="userSpaceOnUse" x1="159.4" y1="350.8" x2="159.4" y2="350.7"><stop offset="0" stop-color="#ff7300"/><stop offset="0.073" stop-color="#ff6f00"/><stop offset="1" stop-color="#ff4300"/></linearGradient><linearGradient id="b200" gradientUnits="userSpaceOnUse" x1="75.4" y1="358.7" x2="75.5" y2="358.8"><stop offset="0" stop-color="#ffb400"/><stop offset="1" stop-color="#ff8900"/></linearGradient><linearGradient id="b201" gradientUnits="userSpaceOnUse" x1="147.1" y1="358.1" x2="146.8" y2="357.5"><stop offset="0" stop-color="#ffad00"/><stop offset="1" stop-color="#ff7300"/></linearGradient><linearGradient id="b202" gradientUnits="userSpaceOnUse" x1="191.2" y1="406.1" x2="178" y2="386.1"><stop offset="0" stop-color="#1bd7bf"/><stop offset="0.241" stop-color="#2cff96"/><stop offset="0.855" stop-color="#97ff00"/><stop offset="1" stop-color="#b0fa00"/></linearGradient><linearGradient id="b203" gradientUnits="userSpaceOnUse" x1="89.9" y1="352.1" x2="84.2" y2="339.7"><stop offset="0" stop-color="#ff8900"/><stop offset="0.173" stop-color="#ff6f00"/><stop offset="0.981" stop-color="#ff0000"/><stop offset="1" stop-color="#ff0000"/></linearGradient><linearGradient id="b204" gradientUnits="userSpaceOnUse" x1="134.7" y1="364.4" x2="134.9" y2="364.6"><stop offset="0" stop-color="#ffde00"/><stop offset="1" stop-color="#ffad00"/></linearGradient><linearGradient id="b205" gradientUnits="userSpaceOnUse" x1="117.8" y1="367.3" x2="104.6" y2="340.5"><stop offset="0" stop-color="#ffe000"/><stop offset="0.542" stop-color="#ff6f00"/><stop offset="1" stop-color="#ff1900"/></linearGradient><linearGradient id="b206" gradientUnits="userSpaceOnUse" x1="180.7" y1="384.3" x2="170.4" y2="367.2"><stop offset="0" stop-color="#b0fa00"/><stop offset="0.674" stop-color="#ffea00"/><stop offset="1" stop-color="#ffbd00"/></linearGradient><linearGradient id="b207" gradientUnits="userSpaceOnUse" x1="170.2" y1="367.3" x2="160.6" y2="350.1"><stop offset="0" stop-color="#ffbd00"/><stop offset="0.613" stop-color="#ff6f00"/><stop offset="1" stop-color="#ff4300"/></linearGradient><linearGradient id="b208" gradientUnits="userSpaceOnUse" x1="69" y1="361.7" x2="69.1" y2="361.8"><stop offset="0" stop-color="#ffb400"/><stop offset="1" stop-color="#ff8900"/></linearGradient><linearGradient id="b209" gradientUnits="userSpaceOnUse" x1="189.7" y1="407" x2="190.3" y2="407.9"><stop offset="0" stop-color="#1bd7bf"/><stop offset="0.752" stop-color="#2cff96"/><stop offset="1" stop-color="#3aff83"/></linearGradient><linearGradient id="b210" gradientUnits="userSpaceOnUse" x1="153.9" y1="353.8" x2="153.8" y2="353.7"><stop offset="0" stop-color="#ff7300"/><stop offset="0.073" stop-color="#ff6f00"/><stop offset="1" stop-color="#ff4300"/></linearGradient><linearGradient id="b211" gradientUnits="userSpaceOnUse" x1="83.5" y1="355.1" x2="77.7" y2="342.5"><stop offset="0" stop-color="#ff8900"/><stop offset="0.173" stop-color="#ff6f00"/><stop offset="0.981" stop-color="#ff0000"/><stop offset="1" stop-color="#ff0000"/></linearGradient><linearGradient id="b212" gradientUnits="userSpaceOnUse" x1="141.5" y1="361.1" x2="141.2" y2="360.5"><stop offset="0" stop-color="#ffad00"/><stop offset="1" stop-color="#ff7300"/></linearGradient><linearGradient id="b213" gradientUnits="userSpaceOnUse" x1="129" y1="367.4" x2="129.2" y2="367.7"><stop offset="0" stop-color="#ffde00"/><stop offset="1" stop-color="#ffad00"/></linearGradient><linearGradient id="b214" gradientUnits="userSpaceOnUse" x1="111.8" y1="370.5" x2="98.5" y2="343.3"><stop offset="0" stop-color="#ffe000"/><stop offset="0.542" stop-color="#ff6f00"/><stop offset="1" stop-color="#ff1900"/></linearGradient><linearGradient id="b215" gradientUnits="userSpaceOnUse" x1="186.3" y1="409.5" x2="173" y2="389.2"><stop offset="0" stop-color="#1bd7bf"/><stop offset="0.241" stop-color="#2cff96"/><stop offset="0.855" stop-color="#97ff00"/><stop offset="1" stop-color="#b0fa00"/></linearGradient><linearGradient id="b216" gradientUnits="userSpaceOnUse" x1="175.5" y1="387.5" x2="165.1" y2="370.3"><stop offset="0" stop-color="#b0fa00"/><stop offset="0.674" stop-color="#ffea00"/><stop offset="1" stop-color="#ffbd00"/></linearGradient><linearGradient id="b217" gradientUnits="userSpaceOnUse" x1="164.8" y1="370.5" x2="155.1" y2="353"><stop offset="0" stop-color="#ffbd00"/><stop offset="0.613" stop-color="#ff6f00"/><stop offset="1" stop-color="#ff4300"/></linearGradient><linearGradient id="b218" gradientUnits="userSpaceOnUse" x1="77" y1="357.9" x2="71" y2="346"><stop offset="0" stop-color="#ff8900"/><stop offset="0.173" stop-color="#ff6f00"/><stop offset="0.981" stop-color="#ff0000"/><stop offset="1" stop-color="#ff0000"/></linearGradient><linearGradient id="b219" gradientUnits="userSpaceOnUse" x1="148.2" y1="356.8" x2="148.2" y2="356.7"><stop offset="0" stop-color="#ff7300"/><stop offset="0.073" stop-color="#ff6f00"/><stop offset="1" stop-color="#ff4300"/></linearGradient><linearGradient id="b220" gradientUnits="userSpaceOnUse" x1="184.8" y1="410.3" x2="185.4" y2="411.2"><stop offset="0" stop-color="#1bd7bf"/><stop offset="0.752" stop-color="#2cff96"/><stop offset="1" stop-color="#3aff83"/></linearGradient><linearGradient id="b221" gradientUnits="userSpaceOnUse" x1="135.8" y1="364.2" x2="135.5" y2="363.6"><stop offset="0" stop-color="#ffad00"/><stop offset="1" stop-color="#ff7300"/></linearGradient><linearGradient id="b222" gradientUnits="userSpaceOnUse" x1="105.7" y1="373.7" x2="92.2" y2="346.2"><stop offset="0" stop-color="#ffe000"/><stop offset="0.542" stop-color="#ff6f00"/><stop offset="1" stop-color="#ff1900"/></linearGradient><linearGradient id="b223" gradientUnits="userSpaceOnUse" x1="123.2" y1="370.5" x2="123.4" y2="370.8"><stop offset="0" stop-color="#ffde00"/><stop offset="1" stop-color="#ffad00"/></linearGradient><linearGradient id="b224" gradientUnits="userSpaceOnUse" x1="181.3" y1="412.9" x2="167.9" y2="392.4"><stop offset="0" stop-color="#1bd7bf"/><stop offset="0.241" stop-color="#2cff96"/><stop offset="0.855" stop-color="#97ff00"/><stop offset="1" stop-color="#b0fa00"/></linearGradient><linearGradient id="b225" gradientUnits="userSpaceOnUse" x1="170.3" y1="390.8" x2="159.8" y2="373.4"><stop offset="0" stop-color="#b0fa00"/><stop offset="0.674" stop-color="#ffea00"/><stop offset="1" stop-color="#ffbd00"/></linearGradient><linearGradient id="b226" gradientUnits="userSpaceOnUse" x1="159.3" y1="373.7" x2="149.5" y2="356.1"><stop offset="0" stop-color="#ffbd00"/><stop offset="0.613" stop-color="#ff6f00"/><stop offset="1" stop-color="#ff4300"/></linearGradient><linearGradient id="b227" gradientUnits="userSpaceOnUse" x1="81.2" y1="352.1" x2="77.9" y2="339.3"><stop offset="0" stop-color="#ff1900"/><stop offset="0.589" stop-color="#ff0000"/><stop offset="1" stop-color="#ff0000"/></linearGradient><linearGradient id="b228" gradientUnits="userSpaceOnUse" x1="142.4" y1="359.9" x2="142.4" y2="359.8"><stop offset="0" stop-color="#ff7300"/><stop offset="0.073" stop-color="#ff6f00"/><stop offset="1" stop-color="#ff4300"/></linearGradient><linearGradient id="b229" gradientUnits="userSpaceOnUse" x1="99.5" y1="376.9" x2="85.8" y2="349.2"><stop offset="0" stop-color="#ffe000"/><stop offset="0.542" stop-color="#ff6f00"/><stop offset="1" stop-color="#ff1900"/></linearGradient><linearGradient id="b230" gradientUnits="userSpaceOnUse" x1="129.9" y1="367.3" x2="129.6" y2="366.7"><stop offset="0" stop-color="#ffad00"/><stop offset="1" stop-color="#ff7300"/></linearGradient><linearGradient id="b231" gradientUnits="userSpaceOnUse" x1="179.8" y1="413.8" x2="180.4" y2="414.6"><stop offset="0" stop-color="#1bd7bf"/><stop offset="0.752" stop-color="#2cff96"/><stop offset="1" stop-color="#3aff83"/></linearGradient><linearGradient id="b232" gradientUnits="userSpaceOnUse" x1="117.3" y1="373.7" x2="117.4" y2="374"><stop offset="0" stop-color="#ffde00"/><stop offset="1" stop-color="#ffad00"/></linearGradient><linearGradient id="b233" gradientUnits="userSpaceOnUse" x1="176.2" y1="416.4" x2="162.7" y2="395.7"><stop offset="0" stop-color="#1bd7bf"/><stop offset="0.241" stop-color="#2cff96"/><stop offset="0.855" stop-color="#97ff00"/><stop offset="1" stop-color="#b0fa00"/></linearGradient><linearGradient id="b234" gradientUnits="userSpaceOnUse" x1="164.9" y1="394.2" x2="154.3" y2="376.6"><stop offset="0" stop-color="#b0fa00"/><stop offset="0.674" stop-color="#ffea00"/><stop offset="1" stop-color="#ffbd00"/></linearGradient><linearGradient id="b235" gradientUnits="userSpaceOnUse" x1="153.6" y1="377" x2="143.7" y2="359.2"><stop offset="0" stop-color="#ffbd00"/><stop offset="0.613" stop-color="#ff6f00"/><stop offset="1" stop-color="#ff4300"/></linearGradient><linearGradient id="b236" gradientUnits="userSpaceOnUse" x1="89.7" y1="381.1" x2="84.1" y2="345.3"><stop offset="0" stop-color="#ffe000"/><stop offset="0.442" stop-color="#ff6f00"/><stop offset="0.925" stop-color="#ff0000"/><stop offset="1" stop-color="#ff0000"/></linearGradient><linearGradient id="b237" gradientUnits="userSpaceOnUse" x1="136.5" y1="363" x2="136.5" y2="363"><stop offset="0" stop-color="#ff7300"/><stop offset="0.073" stop-color="#ff6f00"/><stop offset="1" stop-color="#ff4300"/></linearGradient><linearGradient id="b238" gradientUnits="userSpaceOnUse" x1="123.9" y1="370.5" x2="123.6" y2="369.9"><stop offset="0" stop-color="#ffad00"/><stop offset="1" stop-color="#ff7300"/></linearGradient><linearGradient id="b239" gradientUnits="userSpaceOnUse" x1="111.2" y1="377" x2="111.4" y2="377.2"><stop offset="0" stop-color="#ffde00"/><stop offset="1" stop-color="#ffad00"/></linearGradient><linearGradient id="b240" gradientUnits="userSpaceOnUse" x1="174.8" y1="417.3" x2="175.4" y2="418.1"><stop offset="0" stop-color="#1bd7bf"/><stop offset="0.752" stop-color="#2cff96"/><stop offset="1" stop-color="#3aff83"/></linearGradient><linearGradient id="b241" gradientUnits="userSpaceOnUse" x1="171" y1="420" x2="157.3" y2="399"><stop offset="0" stop-color="#1bd7bf"/><stop offset="0.241" stop-color="#2cff96"/><stop offset="0.855" stop-color="#97ff00"/><stop offset="1" stop-color="#b0fa00"/></linearGradient><linearGradient id="b242" gradientUnits="userSpaceOnUse" x1="159.4" y1="397.7" x2="148.6" y2="379.8"><stop offset="0" stop-color="#b0fa00"/><stop offset="0.674" stop-color="#ffea00"/><stop offset="1" stop-color="#ffbd00"/></linearGradient><linearGradient id="b243" gradientUnits="userSpaceOnUse" x1="147.8" y1="380.3" x2="137.8" y2="362.3"><stop offset="0" stop-color="#ffbd00"/><stop offset="0.613" stop-color="#ff6f00"/><stop offset="1" stop-color="#ff4300"/></linearGradient><linearGradient id="b244" gradientUnits="userSpaceOnUse" x1="91.1" y1="383.1" x2="94.7" y2="352.5"><stop offset="0" stop-color="#ffe000"/><stop offset="0.47" stop-color="#ff6f00"/><stop offset="0.981" stop-color="#ff0000"/><stop offset="1" stop-color="#ff0000"/></linearGradient><linearGradient id="b245" gradientUnits="userSpaceOnUse" x1="130.5" y1="366.3" x2="130.4" y2="366.2"><stop offset="0" stop-color="#ff7300"/><stop offset="0.073" stop-color="#ff6f00"/><stop offset="1" stop-color="#ff4300"/></linearGradient><linearGradient id="b246" gradientUnits="userSpaceOnUse" x1="105" y1="380.3" x2="105.2" y2="380.5"><stop offset="0" stop-color="#ffde00"/><stop offset="1" stop-color="#ffad00"/></linearGradient><linearGradient id="b247" gradientUnits="userSpaceOnUse" x1="117.8" y1="373.8" x2="117.5" y2="373.2"><stop offset="0" stop-color="#ffad00"/><stop offset="1" stop-color="#ff7300"/></linearGradient><linearGradient id="b248" gradientUnits="userSpaceOnUse" x1="169.6" y1="420.8" x2="170.2" y2="421.7"><stop offset="0" stop-color="#1bd7bf"/><stop offset="0.752" stop-color="#2cff96"/><stop offset="1" stop-color="#3aff83"/></linearGradient><linearGradient id="b249" gradientUnits="userSpaceOnUse" x1="165.7" y1="423.6" x2="151.9" y2="402.4"><stop offset="0" stop-color="#1bd7bf"/><stop offset="0.241" stop-color="#2cff96"/><stop offset="0.855" stop-color="#97ff00"/><stop offset="1" stop-color="#b0fa00"/></linearGradient><linearGradient id="b250" gradientUnits="userSpaceOnUse" x1="153.8" y1="401.2" x2="142.9" y2="383.2"><stop offset="0" stop-color="#b0fa00"/><stop offset="0.674" stop-color="#ffea00"/><stop offset="1" stop-color="#ffbd00"/></linearGradient><linearGradient id="b251" gradientUnits="userSpaceOnUse" x1="141.9" y1="383.7" x2="131.7" y2="365.5"><stop offset="0" stop-color="#ffbd00"/><stop offset="0.613" stop-color="#ff6f00"/><stop offset="1" stop-color="#ff4300"/></linearGradient><linearGradient id="b252" gradientUnits="userSpaceOnUse" x1="99.4" y1="388.8" x2="98" y2="375"><stop offset="0" stop-color="#ffde00"/><stop offset="1" stop-color="#ff9000"/></linearGradient><linearGradient id="b253" gradientUnits="userSpaceOnUse" x1="124.3" y1="369.6" x2="124.3" y2="369.5"><stop offset="0" stop-color="#ff7300"/><stop offset="0.073" stop-color="#ff6f00"/><stop offset="1" stop-color="#ff4300"/></linearGradient><linearGradient id="b254" gradientUnits="userSpaceOnUse" x1="111.5" y1="377.1" x2="111.2" y2="376.6"><stop offset="0" stop-color="#ffad00"/><stop offset="1" stop-color="#ff7300"/></linearGradient><linearGradient id="b255" gradientUnits="userSpaceOnUse" x1="164.3" y1="424.5" x2="164.9" y2="425.4"><stop offset="0" stop-color="#1bd7bf"/><stop offset="0.752" stop-color="#2cff96"/><stop offset="1" stop-color="#3aff83"/></linearGradient><linearGradient id="b256" gradientUnits="userSpaceOnUse" x1="160.3" y1="427.3" x2="146.3" y2="405.9"><stop offset="0" stop-color="#1bd7bf"/><stop offset="0.241" stop-color="#2cff96"/><stop offset="0.855" stop-color="#97ff00"/><stop offset="1" stop-color="#b0fa00"/></linearGradient><linearGradient id="b257" gradientUnits="userSpaceOnUse" x1="148" y1="404.8" x2="137" y2="386.6"><stop offset="0" stop-color="#b0fa00"/><stop offset="0.674" stop-color="#ffea00"/><stop offset="1" stop-color="#ffbd00"/></linearGradient><linearGradient id="b258" gradientUnits="userSpaceOnUse" x1="135.8" y1="387.3" x2="125.6" y2="368.8"><stop offset="0" stop-color="#ffbd00"/><stop offset="0.613" stop-color="#ff6f00"/><stop offset="1" stop-color="#ff4300"/></linearGradient><linearGradient id="b259" gradientUnits="userSpaceOnUse" x1="103.7" y1="380.8" x2="106.2" y2="382.8"><stop offset="0" stop-color="#ffc300"/><stop offset="1" stop-color="#ff7300"/></linearGradient><linearGradient id="b260" gradientUnits="userSpaceOnUse" x1="118" y1="373" x2="117.9" y2="372.9"><stop offset="0" stop-color="#ff7300"/><stop offset="0.073" stop-color="#ff6f00"/><stop offset="1" stop-color="#ff4300"/></linearGradient><linearGradient id="b261" gradientUnits="userSpaceOnUse" x1="158.9" y1="428.2" x2="159.5" y2="429.1"><stop offset="0" stop-color="#1bd7bf"/><stop offset="0.752" stop-color="#2cff96"/><stop offset="1" stop-color="#3aff83"/></linearGradient><linearGradient id="b262" gradientUnits="userSpaceOnUse" x1="154.8" y1="431.1" x2="140.6" y2="409.5"><stop offset="0" stop-color="#1bd7bf"/><stop offset="0.241" stop-color="#2cff96"/><stop offset="0.855" stop-color="#97ff00"/><stop offset="1" stop-color="#b0fa00"/></linearGradient><linearGradient id="b263" gradientUnits="userSpaceOnUse" x1="142.1" y1="408.5" x2="131" y2="390.1"><stop offset="0" stop-color="#b0fa00"/><stop offset="0.674" stop-color="#ffea00"/><stop offset="1" stop-color="#ffbd00"/></linearGradient><linearGradient id="b264" gradientUnits="userSpaceOnUse" x1="129.6" y1="390.9" x2="119.2" y2="372.2"><stop offset="0" stop-color="#ffbd00"/><stop offset="0.613" stop-color="#ff6f00"/><stop offset="1" stop-color="#ff4300"/></linearGradient><linearGradient id="b265" gradientUnits="userSpaceOnUse" x1="111.9" y1="382.2" x2="111.1" y2="373.4"><stop offset="0" stop-color="#ff8900"/><stop offset="0.349" stop-color="#ff6f00"/><stop offset="1" stop-color="#ff4300"/></linearGradient><linearGradient id="b266" gradientUnits="userSpaceOnUse" x1="153.3" y1="432" x2="154" y2="432.9"><stop offset="0" stop-color="#1bd7bf"/><stop offset="0.752" stop-color="#2cff96"/><stop offset="1" stop-color="#3aff83"/></linearGradient><linearGradient id="b267" gradientUnits="userSpaceOnUse" x1="149.1" y1="435" x2="134.8" y2="413.2"><stop offset="0" stop-color="#1bd7bf"/><stop offset="0.241" stop-color="#2cff96"/><stop offset="0.855" stop-color="#97ff00"/><stop offset="1" stop-color="#b0fa00"/></linearGradient><linearGradient id="b268" gradientUnits="userSpaceOnUse" x1="136.1" y1="412.3" x2="124.9" y2="393.6"><stop offset="0" stop-color="#b0fa00"/><stop offset="0.674" stop-color="#ffea00"/><stop offset="1" stop-color="#ffbd00"/></linearGradient><linearGradient id="b269" gradientUnits="userSpaceOnUse" x1="123.2" y1="394.5" x2="112.7" y2="375.7"><stop offset="0" stop-color="#ffbd00"/><stop offset="0.613" stop-color="#ff6f00"/><stop offset="1" stop-color="#ff4300"/></linearGradient><linearGradient id="b270" gradientUnits="userSpaceOnUse" x1="147.7" y1="435.8" x2="148.3" y2="436.8"><stop offset="0" stop-color="#1bd7bf"/><stop offset="0.752" stop-color="#2cff96"/><stop offset="1" stop-color="#3aff83"/></linearGradient><linearGradient id="b271" gradientUnits="userSpaceOnUse" x1="143.3" y1="439" x2="128.8" y2="416.9"><stop offset="0" stop-color="#1bd7bf"/><stop offset="0.241" stop-color="#2cff96"/><stop offset="0.855" stop-color="#97ff00"/><stop offset="1" stop-color="#b0fa00"/></linearGradient><linearGradient id="b272" gradientUnits="userSpaceOnUse" x1="129.9" y1="416.1" x2="118.6" y2="397.3"><stop offset="0" stop-color="#b0fa00"/><stop offset="0.674" stop-color="#ffea00"/><stop offset="1" stop-color="#ffbd00"/></linearGradient><linearGradient id="b273" gradientUnits="userSpaceOnUse" x1="141.9" y1="439.8" x2="142.6" y2="440.8"><stop offset="0" stop-color="#1bd7bf"/><stop offset="0.752" stop-color="#2cff96"/><stop offset="1" stop-color="#3aff83"/></linearGradient><linearGradient id="b274" gradientUnits="userSpaceOnUse" x1="137.4" y1="443.1" x2="122.8" y2="420.7"><stop offset="0" stop-color="#1bd7bf"/><stop offset="0.241" stop-color="#2cff96"/><stop offset="0.855" stop-color="#97ff00"/><stop offset="1" stop-color="#b0fa00"/></linearGradient><linearGradient id="b275" gradientUnits="userSpaceOnUse" x1="136" y1="443.9" x2="136.7" y2="444.8"><stop offset="0" stop-color="#1bd7bf"/><stop offset="0.752" stop-color="#2cff96"/><stop offset="1" stop-color="#3aff83"/></linearGradient><linearGradient id="cbB" x1="0" y1="0" x2="0" y2="1"><stop offset="0" stop-color="#ff0000"/><stop offset="0.125" stop-color="#ff6f00"/><stop offset="0.25" stop-color="#ffea00"/><stop offset="0.375" stop-color="#97ff00"/><stop offset="0.5" stop-color="#2cff96"/><stop offset="0.625" stop-color="#0098ff"/><stop offset="0.75" stop-color="#0019ff"/><stop offset="0.875" stop-color="#0000c8"/><stop offset="1" stop-color="#96005a"/></linearGradient></defs><g stroke="#dfdfdf" stroke-width="0.9" fill="none"><path d="M130.8 504.2L219.6 433.7"/><path d="M148.9 504.5L50.3 433.5"/><path d="M219.6 433.7L242.8 316.9"/><path d="M50.3 433.5L38.1 313.9"/><path d="M119.1 495.5L208.5 427.6"/><path d="M159.3 495.9L60.9 427.3"/><path d="M208.5 427.6L229 311.6"/><path d="M60.9 427.3L51.2 309.1"/><path d="M107.9 487.2L197.7 421.6"/><path d="M169.4 487.6L71.2 421.5"/><path d="M197.7 421.6L215.7 306.6"/><path d="M71.2 421.5L63.7 304.4"/><path d="M97 479.1L187.2 415.8"/><path d="M179.1 479.6L81.1 415.8"/><path d="M187.2 415.8L202.8 301.7"/><path d="M81.1 415.8L75.8 299.9"/><path d="M86.5 471.3L177 410.2"/><path d="M188.3 472L90.7 410.2"/><path d="M177 410.2L190.4 297"/><path d="M90.7 410.2L87.4 295.6"/><path d="M76.3 463.8L167.1 404.7"/><path d="M197.3 464.7L100 404.9"/><path d="M167.1 404.7L178.4 292.4"/><path d="M100 404.9L98.5 291.5"/><path d="M66.5 456.6L157.5 399.4"/><path d="M205.9 457.6L109 399.8"/><path d="M157.5 399.4L166.8 288"/><path d="M109 399.8L109.2 287.5"/><path d="M57.1 449.6L148.2 394.2"/><path d="M214.2 450.8L117.7 394.8"/><path d="M148.2 394.2L155.6 283.7"/><path d="M117.7 394.8L119.5 283.6"/><path d="M47.9 442.8L139.1 389.2"/><path d="M222.2 444.2L126.2 389.9"/><path d="M139.1 389.2L144.8 279.6"/><path d="M126.2 389.9L129.5 279.9"/><path d="M39.8 421L133.8 369.8"/><path d="M133.8 369.8L232.4 421.8"/><path d="M35.8 387.1L135.1 338.7"/><path d="M135.1 338.7L239.6 388.7"/><path d="M31.3 348.9L136.5 304.3"/><path d="M136.5 304.3L247.7 351.4"/></g><g stroke="#aaa" stroke-width="0.9" fill="none"><path d="M41.8 438.3L27.8 319.5"/></g><g stroke="#555" stroke-width="0.8" fill="none"><path d="M41.8 438.3L140.5 511.3"/><path d="M140.5 511.3L228.8 438.8"/><path d="M130.8 504.2L127.1 507.1"/><path d="M148.9 504.5L153 507.4"/><path d="M119.1 495.5L115.4 498.4"/><path d="M159.3 495.9L163.4 498.7"/><path d="M107.9 487.2L104.1 489.9"/><path d="M169.4 487.6L173.4 490.3"/><path d="M97 479.1L93.2 481.8"/><path d="M179.1 479.6L183.1 482.3"/><path d="M86.5 471.3L82.7 473.9"/><path d="M188.3 472L192.3 474.5"/><path d="M76.3 463.8L72.6 466.3"/><path d="M197.3 464.7L201.3 467.1"/><path d="M66.5 456.6L62.8 459"/><path d="M205.9 457.6L209.8 459.9"/><path d="M57.1 449.6L53.3 451.9"/><path d="M214.2 450.8L218.1 453"/><path d="M47.9 442.8L44.1 445"/><path d="M222.2 444.2L226.1 446.4"/></g><g stroke="#000" stroke-width="0.7" stroke-linejoin="round"><path d="M127.8 388.4L132.8 378.6L137 376.2L132 386Z" fill="url(#b1)"/><path d="M132.8 378.6L138 368.9L142.3 366.5L137 376.2Z" fill="url(#b2)"/><path d="M123.6 390.8L128.5 380.9L132.8 378.6L127.8 388.4Z" fill="url(#b3)"/><path d="M138 368.9L143.6 357L148 354.7L142.3 366.5Z" fill="url(#b4)"/><path d="M128.5 380.9L133.7 371.2L138 368.9L132.8 378.6Z" fill="url(#b5)"/><path d="M119.3 393.3L124.2 383.4L128.5 380.9L123.6 390.8Z" fill="url(#b6)"/><path d="M143.6 357L149.2 349.8L153.6 347.5L148 354.7Z" fill="url(#b7)"/><path d="M133.7 371.2L139.2 359.3L143.6 357L138 368.9Z" fill="url(#b8)"/><path d="M124.2 383.4L129.2 373.7L133.7 371.2L128.5 380.9Z" fill="url(#b9)"/><path d="M115 395.7L119.7 385.9L124.2 383.4L119.3 393.3Z" fill="url(#b10)"/><path d="M149.2 349.8L156.7 320.4L161.3 318.2L153.6 347.5Z" fill="url(#b11)"/><path d="M139.2 359.3L144.7 352.2L149.2 349.8L143.6 357Z" fill="url(#b12)"/><path d="M129.2 373.7L134.6 361.7L139.2 359.3L133.7 371.2Z" fill="url(#b13)"/><path d="M119.7 385.9L124.7 376.1L129.2 373.7L124.2 383.4Z" fill="url(#b14)"/><path d="M110.6 398.3L115.2 388.4L119.7 385.9L115 395.7Z" fill="url(#b15)"/><path d="M156.7 320.4L162.6 317.7L167.2 315.5L161.3 318.2Z" fill="url(#b16)"/><path d="M144.7 352.2L152 322.6L156.7 320.4L149.2 349.8Z" fill="url(#b17)"/><path d="M134.6 361.7L140.1 354.5L144.7 352.2L139.2 359.3Z" fill="url(#b18)"/><path d="M124.7 376.1L130.1 364.2L134.6 361.7L129.2 373.7Z" fill="url(#b19)"/><path d="M115.2 388.4L120.2 378.6L124.7 376.1L119.7 385.9Z" fill="url(#b20)"/><path d="M106.1 400.8L110.7 390.9L115.2 388.4L110.6 398.3Z" fill="url(#b21)"/><path d="M162.6 317.7L169.9 301.4L174.6 299.3L167.2 315.5Z" fill="url(#b22)"/><path d="M152 322.6L157.9 319.9L162.6 317.7L156.7 320.4Z" fill="url(#b23)"/><path d="M140.1 354.5L147.2 324.8L152 322.6L144.7 352.2Z" fill="url(#b24)"/><path d="M130.1 364.2L135.5 357L140.1 354.5L134.6 361.7Z" fill="url(#b25)"/><path d="M120.2 378.6L125.4 366.6L130.1 364.2L124.7 376.1Z" fill="url(#b26)"/><path d="M101.6 403.4L106 393.5L110.7 390.9L106.1 400.8Z" fill="url(#b27)"/><path d="M110.7 390.9L115.5 381.2L120.2 378.6L115.2 388.4Z" fill="url(#b28)"/><path d="M169.9 301.4L175.4 307.6L180.1 305.4L174.6 299.3Z" fill="#ff0b00"/><path d="M157.9 319.9L165.1 303.5L169.9 301.4L162.6 317.7Z" fill="url(#b29)"/><path d="M147.2 324.8L153.1 322.2L157.9 319.9L152 322.6Z" fill="url(#b30)"/><path d="M135.5 357L142.3 327.1L147.2 324.8L140.1 354.5Z" fill="url(#b31)"/><path d="M125.4 366.6L130.8 359.4L135.5 357L130.1 364.2Z" fill="url(#b32)"/><path d="M97 406.1L101.3 396.2L106 393.5L101.6 403.4Z" fill="url(#b33)"/><path d="M115.5 381.2L120.6 369.2L125.4 366.6L120.2 378.6Z" fill="url(#b34)"/><path d="M106 393.5L110.8 383.8L115.5 381.2L110.7 390.9Z" fill="url(#b35)"/><path d="M175.4 307.6L178.7 335.3L183.2 333L180.1 305.4Z" fill="url(#b36)"/><path d="M165.1 303.5L170.7 309.8L175.4 307.6L169.9 301.4Z" fill="#ff0b00"/><path d="M153.1 322.2L160.2 305.7L165.1 303.5L157.9 319.9Z" fill="url(#b37)"/><path d="M142.3 327.1L148.2 324.5L153.1 322.2L147.2 324.8Z" fill="url(#b38)"/><path d="M130.8 359.4L137.4 329.5L142.3 327.1L135.5 357Z" fill="url(#b39)"/><path d="M178.7 335.3L184.6 337.7L189.1 335.3L183.2 333Z" fill="#ffdf00"/><path d="M92.3 408.8L96.5 398.9L101.3 396.2L97 406.1Z" fill="url(#b40)"/><path d="M120.6 369.2L125.9 362L130.8 359.4L125.4 366.6Z" fill="url(#b41)"/><path d="M101.3 396.2L105.9 386.4L110.8 383.8L106 393.5Z" fill="url(#b42)"/><path d="M110.8 383.8L115.8 371.7L120.6 369.2L115.5 381.2Z" fill="url(#b43)"/><path d="M170.7 309.8L174.1 337.7L178.7 335.3L175.4 307.6Z" fill="url(#b44)"/><path d="M160.2 305.7L165.8 312.1L170.7 309.8L165.1 303.5Z" fill="#ff0b00"/><path d="M148.2 324.5L155.2 307.9L160.2 305.7L153.1 322.2Z" fill="url(#b45)"/><path d="M184.6 337.7L191.3 334.4L195.8 332L189.1 335.3Z" fill="url(#b46)"/><path d="M137.4 329.5L143.2 326.8L148.2 324.5L142.3 327.1Z" fill="url(#b47)"/><path d="M87.5 411.5L91.6 401.6L96.5 398.9L92.3 408.8Z" fill="url(#b48)"/><path d="M125.9 362L132.3 331.8L137.4 329.5L130.8 359.4Z" fill="url(#b49)"/><path d="M96.5 398.9L101 389.1L105.9 386.4L101.3 396.2Z" fill="url(#b50)"/><path d="M115.8 371.7L121 364.5L125.9 362L120.6 369.2Z" fill="url(#b51)"/><path d="M105.9 386.4L110.9 374.3L115.8 371.7L110.8 383.8Z" fill="url(#b52)"/><path d="M174.1 337.7L180 340.2L184.6 337.7L178.7 335.3Z" fill="#ffdf00"/><path d="M165.8 312.1L169.4 340.2L174.1 337.7L170.7 309.8Z" fill="url(#b53)"/><path d="M191.3 334.4L198.3 330L202.9 327.6L195.8 332Z" fill="url(#b54)"/><path d="M155.2 307.9L160.8 314.4L165.8 312.1L160.2 305.7Z" fill="#ff0b00"/><path d="M143.2 326.8L150.1 310.2L155.2 307.9L148.2 324.5Z" fill="url(#b55)"/><path d="M82.6 414.3L86.7 404.4L91.6 401.6L87.5 411.5Z" fill="url(#b56)"/><path d="M180 340.2L186.7 336.9L191.3 334.4L184.6 337.7Z" fill="url(#b57)"/><path d="M132.3 331.8L138.1 329.2L143.2 326.8L137.4 329.5Z" fill="url(#b58)"/><path d="M91.6 401.6L96.1 391.8L101 389.1L96.5 398.9Z" fill="url(#b59)"/><path d="M121 364.5L127.2 334.3L132.3 331.8L125.9 362Z" fill="url(#b60)"/><path d="M101 389.1L105.8 377L110.9 374.3L105.9 386.4Z" fill="url(#b61)"/><path d="M110.9 374.3L116 367.1L121 364.5L115.8 371.7Z" fill="url(#b62)"/><path d="M169.4 340.2L175.3 342.7L180 340.2L174.1 337.7Z" fill="#ffdf00"/><path d="M198.3 330L205.6 326L210.1 323.6L202.9 327.6Z" fill="url(#b63)"/><path d="M160.8 314.4L164.6 342.7L169.4 340.2L165.8 312.1Z" fill="url(#b64)"/><path d="M150.1 310.2L155.8 316.7L160.8 314.4L155.2 307.9Z" fill="#ff0b00"/><path d="M186.7 336.9L193.7 332.5L198.3 330L191.3 334.4Z" fill="url(#b65)"/><path d="M77.7 417.1L81.6 407.2L86.7 404.4L82.6 414.3Z" fill="url(#b66)"/><path d="M138.1 329.2L144.9 312.5L150.1 310.2L143.2 326.8Z" fill="url(#b67)"/><path d="M86.7 404.4L91 394.6L96.1 391.8L91.6 401.6Z" fill="url(#b68)"/><path d="M127.2 334.3L133 331.7L138.1 329.2L132.3 331.8Z" fill="url(#b69)"/><path d="M96.1 391.8L100.7 379.7L105.8 377L101 389.1Z" fill="url(#b70)"/><path d="M116 367.1L121.9 336.7L127.2 334.3L121 364.5Z" fill="url(#b71)"/><path d="M105.8 377L110.9 369.8L116 367.1L110.9 374.3Z" fill="url(#b72)"/><path d="M175.3 342.7L182 339.4L186.7 336.9L180 340.2Z" fill="url(#b73)"/><path d="M205.6 326L209.6 344.5L214 341.9L210.1 323.6Z" fill="url(#b74)"/><path d="M164.6 342.7L170.5 345.2L175.3 342.7L169.4 340.2Z" fill="#ffdf00"/><path d="M193.7 332.5L200.9 328.5L205.6 326L198.3 330Z" fill="url(#b75)"/><path d="M155.8 316.7L159.8 345.3L164.6 342.7L160.8 314.4Z" fill="url(#b76)"/><path d="M72.6 420L76.5 410.1L81.6 407.2L77.7 417.1Z" fill="url(#b77)"/><path d="M144.9 312.5L150.6 319.1L155.8 316.7L150.1 310.2Z" fill="#ff0b00"/><path d="M209.6 344.5L213.3 363.8L217.6 361.1L214 341.9Z" fill="url(#b78)"/><path d="M81.6 407.2L85.8 397.4L91 394.6L86.7 404.4Z" fill="url(#b79)"/><path d="M182 339.4L189 335L193.7 332.5L186.7 336.9Z" fill="url(#b80)"/><path d="M133 331.7L139.6 314.9L144.9 312.5L138.1 329.2Z" fill="url(#b81)"/><path d="M91 394.6L95.5 382.5L100.7 379.7L96.1 391.8Z" fill="url(#b82)"/><path d="M121.9 336.7L127.7 334.2L133 331.7L127.2 334.3Z" fill="url(#b83)"/><path d="M100.7 379.7L105.7 372.5L110.9 369.8L105.8 377Z" fill="url(#b84)"/><path d="M110.9 369.8L116.6 339.3L121.9 336.7L116 367.1Z" fill="url(#b85)"/><path d="M170.5 345.2L177.2 342L182 339.4L175.3 342.7Z" fill="url(#b86)"/><path d="M200.9 328.5L205.1 347.1L209.6 344.5L205.6 326Z" fill="url(#b87)"/><path d="M159.8 345.3L165.7 347.8L170.5 345.2L164.6 342.7Z" fill="#ffdf00"/><path d="M213.3 363.8L215.6 389.2L219.8 386.3L217.6 361.1Z" fill="url(#b88)"/><path d="M67.5 423L71.2 413L76.5 410.1L72.6 420Z" fill="url(#b89)"/><path d="M189 335L196.2 331.1L200.9 328.5L193.7 332.5Z" fill="url(#b90)"/><path d="M150.6 319.1L154.8 347.9L159.8 345.3L155.8 316.7Z" fill="url(#b91)"/><path d="M76.5 410.1L80.5 400.3L85.8 397.4L81.6 407.2Z" fill="url(#b92)"/><path d="M139.6 314.9L145.4 321.5L150.6 319.1L144.9 312.5Z" fill="#ff0b00"/><path d="M85.8 397.4L90.2 385.3L95.5 382.5L91 394.6Z" fill="url(#b93)"/><path d="M127.7 334.2L134.2 317.3L139.6 314.9L133 331.7Z" fill="url(#b94)"/><path d="M95.5 382.5L100.4 375.3L105.7 372.5L100.7 379.7Z" fill="url(#b95)"/><path d="M205.1 347.1L208.8 366.6L213.3 363.8L209.6 344.5Z" fill="url(#b96)"/><path d="M177.2 342L184.2 337.6L189 335L182 339.4Z" fill="url(#b97)"/><path d="M116.6 339.3L122.3 336.7L127.7 334.2L121.9 336.7Z" fill="url(#b98)"/><path d="M105.7 372.5L111.1 341.8L116.6 339.3L110.9 369.8Z" fill="url(#b99)"/><path d="M215.6 389.2L223.1 385.2L227.3 382.3L219.8 386.3Z" fill="url(#b100)"/><path d="M165.7 347.8L172.3 344.6L177.2 342L170.5 345.2Z" fill="url(#b101)"/><path d="M62.3 425.9L65.9 416L71.2 413L67.5 423Z" fill="url(#b102)"/><path d="M196.2 331.1L200.4 349.8L205.1 347.1L200.9 328.5Z" fill="url(#b103)"/><path d="M154.8 347.9L160.7 350.5L165.7 347.8L159.8 345.3Z" fill="#ffdf00"/><path d="M71.2 413L75.2 403.2L80.5 400.3L76.5 410.1Z" fill="url(#b104)"/><path d="M208.8 366.6L211.3 392.1L215.6 389.2L213.3 363.8Z" fill="url(#b105)"/><path d="M145.4 321.5L149.7 350.5L154.8 347.9L150.6 319.1Z" fill="url(#b106)"/><path d="M80.5 400.3L84.8 388.1L90.2 385.3L85.8 397.4Z" fill="url(#b107)"/><path d="M184.2 337.6L191.4 333.6L196.2 331.1L189 335Z" fill="url(#b108)"/><path d="M223.1 385.2L222.3 424.2L226.3 421.1L227.3 382.3Z" fill="url(#b109)"/><path d="M134.2 317.3L140 324L145.4 321.5L139.6 314.9Z" fill="#ff0b00"/><path d="M90.2 385.3L95.1 378.1L100.4 375.3L95.5 382.5Z" fill="url(#b110)"/><path d="M122.3 336.7L128.6 319.8L134.2 317.3L127.7 334.2Z" fill="url(#b111)"/><path d="M100.4 375.3L105.5 344.5L111.1 341.8L105.7 372.5Z" fill="url(#b112)"/><path d="M111.1 341.8L116.8 339.3L122.3 336.7L116.6 339.3Z" fill="url(#b113)"/><path d="M172.3 344.6L179.3 340.2L184.2 337.6L177.2 342Z" fill="url(#b114)"/><path d="M200.4 349.8L204.3 369.4L208.8 366.6L205.1 347.1Z" fill="url(#b115)"/><path d="M57 429L60.4 419.1L65.9 416L62.3 425.9Z" fill="url(#b116)"/><path d="M211.3 392.1L218.8 388.2L223.1 385.2L215.6 389.2Z" fill="url(#b117)"/><path d="M160.7 350.5L167.3 347.3L172.3 344.6L165.7 347.8Z" fill="url(#b118)"/><path d="M65.9 416L69.7 406.2L75.2 403.2L71.2 413Z" fill="url(#b119)"/><path d="M191.4 333.6L195.7 352.5L200.4 349.8L196.2 331.1Z" fill="url(#b120)"/><path d="M149.7 350.5L155.7 353.2L160.7 350.5L154.8 347.9Z" fill="#ffdf00"/><path d="M75.2 403.2L79.3 391.1L84.8 388.1L80.5 400.3Z" fill="url(#b121)"/><path d="M140 324L144.6 353.2L149.7 350.5L145.4 321.5Z" fill="url(#b122)"/><path d="M84.8 388.1L89.6 380.9L95.1 378.1L90.2 385.3Z" fill="url(#b123)"/><path d="M204.3 369.4L207 395.1L211.3 392.1L208.8 366.6Z" fill="url(#b124)"/><path d="M128.6 319.8L134.5 326.6L140 324L134.2 317.3Z" fill="#ff0b00"/><path d="M179.3 340.2L186.4 336.3L191.4 333.6L184.2 337.6Z" fill="url(#b125)"/><path d="M95.1 378.1L99.9 347.1L105.5 344.5L100.4 375.3Z" fill="url(#b126)"/><path d="M116.8 339.3L123 322.3L128.6 319.8L122.3 336.7Z" fill="url(#b127)"/><path d="M105.5 344.5L111.2 341.9L116.8 339.3L111.1 341.8Z" fill="url(#b128)"/><path d="M51.6 432.1L54.9 422.1L60.4 419.1L57 429Z" fill="url(#b129)"/><path d="M218.8 388.2L218.2 427.4L222.3 424.2L223.1 385.2Z" fill="url(#b130)"/><path d="M167.3 347.3L174.2 342.9L179.3 340.2L172.3 344.6Z" fill="url(#b131)"/><path d="M60.4 419.1L64.2 409.2L69.7 406.2L65.9 416Z" fill="url(#b132)"/><path d="M195.7 352.5L199.7 372.3L204.3 369.4L200.4 349.8Z" fill="url(#b133)"/><path d="M155.7 353.2L162.2 350L167.3 347.3L160.7 350.5Z" fill="url(#b134)"/><path d="M69.7 406.2L73.7 394L79.3 391.1L75.2 403.2Z" fill="url(#b135)"/><path d="M207 395.1L214.5 391.2L218.8 388.2L211.3 392.1Z" fill="url(#b136)"/><path d="M144.6 353.2L150.5 355.9L155.7 353.2L149.7 350.5Z" fill="#ffdf00"/><path d="M186.4 336.3L190.9 355.3L195.7 352.5L191.4 333.6Z" fill="url(#b137)"/><path d="M79.3 391.1L84 383.9L89.6 380.9L84.8 388.1Z" fill="url(#b138)"/><path d="M134.5 326.6L139.3 356L144.6 353.2L140 324Z" fill="url(#b139)"/><path d="M46.1 435.2L49.3 425.3L54.9 422.1L51.6 432.1Z" fill="url(#b140)"/><path d="M89.6 380.9L94.1 349.9L99.9 347.1L95.1 378.1Z" fill="url(#b141)"/><path d="M123 322.3L128.9 329.2L134.5 326.6L128.6 319.8Z" fill="#ff0b00"/><path d="M99.9 347.1L105.4 344.6L111.2 341.9L105.5 344.5Z" fill="url(#b142)"/><path d="M111.2 341.9L117.2 324.9L123 322.3L116.8 339.3Z" fill="url(#b143)"/><path d="M174.2 342.9L181.4 339L186.4 336.3L179.3 340.2Z" fill="url(#b144)"/><path d="M199.7 372.3L202.5 398.2L207 395.1L204.3 369.4Z" fill="url(#b145)"/><path d="M54.9 422.1L58.5 412.3L64.2 409.2L60.4 419.1Z" fill="url(#b146)"/><path d="M214.5 391.2L220.7 395.2L218.2 427.4L218.8 388.2Z" fill="url(#b147)"/><path d="M162.2 350L169.1 345.6L174.2 342.9L167.3 347.3Z" fill="url(#b148)"/><path d="M64.2 409.2L68 397.1L73.7 394L69.7 406.2Z" fill="url(#b149)"/><path d="M190.9 355.3L195.1 375.2L199.7 372.3L195.7 352.5Z" fill="url(#b150)"/><path d="M150.5 355.9L157 352.8L162.2 350L155.7 353.2Z" fill="url(#b151)"/><path d="M73.7 394L78.2 386.8L84 383.9L79.3 391.1Z" fill="url(#b152)"/><path d="M139.3 356L145.2 358.8L150.5 355.9L144.6 353.2Z" fill="#ffdf00"/><path d="M202.5 398.2L210 394.3L214.5 391.2L207 395.1Z" fill="url(#b153)"/><path d="M84 383.9L88.1 352.7L94.1 349.9L89.6 380.9Z" fill="url(#b154)"/><path d="M181.4 339L186 358.1L190.9 355.3L186.4 336.3Z" fill="url(#b155)"/><path d="M128.9 329.2L133.9 358.8L139.3 356L134.5 326.6Z" fill="url(#b156)"/><path d="M94.1 349.9L99.6 347.4L105.4 344.6L99.9 347.1Z" fill="url(#b157)"/><path d="M117.2 324.9L123.2 331.8L128.9 329.2L123 322.3Z" fill="#ff0b00"/><path d="M105.4 344.6L111.3 327.5L117.2 324.9L111.2 341.9Z" fill="url(#b158)"/><path d="M49.3 425.3L52.7 415.5L58.5 412.3L54.9 422.1Z" fill="url(#b159)"/><path d="M169.1 345.6L176.3 341.7L181.4 339L174.2 342.9Z" fill="url(#b160)"/><path d="M195.1 375.2L198 401.3L202.5 398.2L199.7 372.3Z" fill="url(#b161)"/><path d="M58.5 412.3L62.1 400.1L68 397.1L64.2 409.2Z" fill="url(#b162)"/><path d="M157 352.8L163.9 348.4L169.1 345.6L162.2 350Z" fill="url(#b163)"/><path d="M210 394.3L216.3 398.4L220.7 395.2L214.5 391.2Z" fill="#37ff87"/><path d="M68 397.1L72.4 389.9L78.2 386.8L73.7 394Z" fill="url(#b164)"/><path d="M186 358.1L190.3 378.2L195.1 375.2L190.9 355.3Z" fill="url(#b165)"/><path d="M145.2 358.8L151.7 355.6L157 352.8L150.5 355.9Z" fill="url(#b166)"/><path d="M78.2 386.8L82.1 355.5L88.1 352.7L84 383.9Z" fill="url(#b167)"/><path d="M133.9 358.8L139.9 361.6L145.2 358.8L139.3 356Z" fill="#ffdf00"/><path d="M88.1 352.7L93.6 350.2L99.6 347.4L94.1 349.9Z" fill="url(#b168)"/><path d="M123.2 331.8L128.4 361.7L133.9 358.8L128.9 329.2Z" fill="url(#b169)"/><path d="M99.6 347.4L105.3 330.2L111.3 327.5L105.4 344.6Z" fill="url(#b170)"/><path d="M111.3 327.5L117.3 334.5L123.2 331.8L117.2 324.9Z" fill="#ff0b00"/><path d="M198 401.3L205.5 397.4L210 394.3L202.5 398.2Z" fill="url(#b171)"/><path d="M176.3 341.7L181 361L186 358.1L181.4 339Z" fill="url(#b172)"/><path d="M52.7 415.5L56.2 403.3L62.1 400.1L58.5 412.3Z" fill="url(#b173)"/><path d="M163.9 348.4L171 344.5L176.3 341.7L169.1 345.6Z" fill="url(#b174)"/><path d="M62.1 400.1L66.5 393L72.4 389.9L68 397.1Z" fill="url(#b175)"/><path d="M190.3 378.2L193.4 404.4L198 401.3L195.1 375.2Z" fill="url(#b176)"/><path d="M151.7 355.6L158.6 351.3L163.9 348.4L157 352.8Z" fill="url(#b177)"/><path d="M72.4 389.9L75.9 358.4L82.1 355.5L78.2 386.8Z" fill="url(#b178)"/><path d="M205.5 397.4L211.8 401.6L216.3 398.4L210 394.3Z" fill="#37ff87"/><path d="M139.9 361.6L146.3 358.5L151.7 355.6L145.2 358.8Z" fill="url(#b179)"/><path d="M82.1 355.5L87.5 353.1L93.6 350.2L88.1 352.7Z" fill="url(#b180)"/><path d="M181 361L185.4 381.3L190.3 378.2L186 358.1Z" fill="url(#b181)"/><path d="M128.4 361.7L134.4 364.6L139.9 361.6L133.9 358.8Z" fill="#ffdf00"/><path d="M93.6 350.2L99.1 332.9L105.3 330.2L99.6 347.4Z" fill="url(#b182)"/><path d="M117.3 334.5L122.8 364.6L128.4 361.7L123.2 331.8Z" fill="url(#b183)"/><path d="M105.3 330.2L111.3 337.3L117.3 334.5L111.3 327.5Z" fill="#ff0b00"/><path d="M171 344.5L175.9 364L181 361L176.3 341.7Z" fill="url(#b184)"/><path d="M193.4 404.4L200.8 400.6L205.5 397.4L198 401.3Z" fill="url(#b185)"/><path d="M56.2 403.3L60.4 396.1L66.5 393L62.1 400.1Z" fill="url(#b186)"/><path d="M158.6 351.3L165.6 347.4L171 344.5L163.9 348.4Z" fill="url(#b187)"/><path d="M66.5 393L69.6 361.4L75.9 358.4L72.4 389.9Z" fill="url(#b188)"/><path d="M185.4 381.3L188.7 407.7L193.4 404.4L190.3 378.2Z" fill="url(#b189)"/><path d="M146.3 358.5L153.1 354.2L158.6 351.3L151.7 355.6Z" fill="url(#b190)"/><path d="M75.9 358.4L81.3 356L87.5 353.1L82.1 355.5Z" fill="url(#b191)"/><path d="M134.4 364.6L140.8 361.4L146.3 358.5L139.9 361.6Z" fill="url(#b192)"/><path d="M87.5 353.1L92.8 335.7L99.1 332.9L93.6 350.2Z" fill="url(#b193)"/><path d="M122.8 364.6L128.8 367.6L134.4 364.6L128.4 361.7Z" fill="#ffdf00"/><path d="M200.8 400.6L207.2 404.8L211.8 401.6L205.5 397.4Z" fill="#37ff87"/><path d="M99.1 332.9L105.2 340.1L111.3 337.3L105.3 330.2Z" fill="#ff0b00"/><path d="M111.3 337.3L117.1 367.6L122.8 364.6L117.3 334.5Z" fill="url(#b194)"/><path d="M175.9 364L180.4 384.4L185.4 381.3L181 361Z" fill="url(#b195)"/><path d="M165.6 347.4L170.6 367L175.9 364L171 344.5Z" fill="url(#b196)"/><path d="M188.7 407.7L196.1 403.9L200.8 400.6L193.4 404.4Z" fill="url(#b197)"/><path d="M60.4 396.1L63.2 364.4L69.6 361.4L66.5 393Z" fill="url(#b198)"/><path d="M153.1 354.2L160.2 350.3L165.6 347.4L158.6 351.3Z" fill="url(#b199)"/><path d="M69.6 361.4L74.9 359L81.3 356L75.9 358.4Z" fill="url(#b200)"/><path d="M140.8 361.4L147.6 357.1L153.1 354.2L146.3 358.5Z" fill="url(#b201)"/><path d="M180.4 384.4L183.9 411L188.7 407.7L185.4 381.3Z" fill="url(#b202)"/><path d="M81.3 356L86.4 338.6L92.8 335.7L87.5 353.1Z" fill="url(#b203)"/><path d="M128.8 367.6L135.2 364.5L140.8 361.4L134.4 364.6Z" fill="url(#b204)"/><path d="M92.8 335.7L99 343L105.2 340.1L99.1 332.9Z" fill="#ff0b00"/><path d="M117.1 367.6L123.1 370.6L128.8 367.6L122.8 364.6Z" fill="#ffdf00"/><path d="M105.2 340.1L111.2 370.7L117.1 367.6L111.3 337.3Z" fill="url(#b205)"/><path d="M170.6 367L175.3 387.6L180.4 384.4L175.9 364Z" fill="url(#b206)"/><path d="M196.1 403.9L202.5 408.2L207.2 404.8L200.8 400.6Z" fill="#37ff87"/><path d="M160.2 350.3L165.3 370.1L170.6 367L165.6 347.4Z" fill="url(#b207)"/><path d="M63.2 364.4L68.4 362.1L74.9 359L69.6 361.4Z" fill="url(#b208)"/><path d="M183.9 411L191.3 407.2L196.1 403.9L188.7 407.7Z" fill="url(#b209)"/><path d="M147.6 357.1L154.5 353.3L160.2 350.3L153.1 354.2Z" fill="url(#b210)"/><path d="M74.9 359L79.8 341.5L86.4 338.6L81.3 356Z" fill="url(#b211)"/><path d="M135.2 364.5L141.9 360.2L147.6 357.1L140.8 361.4Z" fill="url(#b212)"/><path d="M86.4 338.6L92.6 346L99 343L92.8 335.7Z" fill="#ff0b00"/><path d="M123.1 370.6L129.4 367.6L135.2 364.5L128.8 367.6Z" fill="url(#b213)"/><path d="M99 343L105.2 373.8L111.2 370.7L105.2 340.1Z" fill="url(#b214)"/><path d="M175.3 387.6L179 414.4L183.9 411L180.4 384.4Z" fill="url(#b215)"/><path d="M111.2 370.7L117.2 373.8L123.1 370.6L117.1 367.6Z" fill="#ffdf00"/><path d="M165.3 370.1L170.1 390.9L175.3 387.6L170.6 367Z" fill="url(#b216)"/><path d="M191.3 407.2L197.7 411.6L202.5 408.2L196.1 403.9Z" fill="#37ff87"/><path d="M154.5 353.3L159.8 373.3L165.3 370.1L160.2 350.3Z" fill="url(#b217)"/><path d="M68.4 362.1L73.2 346.1L79.8 341.5L74.9 359Z" fill="url(#b218)"/><path d="M141.9 360.2L148.8 356.4L154.5 353.3L147.6 357.1Z" fill="url(#b219)"/><path d="M179 414.4L186.3 410.6L191.3 407.2L183.9 411Z" fill="url(#b220)"/><path d="M79.8 341.5L86 349L92.6 346L86.4 338.6Z" fill="#ff0b00"/><path d="M129.4 367.6L136 363.3L141.9 360.2L135.2 364.5Z" fill="url(#b221)"/><path d="M92.6 346L99.1 377L105.2 373.8L99 343Z" fill="url(#b222)"/><path d="M117.2 373.8L123.5 370.7L129.4 367.6L123.1 370.6Z" fill="url(#b223)"/><path d="M105.2 373.8L111.3 377L117.2 373.8L111.2 370.7Z" fill="#ffdf00"/><path d="M170.1 390.9L174 417.8L179 414.4L175.3 387.6Z" fill="url(#b224)"/><path d="M159.8 373.3L164.8 394.2L170.1 390.9L165.3 370.1Z" fill="url(#b225)"/><path d="M186.3 410.6L192.8 415L197.7 411.6L191.3 407.2Z" fill="#37ff87"/><path d="M148.8 356.4L154.3 376.5L159.8 373.3L154.5 353.3Z" fill="url(#b226)"/><path d="M73.2 346.1L79.1 345.5L86 349L79.8 341.5Z" fill="url(#b227)"/><path d="M136 363.3L142.9 359.5L148.8 356.4L141.9 360.2Z" fill="url(#b228)"/><path d="M86 349L92.9 380.3L99.1 377L92.6 346Z" fill="url(#b229)"/><path d="M123.5 370.7L130.1 366.5L136 363.3L129.4 367.6Z" fill="url(#b230)"/><path d="M174 417.8L181.3 414.1L186.3 410.6L179 414.4Z" fill="url(#b231)"/><path d="M99.1 377L105.1 380.2L111.3 377L105.2 373.8Z" fill="#ffdf00"/><path d="M111.3 377L117.5 373.9L123.5 370.7L117.2 373.8Z" fill="url(#b232)"/><path d="M164.8 394.2L168.9 421.3L174 417.8L170.1 390.9Z" fill="url(#b233)"/><path d="M154.3 376.5L159.4 397.6L164.8 394.2L159.8 373.3Z" fill="url(#b234)"/><path d="M181.3 414.1L187.8 418.6L192.8 415L186.3 410.6Z" fill="#37ff87"/><path d="M142.9 359.5L148.6 379.8L154.3 376.5L148.8 356.4Z" fill="url(#b235)"/><path d="M79.1 345.5L85.4 350.9L92.9 380.3L86 349Z" fill="url(#b236)"/><path d="M130.1 366.5L136.9 362.7L142.9 359.5L136 363.3Z" fill="url(#b237)"/><path d="M92.9 380.3L98.9 383.6L105.1 380.2L99.1 377Z" fill="#ffdf00"/><path d="M117.5 373.9L124 369.7L130.1 366.5L123.5 370.7Z" fill="url(#b238)"/><path d="M105.1 380.2L111.3 377.2L117.5 373.9L111.3 377Z" fill="url(#b239)"/><path d="M168.9 421.3L176.1 417.6L181.3 414.1L174 417.8Z" fill="url(#b240)"/><path d="M159.4 397.6L163.7 424.9L168.9 421.3L164.8 394.2Z" fill="url(#b241)"/><path d="M148.6 379.8L153.9 401.1L159.4 397.6L154.3 376.5Z" fill="url(#b242)"/><path d="M136.9 362.7L142.7 383.2L148.6 379.8L142.9 359.5Z" fill="url(#b243)"/><path d="M85.4 350.9L92.3 376.6L98.9 383.6L92.9 380.3Z" fill="url(#b244)"/><path d="M176.1 417.6L182.6 422.2L187.8 418.6L181.3 414.1Z" fill="#37ff87"/><path d="M124 369.7L130.8 366L136.9 362.7L130.1 366.5Z" fill="url(#b245)"/><path d="M98.9 383.6L105 380.6L111.3 377.2L105.1 380.2Z" fill="url(#b246)"/><path d="M111.3 377.2L117.8 373.1L124 369.7L117.5 373.9Z" fill="url(#b247)"/><path d="M163.7 424.9L170.9 421.2L176.1 417.6L168.9 421.3Z" fill="url(#b248)"/><path d="M153.9 401.1L158.3 428.5L163.7 424.9L159.4 397.6Z" fill="url(#b249)"/><path d="M142.7 383.2L148.2 404.6L153.9 401.1L148.6 379.8Z" fill="url(#b250)"/><path d="M130.8 366L136.7 386.7L142.7 383.2L136.9 362.7Z" fill="url(#b251)"/><path d="M92.3 376.6L98.6 387.1L105 380.6L98.9 383.6Z" fill="url(#b252)"/><path d="M117.8 373.1L124.5 369.3L130.8 366L124 369.7Z" fill="url(#b253)"/><path d="M105 380.6L111.4 376.5L117.8 373.1L111.3 377.2Z" fill="url(#b254)"/><path d="M170.9 421.2L177.4 425.9L182.6 422.2L176.1 417.6Z" fill="#37ff87"/><path d="M158.3 428.5L165.5 425L170.9 421.2L163.7 424.9Z" fill="url(#b255)"/><path d="M148.2 404.6L152.9 432.3L158.3 428.5L153.9 401.1Z" fill="url(#b256)"/><path d="M136.7 386.7L142.4 408.3L148.2 404.6L142.7 383.2Z" fill="url(#b257)"/><path d="M124.5 369.3L130.6 390.2L136.7 386.7L130.8 366Z" fill="url(#b258)"/><path d="M98.6 387.1L104.9 383L111.4 376.5L105 380.6Z" fill="url(#b259)"/><path d="M111.4 376.5L118.1 372.8L124.5 369.3L117.8 373.1Z" fill="url(#b260)"/><path d="M165.5 425L172.1 429.7L177.4 425.9L170.9 421.2Z" fill="#37ff87"/><path d="M152.9 432.3L160 428.7L165.5 425L158.3 428.5Z" fill="url(#b261)"/><path d="M142.4 408.3L147.3 436.1L152.9 432.3L148.2 404.6Z" fill="url(#b262)"/><path d="M130.6 390.2L136.5 412L142.4 408.3L136.7 386.7Z" fill="url(#b263)"/><path d="M118.1 372.8L124.4 393.8L130.6 390.2L124.5 369.3Z" fill="url(#b264)"/><path d="M104.9 383L111.5 376.3L118.1 372.8L111.4 376.5Z" fill="url(#b265)"/><path d="M160 428.7L166.6 433.6L172.1 429.7L165.5 425Z" fill="#37ff87"/><path d="M147.3 436.1L154.4 432.6L160 428.7L152.9 432.3Z" fill="url(#b266)"/><path d="M136.5 412L141.6 440L147.3 436.1L142.4 408.3Z" fill="url(#b267)"/><path d="M124.4 393.8L130.4 415.8L136.5 412L130.6 390.2Z" fill="url(#b268)"/><path d="M111.5 376.3L118 397.5L124.4 393.8L118.1 372.8Z" fill="url(#b269)"/><path d="M154.4 432.6L161 437.5L166.6 433.6L160 428.7Z" fill="#37ff87"/><path d="M141.6 440L148.7 436.6L154.4 432.6L147.3 436.1Z" fill="url(#b270)"/><path d="M130.4 415.8L135.8 444L141.6 440L136.5 412Z" fill="url(#b271)"/><path d="M118 397.5L124.2 419.7L130.4 415.8L124.4 393.8Z" fill="url(#b272)"/><path d="M148.7 436.6L155.3 441.6L161 437.5L154.4 432.6Z" fill="#37ff87"/><path d="M135.8 444L142.8 440.6L148.7 436.6L141.6 440Z" fill="url(#b273)"/><path d="M124.2 419.7L129.9 448.1L135.8 444L130.4 415.8Z" fill="url(#b274)"/><path d="M142.8 440.6L149.5 445.7L155.3 441.6L148.7 436.6Z" fill="#37ff87"/><path d="M129.9 448.1L136.8 444.8L142.8 440.6L135.8 444Z" fill="url(#b275)"/><path d="M136.8 444.8L143.5 450L149.5 445.7L142.8 440.6Z" fill="#37ff87"/></g><g font-size="12" fill="#444" dominant-baseline="central" text-anchor="middle"><text transform="translate(111.1 519.8) rotate(-38.4)">0.1</text><text transform="translate(170.2 519.9) rotate(35.8)">0.1</text><text transform="translate(99.4 510.6) rotate(-37.3)">0.2</text><text transform="translate(180.6 510.7) rotate(34.8)">0.2</text><text transform="translate(88.1 501.6) rotate(-36.1)">0.3</text><text transform="translate(190.5 501.8) rotate(34)">0.3</text><text transform="translate(77.2 493) rotate(-35.1)">0.4</text><text transform="translate(200.1 493.4) rotate(33.1)">0.4</text><text transform="translate(66.7 484.7) rotate(-34)">0.5</text><text transform="translate(209.2 485.2) rotate(32.3)">0.5</text><text transform="translate(56.5 476.7) rotate(-33.1)">0.6</text><text transform="translate(218 477.4) rotate(31.6)">0.6</text><text transform="translate(46.8 469) rotate(-32.1)">0.7</text><text transform="translate(226.5 469.9) rotate(30.8)">0.7</text><text transform="translate(37.3 461.6) rotate(-31.3)">0.8</text><text transform="translate(234.6 462.6) rotate(30.1)">0.8</text><text transform="translate(28.2 454.4) rotate(-30.4)">0.9</text><text transform="translate(242.5 455.7) rotate(29.5)">0.9</text></g><g font-size="12" fill="#444" dominant-baseline="central" text-anchor="end"><text transform="translate(36.8 422.5) rotate(-20)">−0.4</text><text transform="translate(32.8 388.6) rotate(-20)">−0.3</text><text transform="translate(28.3 350.4) rotate(-20)">−0.2</text></g><g font-size="12.5" fill="#444" text-anchor="middle" dominant-baseline="central"><text x="40" y="504">CO2</text><text x="240" y="504">REC</text></g><rect x="282.8" y="350.5" width="8.199999999999989" height="109.5" fill="url(#cbB)" stroke="#555" stroke-width="0.6"/><g stroke="#444" stroke-width="0.8"><path d="M291 371.4L293.5 371.4"/><path d="M291 406.7L293.5 406.7"/><path d="M291 442.7L293.5 442.7"/></g><g font-size="12.2" fill="#444" dominant-baseline="central"><text x="295.7" y="371.4">−0.2</text><text x="295.7" y="406.7">−0.3</text><text x="295.7" y="442.7">−0.4</text></g></g><rect x="0" y="268" width="343" height="24" fill="#fff"/><g><defs><linearGradient id="c1" gradientUnits="userSpaceOnUse" x1="139.6" y1="608.5" x2="136.4" y2="602"><stop offset="0" stop-color="#95ff03"/><stop offset="0.024" stop-color="#97ff00"/><stop offset="1" stop-color="#faeb00"/></linearGradient><linearGradient id="c2" gradientUnits="userSpaceOnUse" x1="144.9" y1="597.9" x2="142.3" y2="592.2"><stop offset="0" stop-color="#faeb00"/><stop offset="0.06" stop-color="#ffea00"/><stop offset="1" stop-color="#ff8800"/></linearGradient><linearGradient id="c3" gradientUnits="userSpaceOnUse" x1="135.6" y1="610.4" x2="132.4" y2="603.9"><stop offset="0" stop-color="#95ff03"/><stop offset="0.024" stop-color="#97ff00"/><stop offset="1" stop-color="#faeb00"/></linearGradient><linearGradient id="c4" gradientUnits="userSpaceOnUse" x1="151.5" y1="587.8" x2="147.5" y2="579.5"><stop offset="0" stop-color="#ff8800"/><stop offset="0.187" stop-color="#ff6f00"/><stop offset="1" stop-color="#ff0e00"/></linearGradient><linearGradient id="c5" gradientUnits="userSpaceOnUse" x1="140.9" y1="599.8" x2="138.2" y2="594.1"><stop offset="0" stop-color="#faeb00"/><stop offset="0.06" stop-color="#ffea00"/><stop offset="1" stop-color="#ff8800"/></linearGradient><linearGradient id="c6" gradientUnits="userSpaceOnUse" x1="131.6" y1="612.5" x2="128.3" y2="605.9"><stop offset="0" stop-color="#95ff03"/><stop offset="0.024" stop-color="#97ff00"/><stop offset="1" stop-color="#faeb00"/></linearGradient><linearGradient id="c7" gradientUnits="userSpaceOnUse" x1="147.2" y1="589.8" x2="143.5" y2="582.2"><stop offset="0" stop-color="#ff8800"/><stop offset="0.199" stop-color="#ff6f00"/><stop offset="1" stop-color="#ff1400"/></linearGradient><linearGradient id="c8" gradientUnits="userSpaceOnUse" x1="136.8" y1="601.8" x2="134.1" y2="596.1"><stop offset="0" stop-color="#faeb00"/><stop offset="0.06" stop-color="#ffea00"/><stop offset="1" stop-color="#ff8800"/></linearGradient><linearGradient id="c9" gradientUnits="userSpaceOnUse" x1="127.4" y1="614.5" x2="124.2" y2="607.9"><stop offset="0" stop-color="#95ff03"/><stop offset="0.024" stop-color="#97ff00"/><stop offset="1" stop-color="#faeb00"/></linearGradient><linearGradient id="c10" gradientUnits="userSpaceOnUse" x1="163.3" y1="589.2" x2="157.3" y2="576.4"><stop offset="0" stop-color="#ff5300"/><stop offset="0.924" stop-color="#ff0000"/><stop offset="1" stop-color="#ff0000"/></linearGradient><linearGradient id="c11" gradientUnits="userSpaceOnUse" x1="150.7" y1="578.1" x2="151.7" y2="579.6"><stop offset="0" stop-color="#ff1b00"/><stop offset="0.803" stop-color="#ff0000"/><stop offset="1" stop-color="#ff0000"/></linearGradient><linearGradient id="c12" gradientUnits="userSpaceOnUse" x1="142.9" y1="591.8" x2="139.4" y2="584.9"><stop offset="0" stop-color="#ff8800"/><stop offset="0.211" stop-color="#ff6f00"/><stop offset="1" stop-color="#ff1b00"/></linearGradient><linearGradient id="c13" gradientUnits="userSpaceOnUse" x1="132.6" y1="603.8" x2="129.9" y2="598"><stop offset="0" stop-color="#faeb00"/><stop offset="0.06" stop-color="#ffea00"/><stop offset="1" stop-color="#ff8800"/></linearGradient><linearGradient id="c14" gradientUnits="userSpaceOnUse" x1="123.3" y1="616.6" x2="120" y2="609.9"><stop offset="0" stop-color="#95ff03"/><stop offset="0.024" stop-color="#97ff00"/><stop offset="1" stop-color="#faeb00"/></linearGradient><linearGradient id="c15" gradientUnits="userSpaceOnUse" x1="159.2" y1="591.2" x2="153.2" y2="578.2"><stop offset="0" stop-color="#ff5300"/><stop offset="0.925" stop-color="#ff0000"/><stop offset="1" stop-color="#ff0000"/></linearGradient><linearGradient id="c16" gradientUnits="userSpaceOnUse" x1="143.2" y1="585.1" x2="150.2" y2="578.1"><stop offset="0" stop-color="#ff2200"/><stop offset="0.839" stop-color="#ff0000"/><stop offset="1" stop-color="#ff0000"/></linearGradient><linearGradient id="c17" gradientUnits="userSpaceOnUse" x1="138.4" y1="593.9" x2="135.3" y2="587.6"><stop offset="0" stop-color="#ff8800"/><stop offset="0.226" stop-color="#ff6f00"/><stop offset="1" stop-color="#ff2200"/></linearGradient><linearGradient id="c18" gradientUnits="userSpaceOnUse" x1="128.4" y1="605.8" x2="125.6" y2="600"><stop offset="0" stop-color="#faeb00"/><stop offset="0.06" stop-color="#ffea00"/><stop offset="1" stop-color="#ff8800"/></linearGradient><linearGradient id="c19" gradientUnits="userSpaceOnUse" x1="119" y1="618.7" x2="115.7" y2="611.9"><stop offset="0" stop-color="#95ff03"/><stop offset="0.024" stop-color="#97ff00"/><stop offset="1" stop-color="#faeb00"/></linearGradient><linearGradient id="c20" gradientUnits="userSpaceOnUse" x1="155" y1="593.2" x2="149" y2="580.1"><stop offset="0" stop-color="#ff5300"/><stop offset="0.927" stop-color="#ff0000"/><stop offset="1" stop-color="#ff0000"/></linearGradient><linearGradient id="c21" gradientUnits="userSpaceOnUse" x1="178.2" y1="598" x2="174" y2="589.8"><stop offset="0" stop-color="#ff6300"/><stop offset="1" stop-color="#ff3700"/></linearGradient><linearGradient id="c22" gradientUnits="userSpaceOnUse" x1="143" y1="584.3" x2="142.4" y2="583.1"><stop offset="0" stop-color="#ff2900"/><stop offset="0.864" stop-color="#ff0000"/><stop offset="1" stop-color="#ff0000"/></linearGradient><linearGradient id="c23" gradientUnits="userSpaceOnUse" x1="133.9" y1="596" x2="131.1" y2="590.4"><stop offset="0" stop-color="#ff8800"/><stop offset="0.243" stop-color="#ff6f00"/><stop offset="1" stop-color="#ff2900"/></linearGradient><linearGradient id="c24" gradientUnits="userSpaceOnUse" x1="124" y1="607.9" x2="121.3" y2="602"><stop offset="0" stop-color="#faeb00"/><stop offset="0.06" stop-color="#ffea00"/><stop offset="1" stop-color="#ff8800"/></linearGradient><linearGradient id="c25" gradientUnits="userSpaceOnUse" x1="114.7" y1="620.8" x2="111.4" y2="614"><stop offset="0" stop-color="#95ff03"/><stop offset="0.024" stop-color="#97ff00"/><stop offset="1" stop-color="#faeb00"/></linearGradient><linearGradient id="c26" gradientUnits="userSpaceOnUse" x1="184.1" y1="612" x2="177" y2="598.7"><stop offset="0" stop-color="#ffd100"/><stop offset="0.884" stop-color="#ff6f00"/><stop offset="1" stop-color="#ff6300"/></linearGradient><linearGradient id="c27" gradientUnits="userSpaceOnUse" x1="150.8" y1="595.2" x2="144.7" y2="582.1"><stop offset="0" stop-color="#ff5300"/><stop offset="0.928" stop-color="#ff0000"/><stop offset="1" stop-color="#ff0000"/></linearGradient><linearGradient id="c28" gradientUnits="userSpaceOnUse" x1="138.7" y1="587" x2="137.9" y2="585.3"><stop offset="0" stop-color="#ff3000"/><stop offset="0.884" stop-color="#ff0000"/><stop offset="1" stop-color="#ff0000"/></linearGradient><linearGradient id="c29" gradientUnits="userSpaceOnUse" x1="174.1" y1="600.1" x2="169.9" y2="591.8"><stop offset="0" stop-color="#ff6300"/><stop offset="1" stop-color="#ff3700"/></linearGradient><linearGradient id="c30" gradientUnits="userSpaceOnUse" x1="129.3" y1="598.1" x2="126.9" y2="593.2"><stop offset="0" stop-color="#ff8800"/><stop offset="0.262" stop-color="#ff6f00"/><stop offset="1" stop-color="#ff3000"/></linearGradient><linearGradient id="c31" gradientUnits="userSpaceOnUse" x1="119.6" y1="610" x2="116.8" y2="604.1"><stop offset="0" stop-color="#faeb00"/><stop offset="0.06" stop-color="#ffea00"/><stop offset="1" stop-color="#ff8800"/></linearGradient><linearGradient id="c32" gradientUnits="userSpaceOnUse" x1="187.7" y1="622.7" x2="182.1" y2="613.1"><stop offset="0" stop-color="#daf200"/><stop offset="0.636" stop-color="#ffea00"/><stop offset="1" stop-color="#ffd100"/></linearGradient><linearGradient id="c33" gradientUnits="userSpaceOnUse" x1="110.3" y1="623" x2="106.9" y2="616.2"><stop offset="0" stop-color="#95ff03"/><stop offset="0.024" stop-color="#97ff00"/><stop offset="1" stop-color="#faeb00"/></linearGradient><linearGradient id="c34" gradientUnits="userSpaceOnUse" x1="180.2" y1="614.2" x2="173" y2="600.7"><stop offset="0" stop-color="#ffd100"/><stop offset="0.884" stop-color="#ff6f00"/><stop offset="1" stop-color="#ff6300"/></linearGradient><linearGradient id="c35" gradientUnits="userSpaceOnUse" x1="146.5" y1="597.3" x2="140.3" y2="584.1"><stop offset="0" stop-color="#ff5300"/><stop offset="0.929" stop-color="#ff0000"/><stop offset="1" stop-color="#ff0000"/></linearGradient><linearGradient id="c36" gradientUnits="userSpaceOnUse" x1="134.5" y1="589.9" x2="133.2" y2="587.4"><stop offset="0" stop-color="#ff3700"/><stop offset="0.898" stop-color="#ff0000"/><stop offset="1" stop-color="#ff0000"/></linearGradient><linearGradient id="c37" gradientUnits="userSpaceOnUse" x1="192.1" y1="630.7" x2="187" y2="622.7"><stop offset="0" stop-color="#b0fa00"/><stop offset="1" stop-color="#dcf100"/></linearGradient><linearGradient id="c38" gradientUnits="userSpaceOnUse" x1="170" y1="602.2" x2="165.8" y2="593.8"><stop offset="0" stop-color="#ff6300"/><stop offset="1" stop-color="#ff3700"/></linearGradient><linearGradient id="c39" gradientUnits="userSpaceOnUse" x1="124.7" y1="600.3" x2="122.6" y2="596.1"><stop offset="0" stop-color="#ff8800"/><stop offset="0.285" stop-color="#ff6f00"/><stop offset="1" stop-color="#ff3700"/></linearGradient><linearGradient id="c40" gradientUnits="userSpaceOnUse" x1="115.2" y1="612.2" x2="112.3" y2="606.2"><stop offset="0" stop-color="#faeb00"/><stop offset="0.06" stop-color="#ffea00"/><stop offset="1" stop-color="#ff8800"/></linearGradient><linearGradient id="c41" gradientUnits="userSpaceOnUse" x1="105.8" y1="625.3" x2="102.4" y2="618.3"><stop offset="0" stop-color="#95ff03"/><stop offset="0.024" stop-color="#97ff00"/><stop offset="1" stop-color="#faeb00"/></linearGradient><linearGradient id="c42" gradientUnits="userSpaceOnUse" x1="183.8" y1="624.8" x2="178.2" y2="615.3"><stop offset="0" stop-color="#dcf100"/><stop offset="0.625" stop-color="#ffea00"/><stop offset="1" stop-color="#ffd100"/></linearGradient><linearGradient id="c43" gradientUnits="userSpaceOnUse" x1="176.1" y1="616.5" x2="168.8" y2="602.9"><stop offset="0" stop-color="#ffd100"/><stop offset="0.884" stop-color="#ff6f00"/><stop offset="1" stop-color="#ff6300"/></linearGradient><linearGradient id="c44" gradientUnits="userSpaceOnUse" x1="142.1" y1="599.4" x2="135.9" y2="586.1"><stop offset="0" stop-color="#ff5300"/><stop offset="0.931" stop-color="#ff0000"/><stop offset="1" stop-color="#ff0000"/></linearGradient><linearGradient id="c45" gradientUnits="userSpaceOnUse" x1="130.1" y1="592.8" x2="128.5" y2="589.5"><stop offset="0" stop-color="#ff3e00"/><stop offset="0.91" stop-color="#ff0000"/><stop offset="1" stop-color="#ff0000"/></linearGradient><linearGradient id="c46" gradientUnits="userSpaceOnUse" x1="119.9" y1="602.5" x2="118.2" y2="599"><stop offset="0" stop-color="#ff8800"/><stop offset="0.312" stop-color="#ff6f00"/><stop offset="1" stop-color="#ff3e00"/></linearGradient><linearGradient id="c47" gradientUnits="userSpaceOnUse" x1="165.8" y1="604.4" x2="161.6" y2="595.9"><stop offset="0" stop-color="#ff6300"/><stop offset="1" stop-color="#ff3700"/></linearGradient><linearGradient id="c48" gradientUnits="userSpaceOnUse" x1="188.3" y1="633" x2="183.1" y2="624.8"><stop offset="0" stop-color="#b1fa00"/><stop offset="1" stop-color="#ddf100"/></linearGradient><linearGradient id="c49" gradientUnits="userSpaceOnUse" x1="110.6" y1="614.4" x2="107.8" y2="608.3"><stop offset="0" stop-color="#faeb00"/><stop offset="0.06" stop-color="#ffea00"/><stop offset="1" stop-color="#ff8800"/></linearGradient><linearGradient id="c50" gradientUnits="userSpaceOnUse" x1="101.3" y1="627.5" x2="97.9" y2="620.5"><stop offset="0" stop-color="#95ff03"/><stop offset="0.024" stop-color="#97ff00"/><stop offset="1" stop-color="#faeb00"/></linearGradient><linearGradient id="c51" gradientUnits="userSpaceOnUse" x1="179.8" y1="626.9" x2="174.2" y2="617.5"><stop offset="0" stop-color="#ddf100"/><stop offset="0.613" stop-color="#ffea00"/><stop offset="1" stop-color="#ffd100"/></linearGradient><linearGradient id="c52" gradientUnits="userSpaceOnUse" x1="137.6" y1="601.6" x2="131.3" y2="588.1"><stop offset="0" stop-color="#ff5300"/><stop offset="0.932" stop-color="#ff0000"/><stop offset="1" stop-color="#ff0000"/></linearGradient><linearGradient id="c53" gradientUnits="userSpaceOnUse" x1="172" y1="618.7" x2="164.7" y2="605"><stop offset="0" stop-color="#ffd100"/><stop offset="0.884" stop-color="#ff6f00"/><stop offset="1" stop-color="#ff6300"/></linearGradient><linearGradient id="c54" gradientUnits="userSpaceOnUse" x1="125.7" y1="595.7" x2="123.7" y2="591.7"><stop offset="0" stop-color="#ff4400"/><stop offset="0.92" stop-color="#ff0000"/><stop offset="1" stop-color="#ff0000"/></linearGradient><linearGradient id="c55" gradientUnits="userSpaceOnUse" x1="210.3" y1="655.8" x2="199.2" y2="639.7"><stop offset="0" stop-color="#1fe1b5"/><stop offset="0.202" stop-color="#2cff96"/><stop offset="0.895" stop-color="#97ff00"/><stop offset="1" stop-color="#a7fc00"/></linearGradient><linearGradient id="c56" gradientUnits="userSpaceOnUse" x1="115.1" y1="604.7" x2="113.7" y2="602"><stop offset="0" stop-color="#ff8800"/><stop offset="0.345" stop-color="#ff6f00"/><stop offset="1" stop-color="#ff4400"/></linearGradient><linearGradient id="c57" gradientUnits="userSpaceOnUse" x1="106" y1="616.6" x2="103.1" y2="610.5"><stop offset="0" stop-color="#faeb00"/><stop offset="0.06" stop-color="#ffea00"/><stop offset="1" stop-color="#ff8800"/></linearGradient><linearGradient id="c58" gradientUnits="userSpaceOnUse" x1="96.6" y1="629.8" x2="93.2" y2="622.8"><stop offset="0" stop-color="#95ff03"/><stop offset="0.024" stop-color="#97ff00"/><stop offset="1" stop-color="#faeb00"/></linearGradient><linearGradient id="c59" gradientUnits="userSpaceOnUse" x1="161.6" y1="606.6" x2="157.2" y2="598"><stop offset="0" stop-color="#ff6300"/><stop offset="1" stop-color="#ff3700"/></linearGradient><linearGradient id="c60" gradientUnits="userSpaceOnUse" x1="184.4" y1="635.3" x2="179.1" y2="626.9"><stop offset="0" stop-color="#b1fa00"/><stop offset="1" stop-color="#dff000"/></linearGradient><linearGradient id="c61" gradientUnits="userSpaceOnUse" x1="175.7" y1="629.1" x2="170.2" y2="619.7"><stop offset="0" stop-color="#dff000"/><stop offset="0.6" stop-color="#ffea00"/><stop offset="1" stop-color="#ffd100"/></linearGradient><linearGradient id="c62" gradientUnits="userSpaceOnUse" x1="212.3" y1="670.8" x2="203.4" y2="660.1"><stop offset="0" stop-color="#0083ff"/><stop offset="0.18" stop-color="#0098ff"/><stop offset="1" stop-color="#21e6b0"/></linearGradient><linearGradient id="c63" gradientUnits="userSpaceOnUse" x1="135.6" y1="603.6" x2="127.1" y2="590.6"><stop offset="0" stop-color="#ff5300"/><stop offset="0.933" stop-color="#ff0000"/><stop offset="1" stop-color="#ff0000"/></linearGradient><linearGradient id="c64" gradientUnits="userSpaceOnUse" x1="167.8" y1="621.1" x2="160.4" y2="607.2"><stop offset="0" stop-color="#ffd100"/><stop offset="0.884" stop-color="#ff6f00"/><stop offset="1" stop-color="#ff6300"/></linearGradient><linearGradient id="c65" gradientUnits="userSpaceOnUse" x1="121.2" y1="598.7" x2="118.8" y2="593.9"><stop offset="0" stop-color="#ff4b00"/><stop offset="0.928" stop-color="#ff0000"/><stop offset="1" stop-color="#ff0000"/></linearGradient><linearGradient id="c66" gradientUnits="userSpaceOnUse" x1="110.2" y1="607" x2="109.2" y2="605"><stop offset="0" stop-color="#ff8800"/><stop offset="0.385" stop-color="#ff6f00"/><stop offset="1" stop-color="#ff4b00"/></linearGradient><linearGradient id="c67" gradientUnits="userSpaceOnUse" x1="91.9" y1="632.2" x2="88.5" y2="625"><stop offset="0" stop-color="#95ff03"/><stop offset="0.024" stop-color="#97ff00"/><stop offset="1" stop-color="#faeb00"/></linearGradient><linearGradient id="c68" gradientUnits="userSpaceOnUse" x1="101.3" y1="618.9" x2="98.4" y2="612.7"><stop offset="0" stop-color="#faeb00"/><stop offset="0.06" stop-color="#ffea00"/><stop offset="1" stop-color="#ff8800"/></linearGradient><linearGradient id="c69" gradientUnits="userSpaceOnUse" x1="206.5" y1="657.9" x2="195.5" y2="642.1"><stop offset="0" stop-color="#21e6b0"/><stop offset="0.175" stop-color="#2cff96"/><stop offset="0.892" stop-color="#97ff00"/><stop offset="1" stop-color="#a7fc00"/></linearGradient><linearGradient id="c70" gradientUnits="userSpaceOnUse" x1="216.3" y1="687.7" x2="206" y2="675.1"><stop offset="0" stop-color="#000fea"/><stop offset="0.306" stop-color="#0019ff"/><stop offset="1" stop-color="#0089ff"/></linearGradient><linearGradient id="c71" gradientUnits="userSpaceOnUse" x1="157.2" y1="608.8" x2="152.9" y2="600.2"><stop offset="0" stop-color="#ff6300"/><stop offset="1" stop-color="#ff3700"/></linearGradient><linearGradient id="c72" gradientUnits="userSpaceOnUse" x1="180.4" y1="637.6" x2="175" y2="629"><stop offset="0" stop-color="#b2fa00"/><stop offset="1" stop-color="#e1f000"/></linearGradient><linearGradient id="c73" gradientUnits="userSpaceOnUse" x1="135.6" y1="610.5" x2="134.5" y2="596.1"><stop offset="0" stop-color="#ff6f00"/><stop offset="0.003" stop-color="#ff6f00"/><stop offset="1" stop-color="#ff1a00"/></linearGradient><linearGradient id="c74" gradientUnits="userSpaceOnUse" x1="171.5" y1="631.3" x2="166" y2="622"><stop offset="0" stop-color="#e1f000"/><stop offset="0.586" stop-color="#ffea00"/><stop offset="1" stop-color="#ffd100"/></linearGradient><linearGradient id="c75" gradientUnits="userSpaceOnUse" x1="208.7" y1="672.9" x2="199.8" y2="662"><stop offset="0" stop-color="#0089ff"/><stop offset="0.127" stop-color="#0098ff"/><stop offset="1" stop-color="#23ebab"/></linearGradient><linearGradient id="c76" gradientUnits="userSpaceOnUse" x1="219.1" y1="706.8" x2="208.4" y2="693.7"><stop offset="0" stop-color="#760072"/><stop offset="0.551" stop-color="#0000c8"/><stop offset="1" stop-color="#0010eb"/></linearGradient><linearGradient id="c77" gradientUnits="userSpaceOnUse" x1="127.1" y1="599" x2="123.7" y2="591.6"><stop offset="0" stop-color="#ff1a00"/><stop offset="0.818" stop-color="#ff0000"/><stop offset="1" stop-color="#ff0000"/></linearGradient><linearGradient id="c78" gradientUnits="userSpaceOnUse" x1="116.6" y1="601.8" x2="113.8" y2="596.2"><stop offset="0" stop-color="#ff5200"/><stop offset="0.935" stop-color="#ff0000"/><stop offset="1" stop-color="#ff0000"/></linearGradient><linearGradient id="c79" gradientUnits="userSpaceOnUse" x1="87.1" y1="634.5" x2="83.6" y2="627.4"><stop offset="0" stop-color="#95ff03"/><stop offset="0.024" stop-color="#97ff00"/><stop offset="1" stop-color="#faeb00"/></linearGradient><linearGradient id="c80" gradientUnits="userSpaceOnUse" x1="105.3" y1="609.4" x2="104.6" y2="608"><stop offset="0" stop-color="#ff8800"/><stop offset="0.437" stop-color="#ff6f00"/><stop offset="1" stop-color="#ff5200"/></linearGradient><linearGradient id="c81" gradientUnits="userSpaceOnUse" x1="96.5" y1="621.2" x2="93.5" y2="615"><stop offset="0" stop-color="#faeb00"/><stop offset="0.06" stop-color="#ffea00"/><stop offset="1" stop-color="#ff8800"/></linearGradient><linearGradient id="c82" gradientUnits="userSpaceOnUse" x1="163.5" y1="623.4" x2="156.1" y2="609.5"><stop offset="0" stop-color="#ffd100"/><stop offset="0.884" stop-color="#ff6f00"/><stop offset="1" stop-color="#ff6300"/></linearGradient><linearGradient id="c83" gradientUnits="userSpaceOnUse" x1="202.6" y1="660.1" x2="191.8" y2="644.4"><stop offset="0" stop-color="#23ebab"/><stop offset="0.146" stop-color="#2cff96"/><stop offset="0.888" stop-color="#97ff00"/><stop offset="1" stop-color="#a7fc00"/></linearGradient><linearGradient id="c84" gradientUnits="userSpaceOnUse" x1="152.8" y1="611.1" x2="148.4" y2="602.4"><stop offset="0" stop-color="#ff6300"/><stop offset="1" stop-color="#ff3700"/></linearGradient><linearGradient id="c85" gradientUnits="userSpaceOnUse" x1="212.9" y1="690.1" x2="202.3" y2="677.2"><stop offset="0" stop-color="#0010eb"/><stop offset="0.278" stop-color="#0019ff"/><stop offset="1" stop-color="#008fff"/></linearGradient><linearGradient id="c86" gradientUnits="userSpaceOnUse" x1="176.4" y1="640" x2="170.8" y2="631.2"><stop offset="0" stop-color="#b2f900"/><stop offset="1" stop-color="#e3f000"/></linearGradient><linearGradient id="c87" gradientUnits="userSpaceOnUse" x1="135" y1="612.5" x2="143.5" y2="603.2"><stop offset="0" stop-color="#ff6f00"/><stop offset="0.005" stop-color="#ff6f00"/><stop offset="1" stop-color="#ff3700"/></linearGradient><linearGradient id="c88" gradientUnits="userSpaceOnUse" x1="133.6" y1="612.2" x2="127.2" y2="599"><stop offset="0" stop-color="#ff6f00"/><stop offset="0.003" stop-color="#ff6f00"/><stop offset="1" stop-color="#ff1a00"/></linearGradient><linearGradient id="c89" gradientUnits="userSpaceOnUse" x1="167.2" y1="633.5" x2="161.8" y2="624.4"><stop offset="0" stop-color="#e3f000"/><stop offset="0.571" stop-color="#ffea00"/><stop offset="1" stop-color="#ffd100"/></linearGradient><linearGradient id="c90" gradientUnits="userSpaceOnUse" x1="122.3" y1="601.2" x2="118.9" y2="593.7"><stop offset="0" stop-color="#ff1a00"/><stop offset="0.821" stop-color="#ff0000"/><stop offset="1" stop-color="#ff0000"/></linearGradient><linearGradient id="c91" gradientUnits="userSpaceOnUse" x1="82.3" y1="637" x2="78.7" y2="629.7"><stop offset="0" stop-color="#95ff03"/><stop offset="0.024" stop-color="#97ff00"/><stop offset="1" stop-color="#faeb00"/></linearGradient><linearGradient id="c92" gradientUnits="userSpaceOnUse" x1="111.9" y1="604.9" x2="108.8" y2="598.5"><stop offset="0" stop-color="#ff5900"/><stop offset="0.941" stop-color="#ff0000"/><stop offset="1" stop-color="#ff0000"/></linearGradient><linearGradient id="c93" gradientUnits="userSpaceOnUse" x1="91.6" y1="623.5" x2="88.6" y2="617.3"><stop offset="0" stop-color="#faeb00"/><stop offset="0.06" stop-color="#ffea00"/><stop offset="1" stop-color="#ff8800"/></linearGradient><linearGradient id="c94" gradientUnits="userSpaceOnUse" x1="205.1" y1="675" x2="196.1" y2="664"><stop offset="0" stop-color="#008fff"/><stop offset="0.074" stop-color="#0098ff"/><stop offset="1" stop-color="#25f0a6"/></linearGradient><linearGradient id="c95" gradientUnits="userSpaceOnUse" x1="100.3" y1="612.1" x2="99.7" y2="610.8"><stop offset="0" stop-color="#ff8800"/><stop offset="0.504" stop-color="#ff6f00"/><stop offset="1" stop-color="#ff5900"/></linearGradient><linearGradient id="c96" gradientUnits="userSpaceOnUse" x1="215.7" y1="709.6" x2="204.7" y2="696.2"><stop offset="0" stop-color="#770071"/><stop offset="0.541" stop-color="#0000c8"/><stop offset="1" stop-color="#0011ed"/></linearGradient><linearGradient id="c97" gradientUnits="userSpaceOnUse" x1="159.2" y1="625.8" x2="151.6" y2="611.8"><stop offset="0" stop-color="#ffd100"/><stop offset="0.884" stop-color="#ff6f00"/><stop offset="1" stop-color="#ff6300"/></linearGradient><linearGradient id="c98" gradientUnits="userSpaceOnUse" x1="147.3" y1="615.7" x2="144.5" y2="603.9"><stop offset="0" stop-color="#ff6f00"/><stop offset="0.005" stop-color="#ff6f00"/><stop offset="1" stop-color="#ff3700"/></linearGradient><linearGradient id="c99" gradientUnits="userSpaceOnUse" x1="198.6" y1="662.2" x2="188" y2="646.8"><stop offset="0" stop-color="#25f0a6"/><stop offset="0.114" stop-color="#2cff96"/><stop offset="0.884" stop-color="#97ff00"/><stop offset="1" stop-color="#a7fc00"/></linearGradient><linearGradient id="c100" gradientUnits="userSpaceOnUse" x1="172.2" y1="642.5" x2="166.6" y2="633.5"><stop offset="0" stop-color="#b3f900"/><stop offset="1" stop-color="#e4ef00"/></linearGradient><linearGradient id="c101" gradientUnits="userSpaceOnUse" x1="135.8" y1="611" x2="135.7" y2="610.9"><stop offset="0" stop-color="#ff6f00"/><stop offset="0.007" stop-color="#ff6f00"/><stop offset="1" stop-color="#ff4800"/></linearGradient><linearGradient id="c102" gradientUnits="userSpaceOnUse" x1="209.3" y1="692.5" x2="198.6" y2="679.4"><stop offset="0" stop-color="#0011ed"/><stop offset="0.25" stop-color="#0019ff"/><stop offset="1" stop-color="#0096ff"/></linearGradient><linearGradient id="c103" gradientUnits="userSpaceOnUse" x1="128.9" y1="614.5" x2="122.5" y2="601.2"><stop offset="0" stop-color="#ff6f00"/><stop offset="0.003" stop-color="#ff6f00"/><stop offset="1" stop-color="#ff1a00"/></linearGradient><linearGradient id="c104" gradientUnits="userSpaceOnUse" x1="77.3" y1="639.4" x2="73.7" y2="632.1"><stop offset="0" stop-color="#95ff03"/><stop offset="0.024" stop-color="#97ff00"/><stop offset="1" stop-color="#faeb00"/></linearGradient><linearGradient id="c105" gradientUnits="userSpaceOnUse" x1="117.4" y1="603.5" x2="114" y2="595.9"><stop offset="0" stop-color="#ff1a00"/><stop offset="0.825" stop-color="#ff0000"/><stop offset="1" stop-color="#ff0000"/></linearGradient><linearGradient id="c106" gradientUnits="userSpaceOnUse" x1="86.6" y1="625.9" x2="83.6" y2="619.6"><stop offset="0" stop-color="#faeb00"/><stop offset="0.06" stop-color="#ffea00"/><stop offset="1" stop-color="#ff8800"/></linearGradient><linearGradient id="c107" gradientUnits="userSpaceOnUse" x1="162.9" y1="635.8" x2="157.5" y2="626.7"><stop offset="0" stop-color="#e4ef00"/><stop offset="0.556" stop-color="#ffea00"/><stop offset="1" stop-color="#ffd100"/></linearGradient><linearGradient id="c108" gradientUnits="userSpaceOnUse" x1="107.2" y1="608" x2="103.7" y2="600.8"><stop offset="0" stop-color="#ff6000"/><stop offset="0.946" stop-color="#ff0000"/><stop offset="1" stop-color="#ff0000"/></linearGradient><linearGradient id="c109" gradientUnits="userSpaceOnUse" x1="94.7" y1="613.7" x2="95.6" y2="615"><stop offset="0" stop-color="#ff8800"/><stop offset="0.595" stop-color="#ff6f00"/><stop offset="1" stop-color="#ff6000"/></linearGradient><linearGradient id="c110" gradientUnits="userSpaceOnUse" x1="201.3" y1="677.1" x2="192.3" y2="666"><stop offset="0" stop-color="#0096ff"/><stop offset="0.02" stop-color="#0098ff"/><stop offset="1" stop-color="#28f5a1"/></linearGradient><linearGradient id="c111" gradientUnits="userSpaceOnUse" x1="154.9" y1="628.6" x2="147.1" y2="613.8"><stop offset="0" stop-color="#ffd100"/><stop offset="0.884" stop-color="#ff6f00"/><stop offset="1" stop-color="#ff6300"/></linearGradient><linearGradient id="c112" gradientUnits="userSpaceOnUse" x1="212.3" y1="712.6" x2="201" y2="698.8"><stop offset="0" stop-color="#780070"/><stop offset="0.532" stop-color="#0000c8"/><stop offset="1" stop-color="#0012ef"/></linearGradient><linearGradient id="c113" gradientUnits="userSpaceOnUse" x1="175.1" y1="653.3" x2="174.4" y2="642.5"><stop offset="0" stop-color="#84ff1a"/><stop offset="0.392" stop-color="#97ff00"/><stop offset="1" stop-color="#b3f900"/></linearGradient><linearGradient id="c114" gradientUnits="userSpaceOnUse" x1="143.4" y1="617.5" x2="139.2" y2="609.2"><stop offset="0" stop-color="#ff6f00"/><stop offset="0.007" stop-color="#ff6f00"/><stop offset="1" stop-color="#ff4800"/></linearGradient><linearGradient id="c115" gradientUnits="userSpaceOnUse" x1="131.1" y1="613.4" x2="131" y2="613.3"><stop offset="0" stop-color="#ff6f00"/><stop offset="0.007" stop-color="#ff6f00"/><stop offset="1" stop-color="#ff4800"/></linearGradient><linearGradient id="c116" gradientUnits="userSpaceOnUse" x1="194.6" y1="664.5" x2="184.1" y2="649.3"><stop offset="0" stop-color="#28f5a1"/><stop offset="0.08" stop-color="#2cff96"/><stop offset="0.879" stop-color="#97ff00"/><stop offset="1" stop-color="#a7fc00"/></linearGradient><linearGradient id="c117" gradientUnits="userSpaceOnUse" x1="168" y1="644.9" x2="162.3" y2="635.7"><stop offset="0" stop-color="#b3f900"/><stop offset="1" stop-color="#e6ef00"/></linearGradient><linearGradient id="c118" gradientUnits="userSpaceOnUse" x1="72.2" y1="641.9" x2="68.6" y2="634.6"><stop offset="0" stop-color="#95ff03"/><stop offset="0.024" stop-color="#97ff00"/><stop offset="1" stop-color="#faeb00"/></linearGradient><linearGradient id="c119" gradientUnits="userSpaceOnUse" x1="124.1" y1="616.9" x2="117.6" y2="603.4"><stop offset="0" stop-color="#ff6f00"/><stop offset="0.003" stop-color="#ff6f00"/><stop offset="1" stop-color="#ff1a00"/></linearGradient><linearGradient id="c120" gradientUnits="userSpaceOnUse" x1="205.7" y1="695" x2="194.8" y2="681.5"><stop offset="0" stop-color="#0012ef"/><stop offset="0.224" stop-color="#0019ff"/><stop offset="0.977" stop-color="#0098ff"/><stop offset="1" stop-color="#019bfc"/></linearGradient><linearGradient id="c121" gradientUnits="userSpaceOnUse" x1="81.5" y1="628.4" x2="78.5" y2="622"><stop offset="0" stop-color="#faeb00"/><stop offset="0.06" stop-color="#ffea00"/><stop offset="1" stop-color="#ff8800"/></linearGradient><linearGradient id="c122" gradientUnits="userSpaceOnUse" x1="112.5" y1="605.8" x2="109" y2="598.2"><stop offset="0" stop-color="#ff1a00"/><stop offset="0.828" stop-color="#ff0000"/><stop offset="1" stop-color="#ff0000"/></linearGradient><linearGradient id="c123" gradientUnits="userSpaceOnUse" x1="102.3" y1="611.2" x2="98.4" y2="603.1"><stop offset="0" stop-color="#ff6700"/><stop offset="0.951" stop-color="#ff0000"/><stop offset="1" stop-color="#ff0000"/></linearGradient><linearGradient id="c124" gradientUnits="userSpaceOnUse" x1="159.2" y1="637.5" x2="151.7" y2="627.7"><stop offset="0" stop-color="#e6ef00"/><stop offset="0.418" stop-color="#ffea00"/><stop offset="1" stop-color="#ffc100"/></linearGradient><linearGradient id="c125" gradientUnits="userSpaceOnUse" x1="178.1" y1="660.2" x2="181.2" y2="646.2"><stop offset="0" stop-color="#60ff4e"/><stop offset="0.74" stop-color="#97ff00"/><stop offset="1" stop-color="#aafb00"/></linearGradient><linearGradient id="c126" gradientUnits="userSpaceOnUse" x1="149.5" y1="629.4" x2="143.3" y2="617.6"><stop offset="0" stop-color="#ffc100"/><stop offset="1" stop-color="#ff6f00"/></linearGradient><linearGradient id="c127" gradientUnits="userSpaceOnUse" x1="197.5" y1="679.3" x2="188.4" y2="668.1"><stop offset="0" stop-color="#019bfc"/><stop offset="1" stop-color="#2afa9c"/></linearGradient><linearGradient id="c128" gradientUnits="userSpaceOnUse" x1="208.7" y1="715.6" x2="197.2" y2="701.5"><stop offset="0" stop-color="#79006f"/><stop offset="0.523" stop-color="#0000c8"/><stop offset="1" stop-color="#0012f0"/></linearGradient><linearGradient id="c129" gradientUnits="userSpaceOnUse" x1="173.7" y1="654" x2="167.2" y2="645.4"><stop offset="0" stop-color="#84ff1a"/><stop offset="0.388" stop-color="#97ff00"/><stop offset="1" stop-color="#b4f900"/></linearGradient><linearGradient id="c130" gradientUnits="userSpaceOnUse" x1="138.8" y1="620" x2="134.5" y2="611.5"><stop offset="0" stop-color="#ff6f00"/><stop offset="0.007" stop-color="#ff6f00"/><stop offset="1" stop-color="#ff4800"/></linearGradient><linearGradient id="c131" gradientUnits="userSpaceOnUse" x1="67.1" y1="644.5" x2="63.4" y2="637.1"><stop offset="0" stop-color="#95ff03"/><stop offset="0.024" stop-color="#97ff00"/><stop offset="1" stop-color="#faeb00"/></linearGradient><linearGradient id="c132" gradientUnits="userSpaceOnUse" x1="126.3" y1="615.8" x2="126.2" y2="615.6"><stop offset="0" stop-color="#ff6f00"/><stop offset="0.007" stop-color="#ff6f00"/><stop offset="1" stop-color="#ff4800"/></linearGradient><linearGradient id="c133" gradientUnits="userSpaceOnUse" x1="76.4" y1="630.9" x2="73.3" y2="624.4"><stop offset="0" stop-color="#faeb00"/><stop offset="0.06" stop-color="#ffea00"/><stop offset="1" stop-color="#ff8800"/></linearGradient><linearGradient id="c134" gradientUnits="userSpaceOnUse" x1="119.2" y1="619.3" x2="112.7" y2="605.7"><stop offset="0" stop-color="#ff6f00"/><stop offset="0.003" stop-color="#ff6f00"/><stop offset="1" stop-color="#ff1a00"/></linearGradient><linearGradient id="c135" gradientUnits="userSpaceOnUse" x1="186.6" y1="669.1" x2="182" y2="648.6"><stop offset="0" stop-color="#2afa9c"/><stop offset="0.044" stop-color="#2cff96"/><stop offset="0.875" stop-color="#97ff00"/><stop offset="1" stop-color="#a7fc00"/></linearGradient><linearGradient id="c136" gradientUnits="userSpaceOnUse" x1="163.8" y1="647.5" x2="157.9" y2="638.1"><stop offset="0" stop-color="#b4f900"/><stop offset="1" stop-color="#e8ef00"/></linearGradient><linearGradient id="c137" gradientUnits="userSpaceOnUse" x1="107.4" y1="608.2" x2="103.9" y2="600.5"><stop offset="0" stop-color="#ff1a00"/><stop offset="0.831" stop-color="#ff0000"/><stop offset="1" stop-color="#ff0000"/></linearGradient><linearGradient id="c138" gradientUnits="userSpaceOnUse" x1="97.4" y1="614.5" x2="93.1" y2="605.5"><stop offset="0" stop-color="#ff6d00"/><stop offset="0.955" stop-color="#ff0000"/><stop offset="1" stop-color="#ff0000"/></linearGradient><linearGradient id="c139" gradientUnits="userSpaceOnUse" x1="202.1" y1="697.5" x2="191" y2="683.8"><stop offset="0" stop-color="#0012f0"/><stop offset="0.198" stop-color="#0019ff"/><stop offset="0.941" stop-color="#0098ff"/><stop offset="1" stop-color="#04a0f7"/></linearGradient><linearGradient id="c140" gradientUnits="userSpaceOnUse" x1="154.4" y1="640.2" x2="148.4" y2="630"><stop offset="0" stop-color="#e8ef00"/><stop offset="0.4" stop-color="#ffea00"/><stop offset="1" stop-color="#ffc100"/></linearGradient><linearGradient id="c141" gradientUnits="userSpaceOnUse" x1="179.4" y1="661.1" x2="171.5" y2="653.8"><stop offset="0" stop-color="#60ff4e"/><stop offset="1" stop-color="#8bff10"/></linearGradient><linearGradient id="c142" gradientUnits="userSpaceOnUse" x1="144.9" y1="631.9" x2="138.6" y2="620.1"><stop offset="0" stop-color="#ffc100"/><stop offset="1" stop-color="#ff6f00"/></linearGradient><linearGradient id="c143" gradientUnits="userSpaceOnUse" x1="61.8" y1="647.1" x2="58.2" y2="639.6"><stop offset="0" stop-color="#95ff03"/><stop offset="0.024" stop-color="#97ff00"/><stop offset="1" stop-color="#faeb00"/></linearGradient><linearGradient id="c144" gradientUnits="userSpaceOnUse" x1="193.7" y1="681.6" x2="184.5" y2="670.2"><stop offset="0" stop-color="#04a0f7"/><stop offset="1" stop-color="#2cfe97"/></linearGradient><linearGradient id="c145" gradientUnits="userSpaceOnUse" x1="134" y1="622.4" x2="129.7" y2="613.9"><stop offset="0" stop-color="#ff6f00"/><stop offset="0.007" stop-color="#ff6f00"/><stop offset="1" stop-color="#ff4800"/></linearGradient><linearGradient id="c146" gradientUnits="userSpaceOnUse" x1="169.4" y1="655.9" x2="163.1" y2="647.8"><stop offset="0" stop-color="#8bff10"/><stop offset="0.276" stop-color="#97ff00"/><stop offset="1" stop-color="#b5f900"/></linearGradient><linearGradient id="c147" gradientUnits="userSpaceOnUse" x1="71.1" y1="633.4" x2="68" y2="626.9"><stop offset="0" stop-color="#faeb00"/><stop offset="0.06" stop-color="#ffea00"/><stop offset="1" stop-color="#ff8800"/></linearGradient><linearGradient id="c148" gradientUnits="userSpaceOnUse" x1="205.2" y1="718.6" x2="193.3" y2="704.1"><stop offset="0" stop-color="#7a006f"/><stop offset="0.515" stop-color="#0000c8"/><stop offset="1" stop-color="#0013f2"/></linearGradient><linearGradient id="c149" gradientUnits="userSpaceOnUse" x1="121.4" y1="618.2" x2="121.3" y2="618.1"><stop offset="0" stop-color="#ff6f00"/><stop offset="0.007" stop-color="#ff6f00"/><stop offset="1" stop-color="#ff4800"/></linearGradient><linearGradient id="c150" gradientUnits="userSpaceOnUse" x1="114.2" y1="621.8" x2="107.6" y2="608.1"><stop offset="0" stop-color="#ff6f00"/><stop offset="0.003" stop-color="#ff6f00"/><stop offset="1" stop-color="#ff1a00"/></linearGradient><linearGradient id="c151" gradientUnits="userSpaceOnUse" x1="92.4" y1="617.8" x2="87.7" y2="608"><stop offset="0" stop-color="#ff7500"/><stop offset="0.044" stop-color="#ff6f00"/><stop offset="0.958" stop-color="#ff0000"/><stop offset="1" stop-color="#ff0000"/></linearGradient><linearGradient id="c152" gradientUnits="userSpaceOnUse" x1="104.2" y1="611.1" x2="98.2" y2="603.1"><stop offset="0" stop-color="#ff1a00"/><stop offset="0.835" stop-color="#ff0000"/><stop offset="1" stop-color="#ff0000"/></linearGradient><linearGradient id="c153" gradientUnits="userSpaceOnUse" x1="159.4" y1="650" x2="153.4" y2="640.4"><stop offset="0" stop-color="#b5f900"/><stop offset="1" stop-color="#eaee00"/></linearGradient><linearGradient id="c154" gradientUnits="userSpaceOnUse" x1="184.4" y1="670.3" x2="176.5" y2="661.5"><stop offset="0" stop-color="#2cfe97"/><stop offset="0.009" stop-color="#2cff96"/><stop offset="1" stop-color="#67ff43"/></linearGradient><linearGradient id="c155" gradientUnits="userSpaceOnUse" x1="198.3" y1="700.1" x2="187" y2="686.1"><stop offset="0" stop-color="#0013f2"/><stop offset="0.173" stop-color="#0019ff"/><stop offset="0.906" stop-color="#0098ff"/><stop offset="1" stop-color="#06a5f1"/></linearGradient><linearGradient id="c156" gradientUnits="userSpaceOnUse" x1="149.8" y1="642.7" x2="143.9" y2="632.5"><stop offset="0" stop-color="#eaee00"/><stop offset="0.381" stop-color="#ffea00"/><stop offset="1" stop-color="#ffc100"/></linearGradient><linearGradient id="c157" gradientUnits="userSpaceOnUse" x1="175.2" y1="662.9" x2="167.3" y2="655.5"><stop offset="0" stop-color="#67ff43"/><stop offset="1" stop-color="#93ff06"/></linearGradient><linearGradient id="c158" gradientUnits="userSpaceOnUse" x1="140.2" y1="634.5" x2="133.8" y2="622.5"><stop offset="0" stop-color="#ffc100"/><stop offset="1" stop-color="#ff6f00"/></linearGradient><linearGradient id="c159" gradientUnits="userSpaceOnUse" x1="65.7" y1="636" x2="62.6" y2="629.4"><stop offset="0" stop-color="#faeb00"/><stop offset="0.06" stop-color="#ffea00"/><stop offset="1" stop-color="#ff8800"/></linearGradient><linearGradient id="c160" gradientUnits="userSpaceOnUse" x1="129.1" y1="625" x2="124.8" y2="616.4"><stop offset="0" stop-color="#ff6f00"/><stop offset="0.007" stop-color="#ff6f00"/><stop offset="1" stop-color="#ff4800"/></linearGradient><linearGradient id="c161" gradientUnits="userSpaceOnUse" x1="189.7" y1="683.9" x2="180.5" y2="672.4"><stop offset="0" stop-color="#06a5f1"/><stop offset="0.953" stop-color="#2cff96"/><stop offset="1" stop-color="#31ff90"/></linearGradient><linearGradient id="c162" gradientUnits="userSpaceOnUse" x1="116.4" y1="620.7" x2="116.4" y2="620.6"><stop offset="0" stop-color="#ff6f00"/><stop offset="0.007" stop-color="#ff6f00"/><stop offset="1" stop-color="#ff4800"/></linearGradient><linearGradient id="c163" gradientUnits="userSpaceOnUse" x1="165.1" y1="657.9" x2="158.8" y2="650.3"><stop offset="0" stop-color="#93ff06"/><stop offset="0.122" stop-color="#97ff00"/><stop offset="1" stop-color="#b5f900"/></linearGradient><linearGradient id="c164" gradientUnits="userSpaceOnUse" x1="87.3" y1="621.1" x2="82.2" y2="610.5"><stop offset="0" stop-color="#ff7c00"/><stop offset="0.095" stop-color="#ff6f00"/><stop offset="0.962" stop-color="#ff0000"/><stop offset="1" stop-color="#ff0000"/></linearGradient><linearGradient id="c165" gradientUnits="userSpaceOnUse" x1="112.1" y1="622.9" x2="100.6" y2="609.8"><stop offset="0" stop-color="#ff6f00"/><stop offset="0.003" stop-color="#ff6f00"/><stop offset="1" stop-color="#ff0c00"/></linearGradient><linearGradient id="c166" gradientUnits="userSpaceOnUse" x1="201.5" y1="721.7" x2="189.4" y2="706.8"><stop offset="0" stop-color="#7b006e"/><stop offset="0.507" stop-color="#0000c8"/><stop offset="1" stop-color="#0014f4"/></linearGradient><linearGradient id="c167" gradientUnits="userSpaceOnUse" x1="154.9" y1="652.7" x2="148.8" y2="642.8"><stop offset="0" stop-color="#b5f900"/><stop offset="1" stop-color="#ebee00"/></linearGradient><linearGradient id="c168" gradientUnits="userSpaceOnUse" x1="180.3" y1="672.4" x2="172.3" y2="663.4"><stop offset="0" stop-color="#31ff90"/><stop offset="1" stop-color="#6fff38"/></linearGradient><linearGradient id="c169" gradientUnits="userSpaceOnUse" x1="145.2" y1="645.1" x2="139.2" y2="635"><stop offset="0" stop-color="#ebee00"/><stop offset="0.361" stop-color="#ffea00"/><stop offset="1" stop-color="#ffc100"/></linearGradient><linearGradient id="c170" gradientUnits="userSpaceOnUse" x1="194.5" y1="702.7" x2="183" y2="688.4"><stop offset="0" stop-color="#0014f4"/><stop offset="0.148" stop-color="#0019ff"/><stop offset="0.871" stop-color="#0098ff"/><stop offset="1" stop-color="#08aaec"/></linearGradient><linearGradient id="c171" gradientUnits="userSpaceOnUse" x1="135.4" y1="637.1" x2="129" y2="625.1"><stop offset="0" stop-color="#ffc100"/><stop offset="1" stop-color="#ff6f00"/></linearGradient><linearGradient id="c172" gradientUnits="userSpaceOnUse" x1="171" y1="664.7" x2="163" y2="657.2"><stop offset="0" stop-color="#6fff38"/><stop offset="0.93" stop-color="#97ff00"/><stop offset="1" stop-color="#9afe00"/></linearGradient><linearGradient id="c173" gradientUnits="userSpaceOnUse" x1="124.2" y1="627.5" x2="119.8" y2="618.9"><stop offset="0" stop-color="#ff6f00"/><stop offset="0.007" stop-color="#ff6f00"/><stop offset="1" stop-color="#ff4800"/></linearGradient><linearGradient id="c174" gradientUnits="userSpaceOnUse" x1="82.1" y1="624.6" x2="76.5" y2="613"><stop offset="0" stop-color="#ff8400"/><stop offset="0.141" stop-color="#ff6f00"/><stop offset="0.964" stop-color="#ff0000"/><stop offset="1" stop-color="#ff0000"/></linearGradient><linearGradient id="c175" gradientUnits="userSpaceOnUse" x1="110.8" y1="634.4" x2="111.5" y2="619"><stop offset="0" stop-color="#ffa200"/><stop offset="0.537" stop-color="#ff6f00"/><stop offset="1" stop-color="#ff4800"/></linearGradient><linearGradient id="c176" gradientUnits="userSpaceOnUse" x1="103.6" y1="622.8" x2="97.8" y2="610.6"><stop offset="0" stop-color="#ff5000"/><stop offset="1" stop-color="#ff0c00"/></linearGradient><linearGradient id="c177" gradientUnits="userSpaceOnUse" x1="185.7" y1="686.2" x2="176.3" y2="674.6"><stop offset="0" stop-color="#08aaec"/><stop offset="0.901" stop-color="#2cff96"/><stop offset="1" stop-color="#36ff88"/></linearGradient><linearGradient id="c178" gradientUnits="userSpaceOnUse" x1="197.8" y1="724.8" x2="185.4" y2="709.6"><stop offset="0" stop-color="#7c006d"/><stop offset="0.499" stop-color="#0000c8"/><stop offset="1" stop-color="#0015f5"/></linearGradient><linearGradient id="c179" gradientUnits="userSpaceOnUse" x1="150.4" y1="655.3" x2="144.2" y2="645.3"><stop offset="0" stop-color="#b6f900"/><stop offset="1" stop-color="#edee00"/></linearGradient><linearGradient id="c180" gradientUnits="userSpaceOnUse" x1="176.2" y1="674.7" x2="168" y2="665.2"><stop offset="0" stop-color="#36ff88"/><stop offset="1" stop-color="#76ff2e"/></linearGradient><linearGradient id="c181" gradientUnits="userSpaceOnUse" x1="140.4" y1="647.6" x2="134.5" y2="637.6"><stop offset="0" stop-color="#edee00"/><stop offset="0.339" stop-color="#ffea00"/><stop offset="1" stop-color="#ffc100"/></linearGradient><linearGradient id="c182" gradientUnits="userSpaceOnUse" x1="130.5" y1="639.8" x2="124" y2="627.6"><stop offset="0" stop-color="#ffc100"/><stop offset="1" stop-color="#ff6f00"/></linearGradient><linearGradient id="c183" gradientUnits="userSpaceOnUse" x1="190.6" y1="705.4" x2="178.9" y2="690.7"><stop offset="0" stop-color="#0015f5"/><stop offset="0.124" stop-color="#0019ff"/><stop offset="0.838" stop-color="#0098ff"/><stop offset="1" stop-color="#0aafe7"/></linearGradient><linearGradient id="c184" gradientUnits="userSpaceOnUse" x1="76.8" y1="628" x2="70.8" y2="615.6"><stop offset="0" stop-color="#ff8c00"/><stop offset="0.183" stop-color="#ff6f00"/><stop offset="0.967" stop-color="#ff0000"/><stop offset="1" stop-color="#ff0000"/></linearGradient><linearGradient id="c185" gradientUnits="userSpaceOnUse" x1="166.7" y1="666.6" x2="158.6" y2="659"><stop offset="0" stop-color="#76ff2e"/><stop offset="0.76" stop-color="#97ff00"/><stop offset="1" stop-color="#a1fd00"/></linearGradient><linearGradient id="c186" gradientUnits="userSpaceOnUse" x1="114.9" y1="636.8" x2="118.3" y2="621.6"><stop offset="0" stop-color="#ffa200"/><stop offset="0.537" stop-color="#ff6f00"/><stop offset="1" stop-color="#ff4800"/></linearGradient><linearGradient id="c187" gradientUnits="userSpaceOnUse" x1="109.3" y1="635.9" x2="102.8" y2="623.1"><stop offset="0" stop-color="#ffa200"/><stop offset="0.596" stop-color="#ff6f00"/><stop offset="1" stop-color="#ff5000"/></linearGradient><linearGradient id="c188" gradientUnits="userSpaceOnUse" x1="98.3" y1="625.4" x2="92.4" y2="613.1"><stop offset="0" stop-color="#ff5000"/><stop offset="1" stop-color="#ff0c00"/></linearGradient><linearGradient id="c189" gradientUnits="userSpaceOnUse" x1="181.6" y1="688.6" x2="172.2" y2="676.8"><stop offset="0" stop-color="#0aafe7"/><stop offset="0.848" stop-color="#2cff96"/><stop offset="1" stop-color="#3bff81"/></linearGradient><linearGradient id="c190" gradientUnits="userSpaceOnUse" x1="145.8" y1="658.1" x2="139.4" y2="647.8"><stop offset="0" stop-color="#b6f900"/><stop offset="1" stop-color="#efed00"/></linearGradient><linearGradient id="c191" gradientUnits="userSpaceOnUse" x1="194" y1="728.1" x2="181.3" y2="712.4"><stop offset="0" stop-color="#7d006d"/><stop offset="0.492" stop-color="#0000c8"/><stop offset="1" stop-color="#0015f7"/></linearGradient><linearGradient id="c192" gradientUnits="userSpaceOnUse" x1="172" y1="676.9" x2="163.6" y2="667.2"><stop offset="0" stop-color="#3bff81"/><stop offset="1" stop-color="#7eff23"/></linearGradient><linearGradient id="c193" gradientUnits="userSpaceOnUse" x1="135.5" y1="650.2" x2="129.7" y2="640.3"><stop offset="0" stop-color="#efed00"/><stop offset="0.316" stop-color="#ffea00"/><stop offset="1" stop-color="#ffc100"/></linearGradient><linearGradient id="c194" gradientUnits="userSpaceOnUse" x1="127.8" y1="641.1" x2="116.6" y2="628.9"><stop offset="0" stop-color="#ffc100"/><stop offset="0.791" stop-color="#ff6f00"/><stop offset="1" stop-color="#ff5b00"/></linearGradient><linearGradient id="c195" gradientUnits="userSpaceOnUse" x1="112.3" y1="634.3" x2="110.9" y2="631.6"><stop offset="0" stop-color="#ffa200"/><stop offset="0.7" stop-color="#ff6f00"/><stop offset="1" stop-color="#ff5b00"/></linearGradient><linearGradient id="c196" gradientUnits="userSpaceOnUse" x1="92.8" y1="628" x2="87" y2="615.6"><stop offset="0" stop-color="#ff5000"/><stop offset="1" stop-color="#ff0c00"/></linearGradient><linearGradient id="c197" gradientUnits="userSpaceOnUse" x1="104.1" y1="638.7" x2="97.5" y2="625.7"><stop offset="0" stop-color="#ffa200"/><stop offset="0.596" stop-color="#ff6f00"/><stop offset="1" stop-color="#ff5000"/></linearGradient><linearGradient id="c198" gradientUnits="userSpaceOnUse" x1="186.7" y1="708.1" x2="174.7" y2="693.2"><stop offset="0" stop-color="#0015f7"/><stop offset="0.101" stop-color="#0019ff"/><stop offset="0.805" stop-color="#0098ff"/><stop offset="1" stop-color="#0cb4e2"/></linearGradient><linearGradient id="c199" gradientUnits="userSpaceOnUse" x1="162.3" y1="668.5" x2="154.2" y2="660.9"><stop offset="0" stop-color="#7eff23"/><stop offset="0.586" stop-color="#97ff00"/><stop offset="1" stop-color="#a8fc00"/></linearGradient><linearGradient id="c200" gradientUnits="userSpaceOnUse" x1="177.4" y1="691" x2="167.9" y2="679.1"><stop offset="0" stop-color="#0cb4e2"/><stop offset="0.796" stop-color="#2cff96"/><stop offset="1" stop-color="#40ff7a"/></linearGradient><linearGradient id="c201" gradientUnits="userSpaceOnUse" x1="141.1" y1="660.9" x2="134.6" y2="650.3"><stop offset="0" stop-color="#b7f900"/><stop offset="1" stop-color="#f1ed00"/></linearGradient><linearGradient id="c202" gradientUnits="userSpaceOnUse" x1="190.2" y1="731.3" x2="177.2" y2="715.3"><stop offset="0" stop-color="#7d006c"/><stop offset="0.485" stop-color="#0000c8"/><stop offset="1" stop-color="#0016f9"/></linearGradient><linearGradient id="c203" gradientUnits="userSpaceOnUse" x1="131.4" y1="652.1" x2="123" y2="641.2"><stop offset="0" stop-color="#f1ed00"/><stop offset="0.219" stop-color="#ffea00"/><stop offset="1" stop-color="#ffae00"/></linearGradient><linearGradient id="c204" gradientUnits="userSpaceOnUse" x1="167.7" y1="679.2" x2="159.2" y2="669.1"><stop offset="0" stop-color="#40ff7a"/><stop offset="1" stop-color="#86ff18"/></linearGradient><linearGradient id="c205" gradientUnits="userSpaceOnUse" x1="120.6" y1="643" x2="113.8" y2="630.1"><stop offset="0" stop-color="#ffae00"/><stop offset="0.744" stop-color="#ff6f00"/><stop offset="1" stop-color="#ff5b00"/></linearGradient><linearGradient id="c206" gradientUnits="userSpaceOnUse" x1="87.3" y1="630.7" x2="81.4" y2="618.2"><stop offset="0" stop-color="#ff5000"/><stop offset="1" stop-color="#ff0c00"/></linearGradient><linearGradient id="c207" gradientUnits="userSpaceOnUse" x1="107.1" y1="637.1" x2="105.7" y2="634.3"><stop offset="0" stop-color="#ffa200"/><stop offset="0.7" stop-color="#ff6f00"/><stop offset="1" stop-color="#ff5b00"/></linearGradient><linearGradient id="c208" gradientUnits="userSpaceOnUse" x1="98.7" y1="641.4" x2="92.1" y2="628.4"><stop offset="0" stop-color="#ffa200"/><stop offset="0.596" stop-color="#ff6f00"/><stop offset="1" stop-color="#ff5000"/></linearGradient><linearGradient id="c209" gradientUnits="userSpaceOnUse" x1="157.8" y1="670.5" x2="149.6" y2="662.8"><stop offset="0" stop-color="#86ff18"/><stop offset="0.411" stop-color="#97ff00"/><stop offset="1" stop-color="#affa00"/></linearGradient><linearGradient id="c210" gradientUnits="userSpaceOnUse" x1="182.6" y1="710.9" x2="170.5" y2="695.6"><stop offset="0" stop-color="#0016f9"/><stop offset="0.078" stop-color="#0019ff"/><stop offset="0.774" stop-color="#0098ff"/><stop offset="1" stop-color="#0ebadd"/></linearGradient><linearGradient id="c211" gradientUnits="userSpaceOnUse" x1="173.1" y1="693.5" x2="163.5" y2="681.5"><stop offset="0" stop-color="#0ebadd"/><stop offset="0.743" stop-color="#2cff96"/><stop offset="1" stop-color="#45ff73"/></linearGradient><linearGradient id="c212" gradientUnits="userSpaceOnUse" x1="136.2" y1="663.7" x2="129.6" y2="652.9"><stop offset="0" stop-color="#b7f900"/><stop offset="1" stop-color="#f3ed00"/></linearGradient><linearGradient id="c213" gradientUnits="userSpaceOnUse" x1="126" y1="655.2" x2="119.3" y2="643.7"><stop offset="0" stop-color="#f3ed00"/><stop offset="0.197" stop-color="#ffea00"/><stop offset="1" stop-color="#ffae00"/></linearGradient><linearGradient id="c214" gradientUnits="userSpaceOnUse" x1="186.3" y1="734.7" x2="172.9" y2="718.2"><stop offset="0" stop-color="#7e006b"/><stop offset="0.479" stop-color="#0000c8"/><stop offset="1" stop-color="#0017fa"/></linearGradient><linearGradient id="c215" gradientUnits="userSpaceOnUse" x1="115.4" y1="645.8" x2="108.6" y2="632.9"><stop offset="0" stop-color="#ffae00"/><stop offset="0.744" stop-color="#ff6f00"/><stop offset="1" stop-color="#ff5b00"/></linearGradient><linearGradient id="c216" gradientUnits="userSpaceOnUse" x1="93.6" y1="649.6" x2="87.2" y2="630.8"><stop offset="0" stop-color="#ffc600"/><stop offset="0.716" stop-color="#ff6f00"/><stop offset="1" stop-color="#ff5000"/></linearGradient><linearGradient id="c217" gradientUnits="userSpaceOnUse" x1="101.7" y1="639.9" x2="100.3" y2="637.1"><stop offset="0" stop-color="#ffa200"/><stop offset="0.7" stop-color="#ff6f00"/><stop offset="1" stop-color="#ff5b00"/></linearGradient><linearGradient id="c218" gradientUnits="userSpaceOnUse" x1="163.3" y1="681.6" x2="154.6" y2="671.1"><stop offset="0" stop-color="#45ff73"/><stop offset="1" stop-color="#8dff0e"/></linearGradient><linearGradient id="c219" gradientUnits="userSpaceOnUse" x1="153.2" y1="672.6" x2="144.9" y2="664.7"><stop offset="0" stop-color="#8dff0e"/><stop offset="0.233" stop-color="#97ff00"/><stop offset="1" stop-color="#b6f900"/></linearGradient><linearGradient id="c220" gradientUnits="userSpaceOnUse" x1="178.5" y1="713.7" x2="166.1" y2="698.1"><stop offset="0" stop-color="#0017fa"/><stop offset="0.056" stop-color="#0019ff"/><stop offset="0.743" stop-color="#0098ff"/><stop offset="1" stop-color="#10bfd8"/></linearGradient><linearGradient id="c221" gradientUnits="userSpaceOnUse" x1="131.3" y1="666.6" x2="124.6" y2="655.6"><stop offset="0" stop-color="#b8f800"/><stop offset="1" stop-color="#f4ec00"/></linearGradient><linearGradient id="c222" gradientUnits="userSpaceOnUse" x1="168.7" y1="696.1" x2="159" y2="683.9"><stop offset="0" stop-color="#10bfd8"/><stop offset="0.69" stop-color="#2cff96"/><stop offset="1" stop-color="#4aff6c"/></linearGradient><linearGradient id="c223" gradientUnits="userSpaceOnUse" x1="120.8" y1="657.9" x2="114.2" y2="646.5"><stop offset="0" stop-color="#f4ec00"/><stop offset="0.174" stop-color="#ffea00"/><stop offset="1" stop-color="#ffae00"/></linearGradient><linearGradient id="c224" gradientUnits="userSpaceOnUse" x1="110.1" y1="648.7" x2="103.2" y2="635.6"><stop offset="0" stop-color="#ffae00"/><stop offset="0.744" stop-color="#ff6f00"/><stop offset="1" stop-color="#ff5b00"/></linearGradient><linearGradient id="c225" gradientUnits="userSpaceOnUse" x1="97.4" y1="645.7" x2="94.2" y2="640.1"><stop offset="0" stop-color="#ffc600"/><stop offset="0.799" stop-color="#ff6f00"/><stop offset="1" stop-color="#ff5b00"/></linearGradient><linearGradient id="c226" gradientUnits="userSpaceOnUse" x1="158.8" y1="684" x2="149.9" y2="673.2"><stop offset="0" stop-color="#4aff6c"/><stop offset="1" stop-color="#95ff03"/></linearGradient><linearGradient id="c227" gradientUnits="userSpaceOnUse" x1="182.3" y1="738.1" x2="168.6" y2="721.2"><stop offset="0" stop-color="#7f006b"/><stop offset="0.472" stop-color="#0000c8"/><stop offset="1" stop-color="#0018fc"/></linearGradient><linearGradient id="c228" gradientUnits="userSpaceOnUse" x1="148.5" y1="674.6" x2="140.2" y2="666.7"><stop offset="0" stop-color="#95ff03"/><stop offset="0.052" stop-color="#97ff00"/><stop offset="1" stop-color="#bdf700"/></linearGradient><linearGradient id="c229" gradientUnits="userSpaceOnUse" x1="174.3" y1="716.6" x2="161.7" y2="700.7"><stop offset="0" stop-color="#0018fc"/><stop offset="0.035" stop-color="#0019ff"/><stop offset="0.713" stop-color="#0098ff"/><stop offset="1" stop-color="#13c4d3"/></linearGradient><linearGradient id="c230" gradientUnits="userSpaceOnUse" x1="126.3" y1="669.6" x2="119.4" y2="658.3"><stop offset="0" stop-color="#b8f800"/><stop offset="1" stop-color="#f6ec00"/></linearGradient><linearGradient id="c231" gradientUnits="userSpaceOnUse" x1="115.5" y1="660.7" x2="109" y2="649.4"><stop offset="0" stop-color="#f6ec00"/><stop offset="0.149" stop-color="#ffea00"/><stop offset="1" stop-color="#ffae00"/></linearGradient><linearGradient id="c232" gradientUnits="userSpaceOnUse" x1="164.3" y1="698.7" x2="154.5" y2="686.3"><stop offset="0" stop-color="#13c4d3"/><stop offset="0.637" stop-color="#2cff96"/><stop offset="1" stop-color="#4fff65"/></linearGradient><linearGradient id="c233" gradientUnits="userSpaceOnUse" x1="104.7" y1="651.7" x2="97.7" y2="638.4"><stop offset="0" stop-color="#ffae00"/><stop offset="0.744" stop-color="#ff6f00"/><stop offset="1" stop-color="#ff5b00"/></linearGradient><linearGradient id="c234" gradientUnits="userSpaceOnUse" x1="154.2" y1="686.5" x2="145.1" y2="675.3"><stop offset="0" stop-color="#4fff65"/><stop offset="0.93" stop-color="#97ff00"/><stop offset="1" stop-color="#9cfe00"/></linearGradient><linearGradient id="c235" gradientUnits="userSpaceOnUse" x1="178.2" y1="741.5" x2="164.2" y2="724.2"><stop offset="0" stop-color="#80006a"/><stop offset="0.466" stop-color="#0000c8"/><stop offset="1" stop-color="#0018fe"/></linearGradient><linearGradient id="c236" gradientUnits="userSpaceOnUse" x1="143.7" y1="676.7" x2="135.3" y2="668.7"><stop offset="0" stop-color="#9cfe00"/><stop offset="1" stop-color="#c4f600"/></linearGradient><linearGradient id="c237" gradientUnits="userSpaceOnUse" x1="170" y1="719.6" x2="157.1" y2="703.3"><stop offset="0" stop-color="#0018fe"/><stop offset="0.014" stop-color="#0019ff"/><stop offset="0.683" stop-color="#0098ff"/><stop offset="1" stop-color="#15c9cd"/></linearGradient><linearGradient id="c238" gradientUnits="userSpaceOnUse" x1="121.2" y1="672.6" x2="114.2" y2="661.1"><stop offset="0" stop-color="#b9f800"/><stop offset="1" stop-color="#f8eb00"/></linearGradient><linearGradient id="c239" gradientUnits="userSpaceOnUse" x1="110.1" y1="663.6" x2="103.6" y2="652.3"><stop offset="0" stop-color="#f8eb00"/><stop offset="0.123" stop-color="#ffea00"/><stop offset="1" stop-color="#ffae00"/></linearGradient><linearGradient id="c240" gradientUnits="userSpaceOnUse" x1="159.7" y1="701.3" x2="149.8" y2="688.8"><stop offset="0" stop-color="#15c9cd"/><stop offset="0.583" stop-color="#2cff96"/><stop offset="1" stop-color="#54ff5d"/></linearGradient><linearGradient id="c241" gradientUnits="userSpaceOnUse" x1="149.5" y1="689" x2="140.2" y2="677.4"><stop offset="0" stop-color="#54ff5d"/><stop offset="0.836" stop-color="#97ff00"/><stop offset="1" stop-color="#a4fc00"/></linearGradient><linearGradient id="c242" gradientUnits="userSpaceOnUse" x1="174.1" y1="745" x2="159.7" y2="727.3"><stop offset="0" stop-color="#810069"/><stop offset="0.46" stop-color="#0000c8"/><stop offset="0.995" stop-color="#0019ff"/><stop offset="1" stop-color="#001aff"/></linearGradient><linearGradient id="c243" gradientUnits="userSpaceOnUse" x1="138.7" y1="678.9" x2="130.3" y2="670.7"><stop offset="0" stop-color="#a4fc00"/><stop offset="1" stop-color="#ccf400"/></linearGradient><linearGradient id="c244" gradientUnits="userSpaceOnUse" x1="165.6" y1="722.6" x2="152.5" y2="706"><stop offset="0" stop-color="#001aff"/><stop offset="0.655" stop-color="#0098ff"/><stop offset="1" stop-color="#17cec8"/></linearGradient><linearGradient id="c245" gradientUnits="userSpaceOnUse" x1="116" y1="675.7" x2="108.8" y2="663.9"><stop offset="0" stop-color="#b9f800"/><stop offset="1" stop-color="#faeb00"/></linearGradient><linearGradient id="c246" gradientUnits="userSpaceOnUse" x1="155" y1="704" x2="145" y2="691.4"><stop offset="0" stop-color="#17cec8"/><stop offset="0.53" stop-color="#2cff96"/><stop offset="1" stop-color="#59ff56"/></linearGradient><linearGradient id="c247" gradientUnits="userSpaceOnUse" x1="144.7" y1="691.6" x2="135.2" y2="679.6"><stop offset="0" stop-color="#59ff56"/><stop offset="0.749" stop-color="#97ff00"/><stop offset="1" stop-color="#abfb00"/></linearGradient><linearGradient id="c248" gradientUnits="userSpaceOnUse" x1="169.8" y1="748.6" x2="155.1" y2="730.5"><stop offset="0" stop-color="#820069"/><stop offset="0.455" stop-color="#0000c8"/><stop offset="0.979" stop-color="#0019ff"/><stop offset="1" stop-color="#001eff"/></linearGradient><linearGradient id="c249" gradientUnits="userSpaceOnUse" x1="133.7" y1="681.1" x2="125.1" y2="672.9"><stop offset="0" stop-color="#abfb00"/><stop offset="1" stop-color="#d3f300"/></linearGradient><linearGradient id="c250" gradientUnits="userSpaceOnUse" x1="117.8" y1="674.7" x2="118.8" y2="676.7"><stop offset="0" stop-color="#b9f800"/><stop offset="1" stop-color="#daf200"/></linearGradient><linearGradient id="c251" gradientUnits="userSpaceOnUse" x1="161.1" y1="725.7" x2="147.8" y2="708.7"><stop offset="0" stop-color="#001eff"/><stop offset="0.627" stop-color="#0098ff"/><stop offset="1" stop-color="#19d3c3"/></linearGradient><linearGradient id="c252" gradientUnits="userSpaceOnUse" x1="150.2" y1="706.8" x2="140.2" y2="694"><stop offset="0" stop-color="#19d3c3"/><stop offset="0.476" stop-color="#2cff96"/><stop offset="1" stop-color="#5fff4f"/></linearGradient><linearGradient id="c253" gradientUnits="userSpaceOnUse" x1="139.7" y1="694.2" x2="130.1" y2="681.8"><stop offset="0" stop-color="#5fff4f"/><stop offset="0.667" stop-color="#97ff00"/><stop offset="1" stop-color="#b2f900"/></linearGradient><linearGradient id="c254" gradientUnits="userSpaceOnUse" x1="128.5" y1="683.4" x2="119.9" y2="675"><stop offset="0" stop-color="#b2f900"/><stop offset="1" stop-color="#daf200"/></linearGradient><linearGradient id="c255" gradientUnits="userSpaceOnUse" x1="165.5" y1="752.3" x2="150.5" y2="733.7"><stop offset="0" stop-color="#830068"/><stop offset="0.449" stop-color="#0000c8"/><stop offset="0.963" stop-color="#0019ff"/><stop offset="1" stop-color="#0022ff"/></linearGradient><linearGradient id="c256" gradientUnits="userSpaceOnUse" x1="156.5" y1="728.9" x2="142.9" y2="711.5"><stop offset="0" stop-color="#0022ff"/><stop offset="0.599" stop-color="#0098ff"/><stop offset="1" stop-color="#1bd8be"/></linearGradient><linearGradient id="c257" gradientUnits="userSpaceOnUse" x1="145.3" y1="709.6" x2="135.2" y2="696.7"><stop offset="0" stop-color="#1bd8be"/><stop offset="0.422" stop-color="#2cff96"/><stop offset="1" stop-color="#64ff48"/></linearGradient><linearGradient id="c258" gradientUnits="userSpaceOnUse" x1="134.7" y1="696.9" x2="124.8" y2="684.1"><stop offset="0" stop-color="#64ff48"/><stop offset="0.589" stop-color="#97ff00"/><stop offset="1" stop-color="#baf800"/></linearGradient><linearGradient id="c259" gradientUnits="userSpaceOnUse" x1="161.1" y1="756" x2="145.7" y2="737"><stop offset="0" stop-color="#840067"/><stop offset="0.444" stop-color="#0000c8"/><stop offset="0.948" stop-color="#0019ff"/><stop offset="1" stop-color="#0026ff"/></linearGradient><linearGradient id="c260" gradientUnits="userSpaceOnUse" x1="151.8" y1="732.1" x2="138" y2="714.4"><stop offset="0" stop-color="#0026ff"/><stop offset="0.573" stop-color="#0098ff"/><stop offset="1" stop-color="#1dddb9"/></linearGradient><linearGradient id="c261" gradientUnits="userSpaceOnUse" x1="140.3" y1="712.5" x2="130.1" y2="699.4"><stop offset="0" stop-color="#1dddb9"/><stop offset="0.368" stop-color="#2cff96"/><stop offset="1" stop-color="#69ff41"/></linearGradient><linearGradient id="c262" gradientUnits="userSpaceOnUse" x1="156.6" y1="759.8" x2="140.9" y2="740.3"><stop offset="0" stop-color="#850067"/><stop offset="0.439" stop-color="#0000c8"/><stop offset="0.934" stop-color="#0019ff"/><stop offset="1" stop-color="#002aff"/></linearGradient><linearGradient id="c263" gradientUnits="userSpaceOnUse" x1="147.1" y1="735.4" x2="132.9" y2="717.3"><stop offset="0" stop-color="#002aff"/><stop offset="0.547" stop-color="#0098ff"/><stop offset="1" stop-color="#20e2b4"/></linearGradient><linearGradient id="c264" gradientUnits="userSpaceOnUse" x1="152" y1="763.7" x2="135.9" y2="743.7"><stop offset="0" stop-color="#860066"/><stop offset="0.434" stop-color="#0000c8"/><stop offset="0.92" stop-color="#0019ff"/><stop offset="1" stop-color="#002eff"/></linearGradient><linearGradient id="cbC" x1="0" y1="0" x2="0" y2="1"><stop offset="0" stop-color="#ff0000"/><stop offset="0.125" stop-color="#ff6f00"/><stop offset="0.25" stop-color="#ffea00"/><stop offset="0.375" stop-color="#97ff00"/><stop offset="0.5" stop-color="#2cff96"/><stop offset="0.625" stop-color="#0098ff"/><stop offset="0.75" stop-color="#0019ff"/><stop offset="0.875" stop-color="#0000c8"/><stop offset="1" stop-color="#96005a"/></linearGradient></defs><g stroke="#dfdfdf" stroke-width="0.9" fill="none"><path d="M140.5 777L218.1 711.9"/><path d="M157.1 777.4L62.5 712.1"/><path d="M218.1 711.9L242 595.7"/><path d="M62.5 712.1L56.2 596.3"/><path d="M129.2 769L207.2 706.2"/><path d="M166.2 769.5L71.6 706.5"/><path d="M207.2 706.2L228.6 591.3"/><path d="M71.6 706.5L67.3 591.8"/><path d="M118.3 761.3L196.7 700.7"/><path d="M175 761.9L80.5 701.1"/><path d="M196.7 700.7L215.7 587"/><path d="M80.5 701.1L77.9 587.6"/><path d="M107.9 753.9L186.5 695.3"/><path d="M183.4 754.6L89.1 695.8"/><path d="M186.5 695.3L203.3 582.8"/><path d="M89.1 695.8L88.1 583.4"/><path d="M97.8 746.7L176.7 690.2"/><path d="M191.5 747.5L97.5 690.7"/><path d="M176.7 690.2L191.4 578.8"/><path d="M97.5 690.7L97.9 579.4"/><path d="M88.1 739.8L167.2 685.2"/><path d="M199.3 740.7L105.5 685.7"/><path d="M167.2 685.2L179.9 575"/><path d="M105.5 685.7L107.4 575.6"/><path d="M78.7 733.2L157.9 680.3"/><path d="M206.9 734.1L113.4 680.9"/><path d="M157.9 680.3L168.9 571.3"/><path d="M113.4 680.9L116.6 571.9"/><path d="M69.7 726.8L149 675.6"/><path d="M214.2 727.8L121 676.3"/><path d="M149 675.6L158.2 567.7"/><path d="M121 676.3L125.5 568.3"/><path d="M61 720.6L140.3 671"/><path d="M221.2 721.6L128.4 671.8"/><path d="M140.3 671L147.9 564.3"/><path d="M128.4 671.8L134 564.8"/><path d="M54.9 711.3L134.8 663.1"/><path d="M134.8 663.1L228.2 711.3"/><path d="M52.8 680.2L136.6 634.4"/><path d="M136.6 634.4L235.1 680.1"/><path d="M50.5 645.7L138.5 603"/><path d="M138.5 603L242.8 645.5"/><path d="M47.9 607.3L140.7 568.6"/><path d="M140.7 568.6L251.4 606.9"/></g><g stroke="#aaa" stroke-width="0.9" fill="none"><path d="M55.2 716.5L47.6 601.5"/></g><g stroke="#555" stroke-width="0.8" fill="none"><path d="M55.2 716.5L149.9 783.7"/><path d="M149.9 783.7L227 716.6"/><path d="M140.5 777L137.3 779.8"/><path d="M157.1 777.4L161.1 780.1"/><path d="M129.2 769L126 771.6"/><path d="M166.2 769.5L170.2 772.1"/><path d="M118.3 761.3L115.1 763.8"/><path d="M175 761.9L178.9 764.4"/><path d="M107.9 753.9L104.6 756.3"/><path d="M183.4 754.6L187.3 757"/><path d="M97.8 746.7L94.5 749.1"/><path d="M191.5 747.5L195.4 749.9"/><path d="M88.1 739.8L84.8 742.1"/><path d="M199.3 740.7L203.2 743"/><path d="M78.7 733.2L75.5 735.4"/><path d="M206.9 734.1L210.7 736.3"/><path d="M69.7 726.8L66.4 728.9"/><path d="M214.2 727.8L218 729.9"/><path d="M61 720.6L57.7 722.6"/><path d="M221.2 721.6L225 723.7"/></g><g stroke="#000" stroke-width="0.7" stroke-linejoin="round"><path d="M133.3 611.6L138.8 600.8L142.8 598.9L137.2 609.6Z" fill="url(#c1)"/><path d="M138.8 600.8L144.4 591.2L148.5 589.3L142.8 598.9Z" fill="url(#c2)"/><path d="M129.3 613.6L134.7 602.8L138.8 600.8L133.3 611.6Z" fill="url(#c3)"/><path d="M144.4 591.2L150.6 578.6L154.8 575.9L148.5 589.3Z" fill="url(#c4)"/><path d="M134.7 602.8L140.3 593.1L144.4 591.2L138.8 600.8Z" fill="url(#c5)"/><path d="M125.2 615.6L130.6 604.8L134.7 602.8L129.3 613.6Z" fill="url(#c6)"/><path d="M150.6 578.6L156.1 576.9L160.2 575L154.8 575.9Z" fill="#ff0500"/><path d="M140.3 593.1L146.3 581.4L150.6 578.6L144.4 591.2Z" fill="url(#c7)"/><path d="M130.6 604.8L136.1 595.1L140.3 593.1L134.7 602.8Z" fill="url(#c8)"/><path d="M121.1 617.6L126.4 606.8L130.6 604.8L125.2 615.6Z" fill="url(#c9)"/><path d="M156.1 576.9L160.4 590.6L164.5 588.6L160.2 575Z" fill="url(#c10)"/><path d="M146.3 581.4L151.9 578.8L156.1 576.9L150.6 578.6Z" fill="url(#c11)"/><path d="M136.1 595.1L142 584.2L146.3 581.4L140.3 593.1Z" fill="url(#c12)"/><path d="M126.4 606.8L131.9 597L136.1 595.1L130.6 604.8Z" fill="url(#c13)"/><path d="M160.4 590.6L166.1 589.6L170.1 587.6L164.5 588.6Z" fill="#ff4800"/><path d="M116.9 619.7L122.1 608.8L126.4 606.8L121.1 617.6Z" fill="url(#c14)"/><path d="M151.9 578.8L156.3 592.6L160.4 590.6L156.1 576.9Z" fill="url(#c15)"/><path d="M142 584.2L147.7 580.7L151.9 578.8L146.3 581.4Z" fill="url(#c16)"/><path d="M131.9 597L137.7 587.1L142 584.2L136.1 595.1Z" fill="url(#c17)"/><path d="M166.1 589.6L171.6 590.9L175.7 588.9L170.1 587.6Z" fill="#ff3a00"/><path d="M122.1 608.8L127.5 599.1L131.9 597L126.4 606.8Z" fill="url(#c18)"/><path d="M112.6 621.8L117.8 610.9L122.1 608.8L116.9 619.7Z" fill="url(#c19)"/><path d="M156.3 592.6L161.9 591.6L166.1 589.6L160.4 590.6Z" fill="#ff4800"/><path d="M147.7 580.7L152.1 594.6L156.3 592.6L151.9 578.8Z" fill="url(#c20)"/><path d="M171.6 590.9L176.6 598.9L180.6 596.8L175.7 588.9Z" fill="url(#c21)"/><path d="M137.7 587.1L143.3 582.7L147.7 580.7L142 584.2Z" fill="url(#c22)"/><path d="M127.5 599.1L133.2 590L137.7 587.1L131.9 597Z" fill="url(#c23)"/><path d="M161.9 591.6L167.5 593L171.6 590.9L166.1 589.6Z" fill="#ff3a00"/><path d="M117.8 610.9L123.1 601.1L127.5 599.1L122.1 608.8Z" fill="url(#c24)"/><path d="M108.3 624L113.4 613L117.8 610.9L112.6 621.8Z" fill="url(#c25)"/><path d="M152.1 594.6L157.7 593.7L161.9 591.6L156.3 592.6Z" fill="#ff4800"/><path d="M176.6 598.9L180.6 613.9L184.5 611.7L180.6 596.8Z" fill="url(#c26)"/><path d="M143.3 582.7L147.8 596.7L152.1 594.6L147.7 580.7Z" fill="url(#c27)"/><path d="M133.2 590L138.9 584.7L143.3 582.7L137.7 587.1Z" fill="url(#c28)"/><path d="M167.5 593L172.5 601L176.6 598.9L171.6 590.9Z" fill="url(#c29)"/><path d="M123.1 601.1L128.7 592.9L133.2 590L127.5 599.1Z" fill="url(#c30)"/><path d="M113.4 613L118.7 603.2L123.1 601.1L117.8 610.9Z" fill="url(#c31)"/><path d="M157.7 593.7L163.3 595.1L167.5 593L161.9 591.6Z" fill="#ff3a00"/><path d="M180.6 613.9L185.2 623.8L189.1 621.8L184.5 611.7Z" fill="url(#c32)"/><path d="M103.9 626.2L108.9 615.2L113.4 613L108.3 624Z" fill="url(#c33)"/><path d="M147.8 596.7L153.5 595.7L157.7 593.7L152.1 594.6Z" fill="#ff4800"/><path d="M172.5 601L176.6 616.2L180.6 613.9L176.6 598.9Z" fill="url(#c34)"/><path d="M138.9 584.7L143.5 598.7L147.8 596.7L143.3 582.7Z" fill="url(#c35)"/><path d="M128.7 592.9L134.4 586.7L138.9 584.7L133.2 590Z" fill="url(#c36)"/><path d="M185.2 623.8L190.1 631.9L193.9 629.6L189.1 621.8Z" fill="url(#c37)"/><path d="M163.3 595.1L168.3 603.1L172.5 601L167.5 593Z" fill="url(#c38)"/><path d="M118.7 603.2L124.1 595.9L128.7 592.9L123.1 601.1Z" fill="url(#c39)"/><path d="M108.9 615.2L114.1 605.3L118.7 603.2L113.4 613Z" fill="url(#c40)"/><path d="M99.4 628.4L104.3 617.4L108.9 615.2L103.9 626.2Z" fill="url(#c41)"/><path d="M153.5 595.7L159 597.2L163.3 595.1L157.7 593.7Z" fill="#ff3a00"/><path d="M176.6 616.2L181.3 625.9L185.2 623.8L180.6 613.9Z" fill="url(#c42)"/><path d="M143.5 598.7L149.1 597.8L153.5 595.7L147.8 596.7Z" fill="#ff4800"/><path d="M190.1 631.9L195.7 635.2L199.5 632.8L193.9 629.6Z" fill="#adfb00"/><path d="M168.3 603.1L172.5 618.4L176.6 616.2L172.5 601Z" fill="url(#c43)"/><path d="M134.4 586.7L139 600.9L143.5 598.7L138.9 584.7Z" fill="url(#c44)"/><path d="M124.1 595.9L129.8 588.8L134.4 586.7L128.7 592.9Z" fill="url(#c45)"/><path d="M114.1 605.3L119.5 598.9L124.1 595.9L118.7 603.2Z" fill="url(#c46)"/><path d="M159 597.2L164.1 605.3L168.3 603.1L163.3 595.1Z" fill="url(#c47)"/><path d="M181.3 625.9L186.2 634.2L190.1 631.9L185.2 623.8Z" fill="url(#c48)"/><path d="M104.3 617.4L109.5 607.5L114.1 605.3L108.9 615.2Z" fill="url(#c49)"/><path d="M94.9 630.7L99.7 619.6L104.3 617.4L99.4 628.4Z" fill="url(#c50)"/><path d="M195.7 635.2L201.4 638.1L205.2 635.6L199.5 632.8Z" fill="#a8fc00"/><path d="M149.1 597.8L154.7 599.3L159 597.2L153.5 595.7Z" fill="#ff3a00"/><path d="M172.5 618.4L177.3 628L181.3 625.9L176.6 616.2Z" fill="url(#c51)"/><path d="M139 600.9L144.7 600L149.1 597.8L143.5 598.7Z" fill="#ff4800"/><path d="M186.2 634.2L191.8 637.6L195.7 635.2L190.1 631.9Z" fill="#adfa00"/><path d="M129.8 588.8L134.5 603L139 600.9L134.4 586.7Z" fill="url(#c52)"/><path d="M164.1 605.3L168.4 620.7L172.5 618.4L168.3 603.1Z" fill="url(#c53)"/><path d="M119.5 598.9L125.1 590.9L129.8 588.8L124.1 595.9Z" fill="url(#c54)"/><path d="M201.4 638.1L204.2 659.4L207.8 657.5L205.2 635.6Z" fill="url(#c55)"/><path d="M109.5 607.5L114.8 602L119.5 598.9L114.1 605.3Z" fill="url(#c56)"/><path d="M99.7 619.6L104.7 609.7L109.5 607.5L104.3 617.4Z" fill="url(#c57)"/><path d="M90.2 633L94.9 621.9L99.7 619.6L94.9 630.7Z" fill="url(#c58)"/><path d="M154.7 599.3L159.8 607.5L164.1 605.3L159 597.2Z" fill="url(#c59)"/><path d="M177.3 628L182.2 636.5L186.2 634.2L181.3 625.9Z" fill="url(#c60)"/><path d="M144.7 600L150.3 601.5L154.7 599.3L149.1 597.8Z" fill="#ff3a00"/><path d="M191.8 637.6L197.5 640.5L201.4 638.1L195.7 635.2Z" fill="#a8fc00"/><path d="M168.4 620.7L173.2 630.2L177.3 628L172.5 618.4Z" fill="url(#c61)"/><path d="M204.2 659.4L208 673.4L211.5 671.4L207.8 657.5Z" fill="url(#c62)"/><path d="M134.5 603L140.2 602.2L144.7 600L139 600.9Z" fill="#ff4800"/><path d="M125.1 590.9L130.3 597.5L134.5 603L129.8 588.8Z" fill="url(#c63)"/><path d="M182.2 636.5L187.8 640.1L191.8 637.6L186.2 634.2Z" fill="#aefa00"/><path d="M159.8 607.5L164.1 623.1L168.4 620.7L164.1 605.3Z" fill="url(#c64)"/><path d="M114.8 602L120.4 593.1L125.1 590.9L119.5 598.9Z" fill="url(#c65)"/><path d="M104.7 609.7L110 605.1L114.8 602L109.5 607.5Z" fill="url(#c66)"/><path d="M85.5 635.3L90.1 624.2L94.9 621.9L90.2 633Z" fill="url(#c67)"/><path d="M94.9 621.9L99.9 612L104.7 609.7L99.7 619.6Z" fill="url(#c68)"/><path d="M197.5 640.5L200.5 661.4L204.2 659.4L201.4 638.1Z" fill="url(#c69)"/><path d="M208 673.4L210.9 691.7L214.4 689.3L211.5 671.4Z" fill="url(#c70)"/><path d="M150.3 601.5L155.4 609.8L159.8 607.5L154.7 599.3Z" fill="url(#c71)"/><path d="M173.2 630.2L178.2 638.9L182.2 636.5L177.3 628Z" fill="url(#c72)"/><path d="M140.2 602.2L145.8 603.7L150.3 601.5L144.7 600Z" fill="#ff3a00"/><path d="M187.8 640.1L193.6 643.1L197.5 640.5L191.8 637.6Z" fill="#a8fc00"/><path d="M130.3 597.5L135.2 611.4L140.2 602.2L134.5 603Z" fill="url(#c73)"/><path d="M164.1 623.1L169.1 632.3L173.2 630.2L168.4 620.7Z" fill="url(#c74)"/><path d="M200.5 661.4L204.4 675.5L208 673.4L204.2 659.4Z" fill="url(#c75)"/><path d="M210.9 691.7L213.2 711.6L216.7 708.6L214.4 689.3Z" fill="url(#c76)"/><path d="M120.4 593.1L125.6 599.7L130.3 597.5L125.1 590.9Z" fill="url(#c77)"/><path d="M110 605.1L115.5 595.3L120.4 593.1L114.8 602Z" fill="url(#c78)"/><path d="M80.7 637.7L85.2 626.6L90.1 624.2L85.5 635.3Z" fill="url(#c79)"/><path d="M99.9 612L105.1 608.3L110 605.1L104.7 609.7Z" fill="url(#c80)"/><path d="M90.1 624.2L95 614.3L99.9 612L94.9 621.9Z" fill="url(#c81)"/><path d="M155.4 609.8L159.8 625.5L164.1 623.1L159.8 607.5Z" fill="url(#c82)"/><path d="M178.2 638.9L183.8 642.6L187.8 640.1L182.2 636.5Z" fill="#aefa00"/><path d="M193.6 643.1L196.7 663.4L200.5 661.4L197.5 640.5Z" fill="url(#c83)"/><path d="M145.8 603.7L150.9 612.1L155.4 609.8L150.3 601.5Z" fill="url(#c84)"/><path d="M213.2 711.6L221.3 703.2L225.3 697.9L216.7 708.6Z" fill="#0d003c"/><path d="M204.4 675.5L207.3 694.1L210.9 691.7L208 673.4Z" fill="url(#c85)"/><path d="M169.1 632.3L174 641.3L178.2 638.9L173.2 630.2Z" fill="url(#c86)"/><path d="M135.2 611.4L141 608.3L145.8 603.7L140.2 602.2Z" fill="url(#c87)"/><path d="M125.6 599.7L130.5 613.7L135.2 611.4L130.3 597.5Z" fill="url(#c88)"/><path d="M183.8 642.6L189.6 645.6L193.6 643.1L187.8 640.1Z" fill="#a8fc00"/><path d="M159.8 625.5L164.8 634.6L169.1 632.3L164.1 623.1Z" fill="url(#c89)"/><path d="M115.5 595.3L120.8 601.9L125.6 599.7L120.4 593.1Z" fill="url(#c90)"/><path d="M75.8 640.1L80.2 629L85.2 626.6L80.7 637.7Z" fill="url(#c91)"/><path d="M105.1 608.3L110.6 597.5L115.5 595.3L110 605.1Z" fill="url(#c92)"/><path d="M85.2 626.6L90 616.6L95 614.3L90.1 624.2Z" fill="url(#c93)"/><path d="M196.7 663.4L200.7 677.6L204.4 675.5L200.5 661.4Z" fill="url(#c94)"/><path d="M95 614.3L100.1 611.5L105.1 608.3L99.9 612Z" fill="url(#c95)"/><path d="M207.3 694.1L209.7 714.6L213.2 711.6L210.9 691.7Z" fill="url(#c96)"/><path d="M150.9 612.1L155.5 627.9L159.8 625.5L155.4 609.8Z" fill="url(#c97)"/><path d="M174 641.3L179.6 645.2L183.8 642.6L178.2 638.9Z" fill="#aefa00"/><path d="M141 608.3L146.3 616.1L150.9 612.1L145.8 603.7Z" fill="url(#c98)"/><path d="M189.6 645.6L192.9 665.5L196.7 663.4L193.6 643.1Z" fill="url(#c99)"/><path d="M164.8 634.6L169.8 643.8L174 641.3L169.1 632.3Z" fill="url(#c100)"/><path d="M130.5 613.7L136.3 610.6L141 608.3L135.2 611.4Z" fill="url(#c101)"/><path d="M200.7 677.6L203.7 696.6L207.3 694.1L204.4 675.5Z" fill="url(#c102)"/><path d="M209.7 714.6L217.3 708.1L221.3 703.2L213.2 711.6Z" fill="#120038"/><path d="M120.8 601.9L125.8 616L130.5 613.7L125.6 599.7Z" fill="url(#c103)"/><path d="M70.8 642.6L75.1 631.4L80.2 629L75.8 640.1Z" fill="url(#c104)"/><path d="M110.6 597.5L115.9 604.2L120.8 601.9L115.5 595.3Z" fill="url(#c105)"/><path d="M80.2 629L84.9 619L90 616.6L85.2 626.6Z" fill="url(#c106)"/><path d="M155.5 627.9L160.5 636.8L164.8 634.6L159.8 625.5Z" fill="url(#c107)"/><path d="M100.1 611.5L105.6 599.8L110.6 597.5L105.1 608.3Z" fill="url(#c108)"/><path d="M179.6 645.2L185.5 648.2L189.6 645.6L183.8 642.6Z" fill="#a8fc00"/><path d="M90 616.6L95.1 614.8L100.1 611.5L95 614.3Z" fill="url(#c109)"/><path d="M192.9 665.5L196.9 679.8L200.7 677.6L196.7 663.4Z" fill="url(#c110)"/><path d="M146.3 616.1L151.1 628.5L155.5 627.9L150.9 612.1Z" fill="url(#c111)"/><path d="M203.7 696.6L206.1 717.7L209.7 714.6L207.3 694.1Z" fill="url(#c112)"/><path d="M169.8 643.8L174.8 652.8L179.6 645.2L174 641.3Z" fill="url(#c113)"/><path d="M136.3 610.6L141.6 618.5L146.3 616.1L141 608.3Z" fill="url(#c114)"/><path d="M125.8 616L131.6 613L136.3 610.6L130.5 613.7Z" fill="url(#c115)"/><path d="M185.5 648.2L189 667.6L192.9 665.5L189.6 645.6Z" fill="url(#c116)"/><path d="M160.5 636.8L165.5 646.4L169.8 643.8L164.8 634.6Z" fill="url(#c117)"/><path d="M65.8 645.1L70 633.9L75.1 631.4L70.8 642.6Z" fill="url(#c118)"/><path d="M115.9 604.2L121 618.4L125.8 616L120.8 601.9Z" fill="url(#c119)"/><path d="M196.9 679.8L200 699.2L203.7 696.6L200.7 677.6Z" fill="url(#c120)"/><path d="M75.1 631.4L79.8 621.4L84.9 619L80.2 629Z" fill="url(#c121)"/><path d="M206.1 717.7L213.3 712.8L217.3 708.1L209.7 714.6Z" fill="#160035"/><path d="M105.6 599.8L110.9 606.6L115.9 604.2L110.6 597.5Z" fill="url(#c122)"/><path d="M84.9 619L90 618.1L95.1 614.8L90 616.6Z" fill="#ff7900"/><path d="M95.1 614.8L100.4 602.1L105.6 599.8L100.1 611.5Z" fill="url(#c123)"/><path d="M151.1 628.5L156.1 639.2L160.5 636.8L155.5 627.9Z" fill="url(#c124)"/><path d="M174.8 652.8L180.1 660.3L185.5 648.2L179.6 645.2Z" fill="url(#c125)"/><path d="M141.6 618.5L146.6 631L151.1 628.5L146.3 616.1Z" fill="url(#c126)"/><path d="M189 667.6L193.1 682L196.9 679.8L192.9 665.5Z" fill="url(#c127)"/><path d="M200 699.2L202.4 720.8L206.1 717.7L203.7 696.6Z" fill="url(#c128)"/><path d="M165.5 646.4L170.7 654.5L174.8 652.8L169.8 643.8Z" fill="url(#c129)"/><path d="M131.6 613L136.9 620.9L141.6 618.5L136.3 610.6Z" fill="url(#c130)"/><path d="M60.6 647.7L64.7 636.4L70 633.9L65.8 645.1Z" fill="url(#c131)"/><path d="M121 618.4L126.7 615.4L131.6 613L125.8 616Z" fill="url(#c132)"/><path d="M70 633.9L74.5 623.8L79.8 621.4L75.1 631.4Z" fill="url(#c133)"/><path d="M110.9 606.6L116 620.9L121 618.4L115.9 604.2Z" fill="url(#c134)"/><path d="M180.1 660.3L185 669.7L189 667.6L185.5 648.2Z" fill="url(#c135)"/><path d="M156.1 639.2L161.2 648.9L165.5 646.4L160.5 636.8Z" fill="url(#c136)"/><path d="M79.8 621.4L84.8 621.5L90 618.1L84.9 619Z" fill="#ff7c00"/><path d="M100.4 602.1L105.8 608.9L110.9 606.6L105.6 599.8Z" fill="url(#c137)"/><path d="M90 618.1L95.2 604.5L100.4 602.1L95.1 614.8Z" fill="url(#c138)"/><path d="M193.1 682L196.2 701.8L200 699.2L196.9 679.8Z" fill="url(#c139)"/><path d="M202.4 720.8L209.4 717.2L213.3 712.8L206.1 717.7Z" fill="#190033"/><path d="M146.6 631L151.6 641.5L156.1 639.2L151.1 628.5Z" fill="url(#c140)"/><path d="M170.7 654.5L176 662L180.1 660.3L174.8 652.8Z" fill="url(#c141)"/><path d="M136.9 620.9L141.9 633.5L146.6 631L141.6 618.5Z" fill="url(#c142)"/><path d="M55.4 650.3L59.3 639L64.7 636.4L60.6 647.7Z" fill="url(#c143)"/><path d="M185 669.7L189.2 684.3L193.1 682L189 667.6Z" fill="url(#c144)"/><path d="M126.7 615.4L132.1 623.4L136.9 620.9L131.6 613Z" fill="url(#c145)"/><path d="M161.2 648.9L166.5 656.3L170.7 654.5L165.5 646.4Z" fill="url(#c146)"/><path d="M64.7 636.4L69.1 626.4L74.5 623.8L70 633.9Z" fill="url(#c147)"/><path d="M196.2 701.8L198.6 723.9L202.4 720.8L200 699.2Z" fill="url(#c148)"/><path d="M116 620.9L121.8 617.9L126.7 615.4L121 618.4Z" fill="url(#c149)"/><path d="M74.5 623.8L79.5 625L84.8 621.5L79.8 621.4Z" fill="#ff8000"/><path d="M105.8 608.9L111 623.4L116 620.9L110.9 606.6Z" fill="url(#c150)"/><path d="M84.8 621.5L89.9 606.9L95.2 604.5L90 618.1Z" fill="url(#c151)"/><path d="M95.2 604.5L100.6 609.3L105.8 608.9L100.4 602.1Z" fill="url(#c152)"/><path d="M151.6 641.5L156.7 651.6L161.2 648.9L156.1 639.2Z" fill="url(#c153)"/><path d="M176 662L180.9 671.9L185 669.7L180.1 660.3Z" fill="url(#c154)"/><path d="M189.2 684.3L192.4 704.4L196.2 701.8L193.1 682Z" fill="url(#c155)"/><path d="M141.9 633.5L147.1 643.9L151.6 641.5L146.6 631Z" fill="url(#c156)"/><path d="M198.6 723.9L205.4 721.4L209.4 717.2L202.4 720.8Z" fill="#1c0031"/><path d="M166.5 656.3L171.8 663.8L176 662L170.7 654.5Z" fill="url(#c157)"/><path d="M132.1 623.4L137.2 636.2L141.9 633.5L136.9 620.9Z" fill="url(#c158)"/><path d="M59.3 639L63.6 628.9L69.1 626.4L64.7 636.4Z" fill="url(#c159)"/><path d="M121.8 617.9L127.2 626L132.1 623.4L126.7 615.4Z" fill="url(#c160)"/><path d="M180.9 671.9L185.2 686.6L189.2 684.3L185 669.7Z" fill="url(#c161)"/><path d="M69.1 626.4L74.2 628.5L79.5 625L74.5 623.8Z" fill="#ff8400"/><path d="M111 623.4L116.7 620.4L121.8 617.9L116 620.9Z" fill="url(#c162)"/><path d="M156.7 651.6L162.2 658.1L166.5 656.3L161.2 648.9Z" fill="url(#c163)"/><path d="M79.5 625L84.4 609.3L89.9 606.9L84.8 621.5Z" fill="url(#c164)"/><path d="M100.6 609.3L106 621.6L111 623.4L105.8 608.9Z" fill="url(#c165)"/><path d="M89.9 606.9L95.3 611.8L100.6 609.3L95.2 604.5Z" fill="#ff0300"/><path d="M192.4 704.4L194.8 727.2L198.6 723.9L196.2 701.8Z" fill="url(#c166)"/><path d="M147.1 643.9L152.2 654.2L156.7 651.6L151.6 641.5Z" fill="url(#c167)"/><path d="M171.8 663.8L176.8 674.2L180.9 671.9L176 662Z" fill="url(#c168)"/><path d="M137.2 636.2L142.4 646.4L147.1 643.9L141.9 633.5Z" fill="url(#c169)"/><path d="M185.2 686.6L188.4 707.1L192.4 704.4L189.2 684.3Z" fill="url(#c170)"/><path d="M127.2 626L132.4 638.8L137.2 636.2L132.1 623.4Z" fill="url(#c171)"/><path d="M194.8 727.2L201.5 725.5L205.4 721.4L198.6 723.9Z" fill="#1f002f"/><path d="M162.2 658.1L167.5 665.7L171.8 663.8L166.5 656.3Z" fill="url(#c172)"/><path d="M63.6 628.9L68.7 632L74.2 628.5L69.1 626.4Z" fill="#ff8800"/><path d="M116.7 620.4L122.2 628.6L127.2 626L121.8 617.9Z" fill="url(#c173)"/><path d="M74.2 628.5L78.9 611.8L84.4 609.3L79.5 625Z" fill="url(#c174)"/><path d="M106 621.6L111.3 634.9L116.7 620.4L111 623.4Z" fill="url(#c175)"/><path d="M84.4 609.3L89.9 614.3L95.3 611.8L89.9 606.9Z" fill="#ff0400"/><path d="M95.3 611.8L100.7 624.1L106 621.6L100.6 609.3Z" fill="url(#c176)"/><path d="M152.2 654.2L157.8 659.9L162.2 658.1L156.7 651.6Z" fill="#a9fb00"/><path d="M176.8 674.2L181.1 688.9L185.2 686.6L180.9 671.9Z" fill="url(#c177)"/><path d="M188.4 707.1L191 730.4L194.8 727.2L192.4 704.4Z" fill="url(#c178)"/><path d="M142.4 646.4L147.6 657L152.2 654.2L147.1 643.9Z" fill="url(#c179)"/><path d="M167.5 665.7L172.6 676.5L176.8 674.2L171.8 663.8Z" fill="url(#c180)"/><path d="M132.4 638.8L137.7 648.9L142.4 646.4L137.2 636.2Z" fill="url(#c181)"/><path d="M122.2 628.6L127.4 641.5L132.4 638.8L127.2 626Z" fill="url(#c182)"/><path d="M181.1 688.9L184.5 709.9L188.4 707.1L185.2 686.6Z" fill="url(#c183)"/><path d="M68.7 632L73.2 614.4L78.9 611.8L74.2 628.5Z" fill="url(#c184)"/><path d="M157.8 659.9L163.2 667.6L167.5 665.7L162.2 658.1Z" fill="url(#c185)"/><path d="M111.3 634.9L117.2 628.4L122.2 628.6L116.7 620.4Z" fill="url(#c186)"/><path d="M191 730.4L197.5 729.5L201.5 725.5L194.8 727.2Z" fill="#20002d"/><path d="M78.9 611.8L84.4 616.8L89.9 614.3L84.4 609.3Z" fill="#ff0400"/><path d="M100.7 624.1L106.1 637.6L111.3 634.9L106 621.6Z" fill="url(#c187)"/><path d="M89.9 614.3L95.4 626.8L100.7 624.1L95.3 611.8Z" fill="url(#c188)"/><path d="M147.6 657L153.3 661.8L157.8 659.9L152.2 654.2Z" fill="#adfb00"/><path d="M172.6 676.5L177 691.3L181.1 688.9L176.8 674.2Z" fill="url(#c189)"/><path d="M137.7 648.9L142.9 659.7L147.6 657L142.4 646.4Z" fill="url(#c190)"/><path d="M184.5 709.9L187 733.8L191 730.4L188.4 707.1Z" fill="url(#c191)"/><path d="M163.2 667.6L168.2 678.8L172.6 676.5L167.5 665.7Z" fill="url(#c192)"/><path d="M127.4 641.5L132.8 651.4L137.7 648.9L132.4 638.8Z" fill="url(#c193)"/><path d="M117.2 628.4L122.5 641.9L127.4 641.5L122.2 628.6Z" fill="url(#c194)"/><path d="M73.2 614.4L78.7 619.5L84.4 616.8L78.9 611.8Z" fill="#ff0400"/><path d="M106.1 637.6L111.9 631.1L117.2 628.4L111.3 634.9Z" fill="url(#c195)"/><path d="M84.4 616.8L89.9 629.4L95.4 626.8L89.9 614.3Z" fill="url(#c196)"/><path d="M95.4 626.8L100.9 640.3L106.1 637.6L100.7 624.1Z" fill="url(#c197)"/><path d="M177 691.3L180.4 712.7L184.5 709.9L181.1 688.9Z" fill="url(#c198)"/><path d="M153.3 661.8L158.7 669.5L163.2 667.6L157.8 659.9Z" fill="url(#c199)"/><path d="M187 733.8L193.4 733.4L197.5 729.5L191 730.4Z" fill="#22002c"/><path d="M142.9 659.7L148.6 663.7L153.3 661.8L147.6 657Z" fill="#b1fa00"/><path d="M168.2 678.8L172.8 693.8L177 691.3L172.6 676.5Z" fill="url(#c200)"/><path d="M132.8 651.4L138.1 662.6L142.9 659.7L137.7 648.9Z" fill="url(#c201)"/><path d="M180.4 712.7L183 737.2L187 733.8L184.5 709.9Z" fill="url(#c202)"/><path d="M122.5 641.9L127.8 654L132.8 651.4L127.4 641.5Z" fill="url(#c203)"/><path d="M158.7 669.5L163.8 681.2L168.2 678.8L163.2 667.6Z" fill="url(#c204)"/><path d="M111.9 631.1L117.4 644.8L122.5 641.9L117.2 628.4Z" fill="url(#c205)"/><path d="M78.7 619.5L84.4 632.2L89.9 629.4L84.4 616.8Z" fill="url(#c206)"/><path d="M100.9 640.3L106.6 633.9L111.9 631.1L106.1 637.6Z" fill="url(#c207)"/><path d="M89.9 629.4L95.5 643.1L100.9 640.3L95.4 626.8Z" fill="url(#c208)"/><path d="M148.6 663.7L154.2 671.5L158.7 669.5L153.3 661.8Z" fill="url(#c209)"/><path d="M172.8 693.8L176.2 715.5L180.4 712.7L177 691.3Z" fill="url(#c210)"/><path d="M183 737.2L189.4 737.2L193.4 733.4L187 733.8Z" fill="#23002b"/><path d="M138.1 662.6L143.9 665.7L148.6 663.7L142.9 659.7Z" fill="#b5f900"/><path d="M163.8 681.2L168.4 696.3L172.8 693.8L168.2 678.8Z" fill="url(#c211)"/><path d="M127.8 654L133.2 665.5L138.1 662.6L132.8 651.4Z" fill="url(#c212)"/><path d="M117.4 644.8L122.8 656.7L127.8 654L122.5 641.9Z" fill="url(#c213)"/><path d="M176.2 715.5L178.9 740.6L183 737.2L180.4 712.7Z" fill="url(#c214)"/><path d="M106.6 633.9L112.1 647.6L117.4 644.8L111.9 631.1Z" fill="url(#c215)"/><path d="M84.4 632.2L90 650.5L95.5 643.1L89.9 629.4Z" fill="url(#c216)"/><path d="M95.5 643.1L101.2 636.7L106.6 633.9L100.9 640.3Z" fill="url(#c217)"/><path d="M154.2 671.5L159.3 683.6L163.8 681.2L158.7 669.5Z" fill="url(#c218)"/><path d="M143.9 665.7L149.5 673.5L154.2 671.5L148.6 663.7Z" fill="url(#c219)"/><path d="M168.4 696.3L172 718.4L176.2 715.5L172.8 693.8Z" fill="url(#c220)"/><path d="M133.2 665.5L139.1 667.7L143.9 665.7L138.1 662.6Z" fill="#b9f800"/><path d="M178.9 740.6L185.2 741L189.4 737.2L183 737.2Z" fill="#24002b"/><path d="M122.8 656.7L128.2 668.4L133.2 665.5L127.8 654Z" fill="url(#c221)"/><path d="M159.3 683.6L164 698.8L168.4 696.3L163.8 681.2Z" fill="url(#c222)"/><path d="M112.1 647.6L117.6 659.4L122.8 656.7L117.4 644.8Z" fill="url(#c223)"/><path d="M101.2 636.7L106.8 650.5L112.1 647.6L106.6 633.9Z" fill="url(#c224)"/><path d="M90 650.5L95.6 639.5L101.2 636.7L95.5 643.1Z" fill="url(#c225)"/><path d="M149.5 673.5L154.7 686.1L159.3 683.6L154.2 671.5Z" fill="url(#c226)"/><path d="M172 718.4L174.8 744.2L178.9 740.6L176.2 715.5Z" fill="url(#c227)"/><path d="M139.1 667.7L144.7 675.6L149.5 673.5L143.9 665.7Z" fill="url(#c228)"/><path d="M164 698.8L167.7 721.4L172 718.4L168.4 696.3Z" fill="url(#c229)"/><path d="M128.2 668.4L134.2 669.8L139.1 667.7L133.2 665.5Z" fill="#bcf700"/><path d="M117.6 659.4L123.1 671.4L128.2 668.4L122.8 656.7Z" fill="url(#c230)"/><path d="M174.8 744.2L181 744.7L185.2 741L178.9 740.6Z" fill="#25002a"/><path d="M106.8 650.5L112.3 662.2L117.6 659.4L112.1 647.6Z" fill="url(#c231)"/><path d="M154.7 686.1L159.5 701.4L164 698.8L159.3 683.6Z" fill="url(#c232)"/><path d="M95.6 639.5L101.3 653.5L106.8 650.5L101.2 636.7Z" fill="url(#c233)"/><path d="M144.7 675.6L149.9 688.6L154.7 686.1L149.5 673.5Z" fill="url(#c234)"/><path d="M167.7 721.4L170.6 747.7L174.8 744.2L172 718.4Z" fill="url(#c235)"/><path d="M134.2 669.8L139.9 677.7L144.7 675.6L139.1 667.7Z" fill="url(#c236)"/><path d="M123.1 671.4L129.1 671.9L134.2 669.8L128.2 668.4Z" fill="#c0f700"/><path d="M159.5 701.4L163.3 724.4L167.7 721.4L164 698.8Z" fill="url(#c237)"/><path d="M112.3 662.2L117.9 674.5L123.1 671.4L117.6 659.4Z" fill="url(#c238)"/><path d="M101.3 653.5L106.9 665L112.3 662.2L106.8 650.5Z" fill="url(#c239)"/><path d="M170.6 747.7L176.8 748.5L181 744.7L174.8 744.2Z" fill="#26002a"/><path d="M149.9 688.6L154.9 704.1L159.5 701.4L154.7 686.1Z" fill="url(#c240)"/><path d="M139.9 677.7L145.1 691.2L149.9 688.6L144.7 675.6Z" fill="url(#c241)"/><path d="M163.3 724.4L166.2 751.4L170.6 747.7L167.7 721.4Z" fill="url(#c242)"/><path d="M129.1 671.9L134.8 679.9L139.9 677.7L134.2 669.8Z" fill="url(#c243)"/><path d="M117.9 674.5L123.9 674.1L129.1 671.9L123.1 671.4Z" fill="#c4f600"/><path d="M154.9 704.1L158.8 727.5L163.3 724.4L159.5 701.4Z" fill="url(#c244)"/><path d="M106.9 665L112.5 677.6L117.9 674.5L112.3 662.2Z" fill="url(#c245)"/><path d="M145.1 691.2L150.1 706.8L154.9 704.1L149.9 688.6Z" fill="url(#c246)"/><path d="M166.2 751.4L172.5 752.3L176.8 748.5L170.6 747.7Z" fill="#260029"/><path d="M134.8 679.9L140.2 693.9L145.1 691.2L139.9 677.7Z" fill="url(#c247)"/><path d="M158.8 727.5L161.9 755.1L166.2 751.4L163.3 724.4Z" fill="url(#c248)"/><path d="M123.9 674.1L129.7 682.1L134.8 679.9L129.1 671.9Z" fill="url(#c249)"/><path d="M112.5 677.6L118.6 676.3L123.9 674.1L117.9 674.5Z" fill="url(#c250)"/><path d="M150.1 706.8L154.2 730.7L158.8 727.5L154.9 704.1Z" fill="url(#c251)"/><path d="M140.2 693.9L145.3 709.6L150.1 706.8L145.1 691.2Z" fill="url(#c252)"/><path d="M161.9 755.1L168.1 756.1L172.5 752.3L166.2 751.4Z" fill="#270029"/><path d="M129.7 682.1L135.1 696.6L140.2 693.9L134.8 679.9Z" fill="url(#c253)"/><path d="M118.6 676.3L124.5 684.4L129.7 682.1L123.9 674.1Z" fill="url(#c254)"/><path d="M154.2 730.7L157.4 758.9L161.9 755.1L158.8 727.5Z" fill="url(#c255)"/><path d="M145.3 709.6L149.5 733.9L154.2 730.7L150.1 706.8Z" fill="url(#c256)"/><path d="M135.1 696.6L140.4 712.5L145.3 709.6L140.2 693.9Z" fill="url(#c257)"/><path d="M157.4 758.9L163.6 759.9L168.1 756.1L161.9 755.1Z" fill="#270028"/><path d="M124.5 684.4L130 699.4L135.1 696.6L129.7 682.1Z" fill="url(#c258)"/><path d="M149.5 733.9L152.8 762.8L157.4 758.9L154.2 730.7Z" fill="url(#c259)"/><path d="M140.4 712.5L144.7 737.2L149.5 733.9L145.3 709.6Z" fill="url(#c260)"/><path d="M130 699.4L135.3 715.4L140.4 712.5L135.1 696.6Z" fill="url(#c261)"/><path d="M152.8 762.8L159 763.9L163.6 759.9L157.4 758.9Z" fill="#270028"/><path d="M144.7 737.2L148.2 766.7L152.8 762.8L149.5 733.9Z" fill="url(#c262)"/><path d="M135.3 715.4L139.8 740.6L144.7 737.2L140.4 712.5Z" fill="url(#c263)"/><path d="M148.2 766.7L154.4 767.9L159 763.9L152.8 762.8Z" fill="#280028"/><path d="M139.8 740.6L143.5 770.7L148.2 766.7L144.7 737.2Z" fill="url(#c264)"/><path d="M143.5 770.7L149.6 772L154.4 767.9L148.2 766.7Z" fill="#280028"/></g><g font-size="12" fill="#444" dominant-baseline="central" text-anchor="middle"><text transform="translate(123.5 791.3) rotate(-40)">0.1</text><text transform="translate(178 791.8) rotate(34.6)">0.1</text><text transform="translate(112.2 782.7) rotate(-38.9)">0.2</text><text transform="translate(187 783.3) rotate(33.7)">0.2</text><text transform="translate(101.3 774.5) rotate(-37.7)">0.3</text><text transform="translate(195.6 775.2) rotate(32.8)">0.3</text><text transform="translate(90.8 766.6) rotate(-36.7)">0.4</text><text transform="translate(203.9 767.4) rotate(31.9)">0.4</text><text transform="translate(80.7 758.9) rotate(-35.6)">0.5</text><text transform="translate(211.9 759.8) rotate(31.1)">0.5</text><text transform="translate(71 751.6) rotate(-34.7)">0.6</text><text transform="translate(219.6 752.6) rotate(30.4)">0.6</text><text transform="translate(61.7 744.6) rotate(-33.7)">0.7</text><text transform="translate(227 745.6) rotate(29.6)">0.7</text><text transform="translate(52.7 737.8) rotate(-32.8)">0.8</text><text transform="translate(234.2 738.8) rotate(28.9)">0.8</text><text transform="translate(44 731.2) rotate(-32)">0.9</text><text transform="translate(241.1 732.3) rotate(28.2)">0.9</text></g><g font-size="12" fill="#444" dominant-baseline="central" text-anchor="end"><text transform="translate(51.9 712.8) rotate(-20)">−0.4</text><text transform="translate(49.8 681.7) rotate(-20)">−0.35</text><text transform="translate(47.5 647.2) rotate(-20)">−0.3</text><text transform="translate(44.9 608.8) rotate(-20)">−0.25</text></g><g font-size="12.5" fill="#444" text-anchor="middle" dominant-baseline="central"><text x="56" y="777">CO2</text><text x="241" y="777">REC</text></g><rect x="271" y="628.3" width="7" height="104.30000000000007" fill="url(#cbC)" stroke="#555" stroke-width="0.6"/><g stroke="#444" stroke-width="0.8"><path d="M278 629.7L280.5 629.7"/><path d="M278 663L280.5 663"/><path d="M278 696.4L280.5 696.4"/><path d="M278 729.7L280.5 729.7"/></g><g font-size="12.2" fill="#444" dominant-baseline="central"><text x="282.6" y="629.7">−0.25</text><text x="282.6" y="663">−0.3</text><text x="282.6" y="696.4">−0.35</text><text x="282.6" y="729.7">−0.4</text></g></g><rect x="416.3" y="24.8" width="260.99999999999994" height="181.39999999999998" fill="#ff2a2a"/><path d="M416.3 24.8V206.2M416.3 24.8H677.3M430 24.8V206.2M416.3 34.3H677.3M443.8 24.8V206.2M416.3 43.9H677.3M457.5 24.8V206.2M416.3 53.4H677.3M471.2 24.8V206.2M416.3 63H677.3M485 24.8V206.2M416.3 72.5H677.3M498.7 24.8V206.2M416.3 82.1H677.3M512.5 24.8V206.2M416.3 91.6H677.3M526.2 24.8V206.2M416.3 101.2H677.3M539.9 24.8V206.2M416.3 110.7H677.3M553.7 24.8V206.2M416.3 120.3H677.3M567.4 24.8V206.2M416.3 129.8H677.3M581.1 24.8V206.2M416.3 139.4H677.3M594.9 24.8V206.2M416.3 148.9H677.3M608.6 24.8V206.2M416.3 158.5H677.3M622.4 24.8V206.2M416.3 168H677.3M636.1 24.8V206.2M416.3 177.6H677.3M649.8 24.8V206.2M416.3 187.1H677.3M663.6 24.8V206.2M416.3 196.7H677.3M677.3 24.8V206.2M416.3 206.2H677.3" stroke="#6283c4" stroke-width="1" fill="none"/><path d="M424.2 207.0v4M415 201.4h-4M437.9 207.0v4M415 191.9h-4M451.6 207.0v4M415 182.3h-4M465.4 207.0v4M415 172.8h-4M479.1 207.0v4M415 163.2h-4M492.9 207.0v4M415 153.7h-4M506.6 207.0v4M415 144.1h-4M520.3 207.0v4M415 134.6h-4M534.1 207.0v4M415 125h-4M547.8 207.0v4M415 115.5h-4M561.5 207.0v4M415 106h-4M575.3 207.0v4M415 96.4h-4M589 207.0v4M415 86.9h-4M602.7 207.0v4M415 77.3h-4M616.5 207.0v4M415 67.8h-4M630.2 207.0v4M415 58.2h-4M644 207.0v4M415 48.7h-4M657.7 207.0v4M415 39.1h-4M671.4 207.0v4M415 29.6h-4" stroke="#333" stroke-width="1" fill="none"/><g font-size="13" fill="#595959" dominant-baseline="central"><text transform="translate(430.5 214.7) rotate(-90)" text-anchor="end" font-size="13.6">0.05</text><text transform="translate(444.2 214.7) rotate(-90)" text-anchor="end" font-size="13.6">0.10</text><text transform="translate(457.9 214.7) rotate(-90)" text-anchor="end" font-size="13.6">0.15</text><text transform="translate(471.7 214.7) rotate(-90)" text-anchor="end" font-size="13.6">0.20</text><text transform="translate(485.4 214.7) rotate(-90)" text-anchor="end" font-size="13.6">0.25</text><text transform="translate(499.2 214.7) rotate(-90)" text-anchor="end" font-size="13.6">0.30</text><text transform="translate(512.9 214.7) rotate(-90)" text-anchor="end" font-size="13.6">0.35</text><text transform="translate(526.6 214.7) rotate(-90)" text-anchor="end" font-size="13.6">0.40</text><text transform="translate(540.4 214.7) rotate(-90)" text-anchor="end" font-size="13.6">0.45</text><text transform="translate(554.1 214.7) rotate(-90)" text-anchor="end" font-size="13.6">0.50</text><text transform="translate(567.8 214.7) rotate(-90)" text-anchor="end" font-size="13.6">0.55</text><text transform="translate(581.6 214.7) rotate(-90)" text-anchor="end" font-size="13.6">0.60</text><text transform="translate(595.3 214.7) rotate(-90)" text-anchor="end" font-size="13.6">0.65</text><text transform="translate(609 214.7) rotate(-90)" text-anchor="end" font-size="13.6">0.70</text><text transform="translate(622.8 214.7) rotate(-90)" text-anchor="end" font-size="13.6">0.75</text><text transform="translate(636.5 214.7) rotate(-90)" text-anchor="end" font-size="13.6">0.80</text><text transform="translate(650.3 214.7) rotate(-90)" text-anchor="end" font-size="13.6">0.85</text><text transform="translate(664 214.7) rotate(-90)" text-anchor="end" font-size="13.6">0.90</text><text transform="translate(677.7 214.7) rotate(-90)" text-anchor="end" font-size="13.6">0.95</text><text x="408.5" y="201.4" text-anchor="end">0.05</text><text x="408.5" y="191.9" text-anchor="end">0.10</text><text x="408.5" y="182.3" text-anchor="end">0.15</text><text x="408.5" y="172.8" text-anchor="end">0.20</text><text x="408.5" y="163.2" text-anchor="end">0.25</text><text x="408.5" y="153.7" text-anchor="end">0.30</text><text x="408.5" y="144.1" text-anchor="end">0.35</text><text x="408.5" y="134.6" text-anchor="end">0.40</text><text x="408.5" y="125" text-anchor="end">0.45</text><text x="408.5" y="115.5" text-anchor="end">0.50</text><text x="408.5" y="106" text-anchor="end">0.55</text><text x="408.5" y="96.4" text-anchor="end">0.60</text><text x="408.5" y="86.9" text-anchor="end">0.65</text><text x="408.5" y="77.3" text-anchor="end">0.70</text><text x="408.5" y="67.8" text-anchor="end">0.75</text><text x="408.5" y="58.2" text-anchor="end">0.80</text><text x="408.5" y="48.7" text-anchor="end">0.85</text><text x="408.5" y="39.1" text-anchor="end">0.90</text><text x="408.5" y="29.6" text-anchor="end">0.95</text></g><g font-size="15.5" fill="#1a1a1a" text-anchor="middle" dominant-baseline="central"><text x="546" y="253.8">CO2</text><text transform="translate(372 115.2) rotate(-90)">REC</text></g><rect x="419.2" y="300.7" width="259.00000000000006" height="178.10000000000002" fill="#ff2a2a"/><path d="M419.2 300.7V478.8M419.2 300.7H678.2M432.8 300.7V478.8M419.2 310.1H678.2M446.5 300.7V478.8M419.2 319.4H678.2M460.1 300.7V478.8M419.2 328.8H678.2M473.7 300.7V478.8M419.2 338.2H678.2M487.4 300.7V478.8M419.2 347.6H678.2M501 300.7V478.8M419.2 356.9H678.2M514.6 300.7V478.8M419.2 366.3H678.2M528.3 300.7V478.8M419.2 375.7H678.2M541.9 300.7V478.8M419.2 385.1H678.2M555.5 300.7V478.8M419.2 394.4H678.2M569.1 300.7V478.8M419.2 403.8H678.2M582.8 300.7V478.8M419.2 413.2H678.2M596.4 300.7V478.8M419.2 422.6H678.2M610 300.7V478.8M419.2 431.9H678.2M623.7 300.7V478.8M419.2 441.3H678.2M637.3 300.7V478.8M419.2 450.7H678.2M650.9 300.7V478.8M419.2 460.1H678.2M664.6 300.7V478.8M419.2 469.4H678.2M678.2 300.7V478.8M419.2 478.8H678.2" stroke="#6283c4" stroke-width="1" fill="none"/><path d="M427 479.6v4M417.3 474.1h-4M440.6 479.6v4M417.3 464.7h-4M454.3 479.6v4M417.3 455.4h-4M467.9 479.6v4M417.3 446h-4M481.5 479.6v4M417.3 436.6h-4M495.2 479.6v4M417.3 427.2h-4M508.8 479.6v4M417.3 417.9h-4M522.4 479.6v4M417.3 408.5h-4M536.1 479.6v4M417.3 399.1h-4M549.7 479.6v4M417.3 389.8h-4M563.3 479.6v4M417.3 380.4h-4M577 479.6v4M417.3 371h-4M590.6 479.6v4M417.3 361.6h-4M604.2 479.6v4M417.3 352.3h-4M617.9 479.6v4M417.3 342.9h-4M631.5 479.6v4M417.3 333.5h-4M645.1 479.6v4M417.3 324.1h-4M658.8 479.6v4M417.3 314.8h-4M672.4 479.6v4M417.3 305.4h-4" stroke="#333" stroke-width="1" fill="none"/><g font-size="13" fill="#595959" dominant-baseline="central"><text transform="translate(433.3 487.3) rotate(-90)" text-anchor="end" font-size="13.6">0.05</text><text transform="translate(446.9 487.3) rotate(-90)" text-anchor="end" font-size="13.6">0.10</text><text transform="translate(460.6 487.3) rotate(-90)" text-anchor="end" font-size="13.6">0.15</text><text transform="translate(474.2 487.3) rotate(-90)" text-anchor="end" font-size="13.6">0.20</text><text transform="translate(487.8 487.3) rotate(-90)" text-anchor="end" font-size="13.6">0.25</text><text transform="translate(501.5 487.3) rotate(-90)" text-anchor="end" font-size="13.6">0.30</text><text transform="translate(515.1 487.3) rotate(-90)" text-anchor="end" font-size="13.6">0.35</text><text transform="translate(528.7 487.3) rotate(-90)" text-anchor="end" font-size="13.6">0.40</text><text transform="translate(542.4 487.3) rotate(-90)" text-anchor="end" font-size="13.6">0.45</text><text transform="translate(556 487.3) rotate(-90)" text-anchor="end" font-size="13.6">0.50</text><text transform="translate(569.6 487.3) rotate(-90)" text-anchor="end" font-size="13.6">0.55</text><text transform="translate(583.3 487.3) rotate(-90)" text-anchor="end" font-size="13.6">0.60</text><text transform="translate(596.9 487.3) rotate(-90)" text-anchor="end" font-size="13.6">0.65</text><text transform="translate(610.5 487.3) rotate(-90)" text-anchor="end" font-size="13.6">0.70</text><text transform="translate(624.2 487.3) rotate(-90)" text-anchor="end" font-size="13.6">0.75</text><text transform="translate(637.8 487.3) rotate(-90)" text-anchor="end" font-size="13.6">0.80</text><text transform="translate(651.4 487.3) rotate(-90)" text-anchor="end" font-size="13.6">0.85</text><text transform="translate(665.1 487.3) rotate(-90)" text-anchor="end" font-size="13.6">0.90</text><text transform="translate(678.7 487.3) rotate(-90)" text-anchor="end" font-size="13.6">0.95</text><text x="409.2" y="474.1" text-anchor="end">0.05</text><text x="409.2" y="464.7" text-anchor="end">0.10</text><text x="409.2" y="455.4" text-anchor="end">0.15</text><text x="409.2" y="446" text-anchor="end">0.20</text><text x="409.2" y="436.6" text-anchor="end">0.25</text><text x="409.2" y="427.2" text-anchor="end">0.30</text><text x="409.2" y="417.9" text-anchor="end">0.35</text><text x="409.2" y="408.5" text-anchor="end">0.40</text><text x="409.2" y="399.1" text-anchor="end">0.45</text><text x="409.2" y="389.8" text-anchor="end">0.50</text><text x="409.2" y="380.4" text-anchor="end">0.55</text><text x="409.2" y="371" text-anchor="end">0.60</text><text x="409.2" y="361.6" text-anchor="end">0.65</text><text x="409.2" y="352.3" text-anchor="end">0.70</text><text x="409.2" y="342.9" text-anchor="end">0.75</text><text x="409.2" y="333.5" text-anchor="end">0.80</text><text x="409.2" y="324.1" text-anchor="end">0.85</text><text x="409.2" y="314.8" text-anchor="end">0.90</text><text x="409.2" y="305.4" text-anchor="end">0.95</text></g><g font-size="15.5" fill="#1a1a1a" text-anchor="middle" dominant-baseline="central"><text x="547.7" y="524.5">CO2</text><text transform="translate(372 389.5) rotate(-90)">REC</text></g><rect x="416" y="570" width="261.70000000000005" height="182.5" fill="#ff2a2a"/><path d="M416 570V752.5M416 570H677.7M429.8 570V752.5M416 579.6H677.7M443.5 570V752.5M416 589.2H677.7M457.3 570V752.5M416 598.8H677.7M471.1 570V752.5M416 608.4H677.7M484.9 570V752.5M416 618H677.7M498.6 570V752.5M416 627.6H677.7M512.4 570V752.5M416 637.2H677.7M526.2 570V752.5M416 646.8H677.7M540 570V752.5M416 656.4H677.7M553.7 570V752.5M416 666.1H677.7M567.5 570V752.5M416 675.7H677.7M581.3 570V752.5M416 685.3H677.7M595.1 570V752.5M416 694.9H677.7M608.8 570V752.5M416 704.5H677.7M622.6 570V752.5M416 714.1H677.7M636.4 570V752.5M416 723.7H677.7M650.2 570V752.5M416 733.3H677.7M663.9 570V752.5M416 742.9H677.7M677.7 570V752.5M416 752.5H677.7" stroke="#6283c4" stroke-width="1" fill="none"/><path d="M423.9 753.3v4M414.3 747.7h-4M437.7 753.3v4M414.3 738.1h-4M451.4 753.3v4M414.3 728.5h-4M465.2 753.3v4M414.3 718.9h-4M479 753.3v4M414.3 709.3h-4M492.8 753.3v4M414.3 699.7h-4M506.5 753.3v4M414.3 690.1h-4M520.3 753.3v4M414.3 680.5h-4M534.1 753.3v4M414.3 670.9h-4M547.9 753.3v4M414.3 661.2h-4M561.6 753.3v4M414.3 651.6h-4M575.4 753.3v4M414.3 642h-4M589.2 753.3v4M414.3 632.4h-4M602.9 753.3v4M414.3 622.8h-4M616.7 753.3v4M414.3 613.2h-4M630.5 753.3v4M414.3 603.6h-4M644.3 753.3v4M414.3 594h-4M658 753.3v4M414.3 584.4h-4M671.8 753.3v4M414.3 574.8h-4" stroke="#333" stroke-width="1" fill="none"/><g font-size="13" fill="#595959" dominant-baseline="central"><text transform="translate(430.2 761.0) rotate(-90)" text-anchor="end" font-size="13.6">0.05</text><text transform="translate(444 761.0) rotate(-90)" text-anchor="end" font-size="13.6">0.10</text><text transform="translate(457.7 761.0) rotate(-90)" text-anchor="end" font-size="13.6">0.15</text><text transform="translate(471.5 761.0) rotate(-90)" text-anchor="end" font-size="13.6">0.20</text><text transform="translate(485.3 761.0) rotate(-90)" text-anchor="end" font-size="13.6">0.25</text><text transform="translate(499.1 761.0) rotate(-90)" text-anchor="end" font-size="13.6">0.30</text><text transform="translate(512.8 761.0) rotate(-90)" text-anchor="end" font-size="13.6">0.35</text><text transform="translate(526.6 761.0) rotate(-90)" text-anchor="end" font-size="13.6">0.40</text><text transform="translate(540.4 761.0) rotate(-90)" text-anchor="end" font-size="13.6">0.45</text><text transform="translate(554.1 761.0) rotate(-90)" text-anchor="end" font-size="13.6">0.50</text><text transform="translate(567.9 761.0) rotate(-90)" text-anchor="end" font-size="13.6">0.55</text><text transform="translate(581.7 761.0) rotate(-90)" text-anchor="end" font-size="13.6">0.60</text><text transform="translate(595.5 761.0) rotate(-90)" text-anchor="end" font-size="13.6">0.65</text><text transform="translate(609.2 761.0) rotate(-90)" text-anchor="end" font-size="13.6">0.70</text><text transform="translate(623 761.0) rotate(-90)" text-anchor="end" font-size="13.6">0.75</text><text transform="translate(636.8 761.0) rotate(-90)" text-anchor="end" font-size="13.6">0.80</text><text transform="translate(650.6 761.0) rotate(-90)" text-anchor="end" font-size="13.6">0.85</text><text transform="translate(664.3 761.0) rotate(-90)" text-anchor="end" font-size="13.6">0.90</text><text transform="translate(678.1 761.0) rotate(-90)" text-anchor="end" font-size="13.6">0.95</text><text x="406.8" y="747.7" text-anchor="end">0.05</text><text x="406.8" y="738.1" text-anchor="end">0.10</text><text x="406.8" y="728.5" text-anchor="end">0.15</text><text x="406.8" y="718.9" text-anchor="end">0.20</text><text x="406.8" y="709.3" text-anchor="end">0.25</text><text x="406.8" y="699.7" text-anchor="end">0.30</text><text x="406.8" y="690.1" text-anchor="end">0.35</text><text x="406.8" y="680.5" text-anchor="end">0.40</text><text x="406.8" y="670.9" text-anchor="end">0.45</text><text x="406.8" y="661.2" text-anchor="end">0.50</text><text x="406.8" y="651.6" text-anchor="end">0.55</text><text x="406.8" y="642" text-anchor="end">0.60</text><text x="406.8" y="632.4" text-anchor="end">0.65</text><text x="406.8" y="622.8" text-anchor="end">0.70</text><text x="406.8" y="613.2" text-anchor="end">0.75</text><text x="406.8" y="603.6" text-anchor="end">0.80</text><text x="406.8" y="594" text-anchor="end">0.85</text><text x="406.8" y="584.4" text-anchor="end">0.90</text><text x="406.8" y="574.8" text-anchor="end">0.95</text></g><g font-size="15.5" fill="#1a1a1a" text-anchor="middle" dominant-baseline="central"><text x="545.2" y="798">CO2</text><text transform="translate(371.2 661) rotate(-90)">REC</text></g><g font-family="'Liberation Serif',serif" font-weight="bold" font-size="17.4" fill="#000"><text x="18.7" y="11.7">A.  <tspan x="44.9">Short-term</tspan></text><text x="18.7" y="287.5">B.  <tspan x="44.9">Medium-term</tspan></text><text x="18.7" y="556.8">C.  <tspan x="44.9">Long-term</tspan></text></g></svg></body></html>
